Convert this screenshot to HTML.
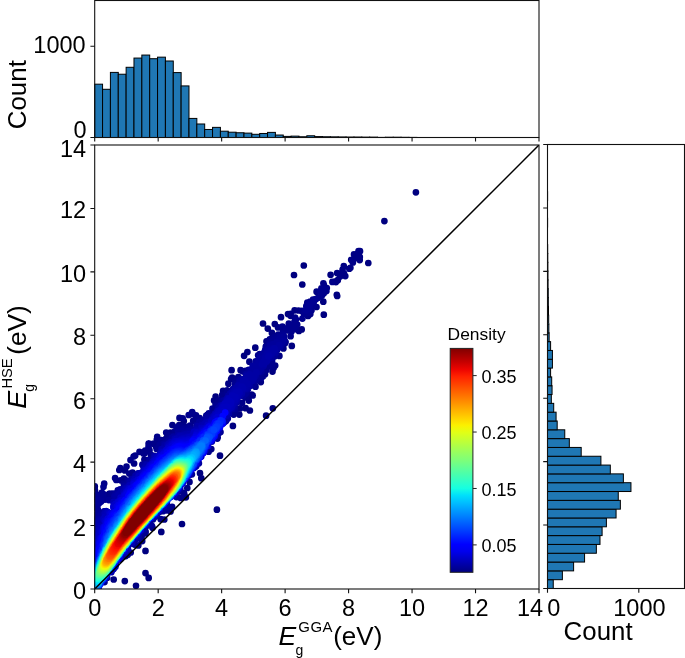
<!DOCTYPE html>
<html><head><meta charset="utf-8"><title>Band gap density plot</title>
<style>
html,body{margin:0;padding:0;background:#fff;}
body{width:685px;height:658px;overflow:hidden;}
svg{display:block;will-change:transform;font-family:"Liberation Sans",Arial,sans-serif;fill:#000;}
</style></head><body>
<svg width="685" height="658" viewBox="0 0 685 658">
<defs>
<clipPath id="cm"><rect x="94.7" y="145.0" width="444.3" height="444.0"/></clipPath>
<linearGradient id="jet" x1="0" y1="0" x2="0" y2="1"><stop offset="0.0000" stop-color="#800000"/><stop offset="0.0312" stop-color="#a40000"/><stop offset="0.0625" stop-color="#c80000"/><stop offset="0.0938" stop-color="#ed0400"/><stop offset="0.1250" stop-color="#ff2200"/><stop offset="0.1562" stop-color="#ff3f00"/><stop offset="0.1875" stop-color="#ff5d00"/><stop offset="0.2188" stop-color="#ff7a00"/><stop offset="0.2500" stop-color="#ff9800"/><stop offset="0.2812" stop-color="#ffb600"/><stop offset="0.3125" stop-color="#ffd300"/><stop offset="0.3438" stop-color="#fbf100"/><stop offset="0.3750" stop-color="#e1ff16"/><stop offset="0.4062" stop-color="#c7ff30"/><stop offset="0.4375" stop-color="#adff49"/><stop offset="0.4688" stop-color="#94ff63"/><stop offset="0.5000" stop-color="#7dff7a"/><stop offset="0.5312" stop-color="#63ff94"/><stop offset="0.5625" stop-color="#49ffad"/><stop offset="0.5938" stop-color="#30ffc7"/><stop offset="0.6250" stop-color="#16ffe1"/><stop offset="0.6562" stop-color="#00e0fb"/><stop offset="0.6875" stop-color="#00c0ff"/><stop offset="0.7188" stop-color="#00a0ff"/><stop offset="0.7500" stop-color="#0080ff"/><stop offset="0.7812" stop-color="#0060ff"/><stop offset="0.8125" stop-color="#0040ff"/><stop offset="0.8438" stop-color="#0020ff"/><stop offset="0.8750" stop-color="#0000ff"/><stop offset="0.9062" stop-color="#0000ed"/><stop offset="0.9375" stop-color="#0000c8"/><stop offset="0.9688" stop-color="#0000a4"/><stop offset="1.0000" stop-color="#000080"/></linearGradient>
</defs>
<rect width="685" height="658" fill="#fff"/>
<!-- top histogram -->
<g fill="#1f77b4" stroke="#000" stroke-width="1">
<rect x="94.70" y="84.18" width="7.86" height="53.32"/>
<rect x="102.56" y="89.29" width="7.86" height="48.21"/>
<rect x="110.41" y="72.40" width="7.86" height="65.10"/>
<rect x="118.27" y="74.23" width="7.86" height="63.27"/>
<rect x="126.13" y="67.29" width="7.86" height="70.21"/>
<rect x="133.98" y="58.07" width="7.86" height="79.43"/>
<rect x="141.84" y="55.06" width="7.86" height="82.44"/>
<rect x="149.70" y="58.71" width="7.86" height="78.79"/>
<rect x="157.55" y="57.16" width="7.86" height="80.34"/>
<rect x="165.41" y="60.99" width="7.86" height="76.51"/>
<rect x="173.27" y="72.59" width="7.86" height="64.91"/>
<rect x="181.12" y="85.92" width="7.86" height="51.58"/>
<rect x="188.98" y="118.42" width="7.86" height="19.08"/>
<rect x="196.83" y="123.99" width="7.86" height="13.51"/>
<rect x="204.69" y="129.47" width="7.86" height="8.03"/>
<rect x="212.55" y="127.37" width="7.86" height="10.13"/>
<rect x="220.40" y="131.20" width="7.86" height="6.30"/>
<rect x="228.26" y="132.20" width="7.86" height="5.30"/>
<rect x="236.12" y="132.75" width="7.86" height="4.75"/>
<rect x="243.97" y="133.12" width="7.86" height="4.38"/>
<rect x="251.83" y="134.30" width="7.86" height="3.20"/>
<rect x="259.69" y="133.48" width="7.86" height="4.02"/>
<rect x="267.54" y="132.39" width="7.86" height="5.11"/>
<rect x="275.40" y="135.03" width="7.86" height="2.47"/>
<rect x="283.26" y="136.40" width="7.86" height="1.10"/>
<rect x="291.11" y="136.13" width="7.86" height="1.37"/>
<rect x="298.97" y="136.77" width="7.86" height="0.73"/>
<rect x="306.83" y="135.77" width="7.86" height="1.73"/>
<rect x="314.68" y="136.59" width="7.86" height="0.91"/>
<rect x="322.54" y="136.77" width="7.86" height="0.73"/>
<rect x="330.40" y="136.86" width="7.86" height="0.64"/>
<rect x="338.25" y="136.95" width="7.86" height="0.55"/>
<rect x="346.11" y="137.04" width="7.86" height="0.46"/>
<rect x="353.97" y="137.04" width="7.86" height="0.46"/>
<rect x="361.82" y="137.13" width="7.86" height="0.37"/>
<rect x="369.68" y="137.13" width="7.86" height="0.37"/>
<rect x="377.53" y="137.41" width="7.86" height="0.09"/>
<rect x="385.39" y="137.23" width="7.86" height="0.27"/>
<rect x="393.25" y="137.23" width="7.86" height="0.27"/>
<rect x="401.10" y="137.32" width="7.86" height="0.18"/>
<rect x="408.96" y="137.41" width="7.86" height="0.09"/>
</g>
<!-- right histogram -->
<g fill="#1f77b4" stroke="#000" stroke-width="1">
<rect x="547.50" y="579.68" width="5.75" height="8.82"/>
<rect x="547.50" y="570.87" width="14.88" height="8.82"/>
<rect x="547.50" y="562.05" width="26.11" height="8.82"/>
<rect x="547.50" y="553.23" width="37.07" height="8.82"/>
<rect x="547.50" y="544.42" width="48.85" height="8.82"/>
<rect x="547.50" y="535.60" width="52.50" height="8.82"/>
<rect x="547.50" y="526.78" width="54.60" height="8.82"/>
<rect x="547.50" y="517.97" width="58.89" height="8.82"/>
<rect x="547.50" y="509.15" width="68.57" height="8.82"/>
<rect x="547.50" y="500.33" width="72.86" height="8.82"/>
<rect x="547.50" y="491.52" width="70.76" height="8.82"/>
<rect x="547.50" y="482.70" width="83.45" height="8.82"/>
<rect x="547.50" y="473.88" width="75.87" height="8.82"/>
<rect x="547.50" y="465.07" width="62.81" height="8.82"/>
<rect x="547.50" y="456.25" width="53.41" height="8.82"/>
<rect x="547.50" y="447.43" width="33.69" height="8.82"/>
<rect x="547.50" y="438.62" width="21.82" height="8.82"/>
<rect x="547.50" y="429.80" width="17.26" height="8.82"/>
<rect x="547.50" y="420.99" width="9.68" height="8.82"/>
<rect x="547.50" y="412.17" width="8.58" height="8.82"/>
<rect x="547.50" y="403.35" width="6.21" height="8.82"/>
<rect x="547.50" y="394.54" width="3.83" height="8.82"/>
<rect x="547.50" y="385.72" width="4.56" height="8.82"/>
<rect x="547.50" y="376.90" width="4.20" height="8.82"/>
<rect x="547.50" y="368.09" width="3.10" height="8.82"/>
<rect x="547.50" y="359.27" width="4.93" height="8.82"/>
<rect x="547.50" y="350.45" width="4.93" height="8.82"/>
<rect x="547.50" y="341.64" width="3.10" height="8.82"/>
<rect x="547.50" y="332.82" width="1.64" height="8.82"/>
<rect x="547.50" y="324.00" width="1.37" height="8.82"/>
<rect x="547.50" y="315.19" width="1.19" height="8.82"/>
<rect x="547.50" y="306.37" width="1.00" height="8.82"/>
<rect x="547.50" y="297.55" width="0.82" height="8.82"/>
<rect x="547.50" y="288.74" width="0.73" height="8.82"/>
<rect x="547.50" y="279.92" width="0.55" height="8.82"/>
<rect x="547.50" y="271.10" width="0.46" height="8.82"/>
<rect x="547.50" y="262.29" width="0.37" height="8.82"/>
<rect x="547.50" y="253.47" width="0.27" height="8.82"/>
<rect x="547.50" y="244.65" width="0.18" height="8.82"/>
<rect x="547.50" y="218.20" width="0.09" height="8.82"/>
<rect x="547.50" y="191.75" width="0.09" height="8.82"/>
</g>
<!-- scatter -->
<g clip-path="url(#cm)" fill="none" stroke-width="6.7" stroke-linecap="round">
<path stroke="#000080" d="M216.9 509.7h0M182.0 524.0h0M415.9 192.3h0M368.3 263.0h0M263.0 323.5h0M124.8 581.1h0M384.4 221.1h0M148.7 577.9h0M113.7 579.5h0M220.0 455.7h0M249.9 410.5h0M145.5 550.9h0M161.3 531.9h0M323.8 314.7h0M303.8 265.5h0M294.0 275.0h0M145.5 573.1h0M136.0 585.8h0M231.6 370.2h0M302.3 284.5h0M267.8 328.6h0M255.3 347.7h0M291.8 345.9h0M232.9 425.9h0M336.8 294.8h0M337.2 296.0h0M247.4 352.0h0M281.0 317.2h0M244.1 355.8h0M183.8 421.1h0M201.3 478.2h0M323.3 301.7h0M274.8 324.0h0M214.1 400.4h0M301.7 329.4h0M272.8 408.3h0M266.1 415.7h0M94.8 486.4h0M245.6 408.2h0M185.9 497.3h0M239.3 414.6h0M98.0 589.0h0M272.5 371.6h0M288.0 314.0h0M200.0 473.2h0M94.7 487.5h0M215.6 396.6h0M298.9 330.9h0M330.6 274.8h0M155.9 446.3h0M94.9 507.3h0M359.7 260.1h0M101.7 497.8h0M294.6 310.3h0M232.1 377.5h0"/>
<path stroke="#000084" d="M345.3 276.1h0M252.7 395.4h0M248.8 400.6h0M231.1 379.1h0M354.0 254.4h0M290.7 313.8h0M271.9 332.9h0M240.6 370.2h0M164.3 519.5h0M249.4 361.7h0M95.0 490.6h0M94.9 490.7h0M359.5 258.9h0M358.5 251.2h0M123.9 478.5h0M298.5 310.5h0M290.6 315.8h0M273.7 367.8h0M179.5 417.9h0M275.2 365.6h0M228.4 383.7h0M179.2 425.2h0M251.6 394.7h0M343.8 266.1h0M120.3 468.2h0M316.5 307.0h0M125.9 552.0h0M360.0 251.2h0M278.0 327.4h0M240.0 408.4h0M359.8 256.9h0M323.4 283.3h0M94.8 492.6h0M337.1 273.1h0M223.1 390.9h0M119.3 470.0h0M96.7 508.3h0M170.5 511.5h0M170.5 432.5h0M310.3 314.0h0M172.4 425.0h0M266.5 341.3h0M211.3 449.1h0M351.2 259.8h0M260.8 382.1h0M358.3 257.1h0M130.7 552.5h0M342.6 269.5h0M142.2 541.1h0M337.8 280.2h0M189.5 481.9h0M350.4 267.8h0M335.9 282.1h0M308.0 316.0h0M349.3 268.7h0M355.1 258.1h0M134.1 463.5h0M138.3 545.4h0M187.3 488.0h0M338.9 273.9h0M124.9 470.4h0M184.2 493.9h0M344.0 273.5h0M133.6 456.5h0M335.7 281.4h0M279.4 355.9h0M167.5 436.0h0M139.5 451.8h0M316.6 291.7h0M94.8 494.9h0M340.0 276.5h0M283.4 348.5h0"/>
<path stroke="#000089" d="M135.2 455.5h0M352.7 261.7h0M180.7 497.9h0M130.5 460.1h0M352.9 262.4h0M160.7 519.2h0M183.8 492.9h0M157.2 436.8h0M307.3 302.5h0M120.7 480.3h0M126.5 466.5h0M149.5 524.0h0M255.5 386.7h0M282.4 326.7h0M166.2 432.5h0M242.1 402.8h0M129.3 473.6h0M242.8 371.3h0M152.5 527.8h0M172.1 506.8h0M296.1 329.2h0M222.1 395.0h0M120.2 559.1h0M219.2 400.5h0M115.1 478.0h0M116.3 480.0h0M156.8 439.7h0M332.4 281.9h0M233.7 414.6h0M182.7 418.3h0M295.1 317.5h0M288.8 323.5h0M104.2 483.5h0M94.9 495.8h0M326.4 291.1h0M196.0 415.3h0M127.7 554.7h0M268.4 340.8h0M108.3 494.5h0M193.2 420.9h0M182.2 426.1h0M149.5 450.2h0M148.6 443.6h0M245.7 397.4h0M141.6 537.1h0M148.6 443.7h0M324.1 285.7h0M311.5 310.3h0M148.9 443.6h0M269.8 339.4h0M153.6 443.7h0M144.4 459.5h0M208.6 451.7h0M227.2 390.3h0M182.7 426.2h0M109.7 493.5h0M272.1 366.0h0M104.5 582.1h0M215.6 404.5h0M290.6 336.2h0M321.4 288.3h0M282.6 328.6h0M237.6 378.1h0M238.4 377.2h0M218.1 400.7h0M192.2 412.0h0M217.3 438.6h0M167.0 510.2h0M94.7 497.0h0M270.4 339.2h0M144.8 453.0h0M145.6 531.7h0M143.5 453.6h0M326.8 288.1h0M235.5 410.9h0M323.8 293.2h0M324.5 286.8h0M195.9 420.2h0M166.1 438.7h0M301.9 310.9h0M181.0 427.3h0M247.6 394.0h0M107.2 577.8h0M132.5 472.6h0M166.4 510.3h0M265.0 374.3h0M145.2 450.5h0M183.8 426.4h0M263.3 376.1h0M322.0 295.2h0M217.7 437.6h0"/>
<path stroke="#00008d" d="M148.5 447.0h0M97.1 494.9h0M308.6 312.2h0M235.4 381.6h0M134.6 544.6h0M323.5 288.8h0M258.1 355.3h0M261.2 377.9h0M321.1 296.0h0M295.9 319.5h0M188.7 415.0h0M96.2 515.9h0M125.7 556.1h0M96.9 514.4h0M308.1 312.6h0M272.0 364.4h0M308.0 303.8h0M176.5 497.1h0M181.0 427.8h0M302.4 318.6h0M297.2 324.5h0M152.0 526.0h0M108.6 498.2h0M286.5 328.4h0M161.3 440.2h0M178.9 491.6h0M294.5 321.6h0M306.3 306.2h0M271.3 365.1h0M322.0 290.2h0M169.9 435.7h0M150.9 454.8h0M198.1 419.6h0M174.9 431.3h0M180.8 427.9h0M321.9 294.0h0M291.5 324.9h0M181.9 427.6h0M244.6 371.6h0M320.2 291.5h0M126.4 555.0h0M270.6 365.7h0M310.2 301.6h0M313.6 305.3h0M285.0 343.3h0M156.7 448.9h0M96.0 497.0h0M196.8 420.9h0M192.7 414.1h0M245.5 370.8h0M294.9 326.3h0M269.7 366.5h0M145.3 533.5h0M295.6 322.5h0M260.6 377.4h0M212.5 408.7h0M293.7 327.9h0M126.6 554.4h0M294.5 325.0h0M103.5 486.8h0M227.6 392.3h0M274.2 337.3h0M285.6 342.0h0M94.7 499.2h0M157.6 448.3h0M270.6 364.0h0M306.4 312.9h0M266.4 370.1h0M259.7 354.1h0M278.2 334.6h0M310.9 301.5h0M237.4 380.4h0M164.9 441.0h0M269.2 365.7h0M98.4 513.4h0M226.6 393.8h0M291.5 331.5h0M290.4 328.2h0M164.8 507.5h0M272.1 361.1h0M318.1 297.8h0M307.0 306.7h0M199.7 418.1h0M101.9 492.5h0M271.7 340.0h0M265.8 346.6h0M269.1 365.4h0M190.0 425.7h0M160.7 445.3h0M282.7 332.9h0M187.9 426.7h0M313.0 299.7h0M185.8 427.5h0M304.0 313.8h0M287.7 330.5h0M105.0 499.6h0M111.9 494.0h0M216.5 405.9h0"/>
<path stroke="#000092" d="M309.5 308.5h0M94.8 499.9h0M305.7 310.3h0M269.9 342.4h0M308.6 309.0h0M103.3 494.1h0M315.7 299.2h0M310.4 303.6h0M308.4 306.4h0M153.1 519.2h0M308.4 308.6h0M177.4 430.6h0M158.5 448.0h0M313.8 301.7h0M217.4 405.6h0M313.5 301.7h0M142.4 464.7h0M221.6 400.8h0M99.6 495.5h0M220.5 432.1h0M112.7 499.8h0M282.9 334.4h0M234.8 408.9h0M208.8 413.4h0M94.7 501.0h0M113.0 493.6h0M176.8 427.3h0M103.2 497.2h0M266.4 346.9h0M256.3 380.6h0M274.4 356.4h0M94.7 501.3h0M94.8 501.2h0M183.8 428.9h0M96.3 521.0h0M123.8 483.9h0M235.1 384.4h0M183.2 429.0h0M166.3 508.1h0M216.1 436.5h0M132.5 541.9h0M185.6 428.7h0M95.8 500.0h0M183.7 429.0h0M94.8 501.7h0M252.6 385.2h0M94.8 501.7h0M94.8 501.8h0M272.0 341.4h0M97.8 518.3h0M279.8 336.9h0M206.3 415.5h0M274.6 339.6h0M159.8 444.5h0M99.0 497.6h0M245.7 393.6h0M207.5 414.7h0M274.4 340.0h0M277.8 338.2h0M183.4 429.6h0M191.9 474.3h0M101.1 501.6h0M254.6 382.2h0M94.8 503.3h0M246.5 392.4h0"/>
<path stroke="#000096" d="M94.9 503.5h0M95.0 509.5h0M100.7 500.5h0M189.0 428.1h0M96.2 501.7h0M97.9 499.8h0M94.7 507.3h0M94.9 512.5h0M239.9 379.4h0M95.2 508.4h0M94.8 512.9h0M94.8 513.1h0M208.7 414.8h0M284.1 336.5h0M95.0 506.3h0M95.2 505.0h0M94.7 513.9h0M94.8 513.6h0M182.8 430.1h0M281.3 337.7h0M96.6 507.8h0M97.3 507.7h0M94.9 513.8h0M95.1 513.5h0M96.5 507.2h0M99.2 503.0h0M270.3 344.0h0M94.9 514.2h0M95.7 505.7h0M95.8 504.9h0M97.8 509.4h0M245.2 393.7h0M94.7 515.1h0M255.6 380.2h0M98.4 504.1h0M243.2 396.1h0M96.5 504.1h0M94.8 515.4h0M97.0 503.2h0M117.8 490.4h0M96.3 523.6h0M95.7 513.7h0M261.5 371.4h0M166.9 504.4h0M163.6 443.8h0M274.5 355.1h0M95.8 514.1h0M127.7 480.7h0M256.9 378.0h0M279.2 339.3h0M162.9 511.2h0M94.7 518.5h0M95.1 518.0h0M97.7 513.8h0M284.3 339.5h0M95.0 518.5h0M265.1 350.2h0M95.0 518.5h0M120.6 556.7h0M95.2 518.3h0M97.9 514.3h0M159.6 511.8h0M255.8 361.3h0M144.8 527.2h0M179.7 431.5h0M98.8 518.6h0M96.7 516.2h0M108.9 500.1h0M248.7 369.8h0M282.7 342.9h0M280.5 346.4h0M239.1 381.0h0M274.3 354.7h0M234.8 406.8h0M180.2 488.5h0M94.8 520.1h0M283.2 341.0h0M143.4 465.3h0"/>
<path stroke="#00009b" d="M178.2 432.2h0M275.9 352.7h0M182.2 431.4h0M283.1 341.2h0M180.9 431.6h0M280.0 347.0h0M270.3 345.7h0M216.4 435.7h0M101.2 513.9h0M139.4 533.1h0M100.7 515.1h0M252.7 365.5h0M99.6 517.9h0M199.3 421.8h0M276.5 342.3h0M227.8 418.5h0M197.0 425.0h0M273.6 344.0h0M196.4 425.4h0M120.2 489.4h0M94.8 521.1h0M104.4 574.0h0M138.7 537.1h0M112.7 562.1h0M133.5 538.0h0M118.4 554.2h0M135.9 538.9h0M108.5 569.2h0M138.6 533.9h0M133.0 539.1h0M141.2 530.0h0M106.7 575.4h0M155.5 516.6h0M143.6 530.0h0M136.5 539.0h0M146.2 526.3h0M150.6 524.3h0M119.7 553.0h0M181.8 431.9h0M119.3 490.3h0M260.1 357.0h0M275.9 352.2h0M115.7 493.7h0M281.1 344.3h0M248.0 388.9h0M204.0 419.9h0M223.6 400.7h0M252.9 365.7h0M96.4 519.2h0M262.7 354.4h0M149.5 459.6h0M263.8 353.2h0M253.7 380.7h0M279.9 345.8h0M268.9 348.3h0M104.0 511.4h0M198.9 463.3h0M271.2 357.7h0M264.6 352.4h0M164.2 444.4h0M224.5 401.9h0M94.9 521.8h0M218.4 433.4h0M256.0 362.4h0M226.8 419.6h0M168.5 440.5h0M226.1 420.8h0M232.8 389.7h0M249.9 385.8h0M246.1 374.1h0M197.1 425.9h0M94.8 522.4h0M261.8 356.0h0M184.3 432.1h0M165.5 443.4h0M277.3 349.5h0M257.0 361.6h0M279.9 343.3h0M252.6 366.7h0M253.0 366.3h0"/>
<path stroke="#00009f" d="M233.5 388.9h0M275.2 352.4h0M145.1 464.4h0M218.0 408.7h0M207.7 417.6h0M188.2 431.0h0M259.4 359.0h0M143.7 465.8h0M267.8 350.3h0M198.1 462.6h0M249.8 385.5h0M171.9 437.8h0M266.7 351.6h0M241.2 380.1h0M239.8 381.7h0M279.2 345.2h0M95.3 531.6h0M124.7 485.9h0M258.8 372.0h0M96.2 589.0h0M269.4 349.7h0M246.8 389.2h0M263.5 365.9h0M253.7 366.1h0M192.5 429.5h0M249.8 385.3h0M114.4 496.3h0M195.3 466.7h0M268.4 350.8h0M249.7 385.2h0M101.4 516.4h0M228.4 395.6h0M256.3 366.1h0M266.7 352.7h0M230.0 393.7h0M260.9 368.7h0M258.6 362.2h0M265.0 354.6h0M267.1 352.5h0M173.6 436.7h0M227.1 418.1h0M105.7 578.1h0M253.6 367.1h0M255.4 366.2h0M234.0 406.4h0M130.0 543.8h0M272.7 348.2h0M276.4 349.6h0M187.4 432.1h0M184.1 432.9h0M255.3 376.3h0M253.2 379.6h0M253.1 368.1h0M250.8 370.2h0M225.1 421.6h0M242.3 379.4h0M251.9 374.4h0M183.8 433.0h0M262.2 366.7h0M264.1 357.0h0M255.9 375.0h0M154.3 516.6h0M261.9 366.9h0M266.5 361.8h0M266.9 353.7h0M252.3 370.4h0M263.8 357.8h0M276.8 348.2h0M241.7 380.3h0M275.6 350.4h0M236.7 402.2h0M257.6 369.7h0M232.1 409.0h0M261.4 362.8h0M186.7 432.6h0M98.1 519.1h0"/>
<path stroke="#0000a4" d="M256.4 372.3h0M248.6 385.9h0M253.6 378.0h0M250.1 376.1h0M267.4 353.9h0M264.1 364.0h0M95.9 522.5h0M267.3 360.5h0M251.4 376.5h0M94.9 524.3h0M254.4 375.0h0M251.6 381.0h0M249.7 374.3h0M157.3 513.4h0M264.4 363.4h0M269.5 352.1h0M274.5 348.3h0M189.1 475.3h0M271.0 350.8h0M265.1 357.7h0M198.7 426.3h0M154.1 455.9h0M165.0 445.0h0M219.1 407.4h0M248.7 377.6h0M261.9 364.3h0M207.9 419.7h0M270.8 351.2h0M246.4 376.0h0M247.0 375.5h0M262.6 362.8h0M273.7 349.2h0M246.4 388.4h0M251.8 379.8h0M268.4 353.8h0M202.5 423.1h0M115.4 566.8h0M245.8 376.8h0M274.9 349.5h0M251.9 379.1h0M131.7 479.2h0M233.6 390.1h0M237.9 385.3h0M263.2 362.0h0M99.3 523.2h0M263.5 361.4h0M248.1 378.7h0M249.6 379.1h0M95.2 524.6h0M272.6 350.2h0M248.2 385.5h0M96.8 521.9h0M206.4 421.1h0M264.7 362.3h0M193.4 430.5h0M264.3 362.6h0M231.7 392.6h0M94.8 525.4h0M228.9 413.6h0M220.6 405.7h0M94.9 525.3h0M145.4 525.7h0M243.9 379.0h0M250.3 379.6h0M104.9 514.0h0M243.4 379.6h0M121.8 490.5h0M250.2 381.5h0M245.8 377.6h0M129.6 481.8h0M123.8 488.4h0M103.3 515.1h0M94.9 525.5h0M273.2 351.6h0M118.0 494.4h0M135.4 537.0h0M272.7 351.0h0M273.1 351.1h0M94.8 526.0h0M271.6 354.2h0M272.0 351.5h0M236.0 387.8h0M249.1 380.7h0M272.3 353.0h0M188.9 433.0h0M245.7 378.6h0M271.2 352.6h0M266.9 357.5h0M245.6 379.4h0M178.0 435.4h0M116.5 496.2h0M218.7 431.4h0M241.5 394.3h0"/>
<path stroke="#0000a8" d="M94.8 526.7h0M185.6 434.2h0M186.4 434.0h0M94.7 531.4h0M94.7 531.8h0M94.7 527.1h0M245.1 380.2h0M135.5 475.7h0M268.4 356.5h0M269.2 356.0h0M269.0 355.7h0M94.7 532.3h0M94.7 530.6h0M94.8 527.0h0M246.0 382.0h0M195.9 429.2h0M105.2 511.3h0M94.9 532.2h0M247.7 383.9h0M94.8 532.6h0M94.7 530.0h0M94.9 530.3h0M117.6 560.0h0M161.4 449.2h0M94.9 530.4h0M185.1 434.4h0M94.8 527.7h0M94.8 529.5h0M187.8 433.8h0M94.8 528.1h0M242.9 381.6h0M138.0 473.3h0M146.7 464.5h0M95.0 529.5h0M221.6 407.5h0M120.5 559.1h0M184.5 434.6h0M164.2 506.1h0M105.0 511.9h0M245.1 388.3h0M227.5 398.0h0M236.3 401.2h0M120.3 492.9h0M245.3 387.8h0M242.0 392.9h0M130.9 480.9h0M98.1 521.7h0M95.4 527.2h0M111.3 572.2h0M236.9 387.7h0M223.4 423.1h0M211.9 441.6h0M118.8 494.5h0M239.1 385.5h0M137.1 537.2h0M95.3 532.5h0M95.6 527.9h0M95.6 527.4h0M197.9 426.1h0M105.3 518.1h0M232.2 407.3h0M242.8 383.7h0M100.3 519.4h0M243.0 383.8h0M196.3 466.1h0M193.0 431.8h0M104.8 518.5h0M226.7 399.2h0M233.0 392.1h0M193.1 431.7h0M113.5 569.0h0M104.1 518.4h0M242.2 384.4h0M239.9 395.5h0M241.3 393.2h0M236.9 399.9h0M182.4 435.2h0M234.7 390.6h0M243.6 386.0h0M124.5 553.1h0M240.3 385.6h0M201.8 425.2h0M97.3 528.6h0M98.0 523.2h0"/>
<path stroke="#0000ad" d="M189.5 434.1h0M98.1 523.9h0M202.4 425.1h0M243.1 388.2h0M241.8 386.7h0M179.8 435.9h0M222.7 407.2h0M98.1 525.5h0M101.0 520.7h0M104.6 513.7h0M162.7 448.8h0M124.7 488.9h0M101.4 521.7h0M234.4 391.3h0M174.0 495.2h0M242.4 387.6h0M185.1 435.6h0M98.8 524.7h0M196.8 429.6h0M100.4 524.1h0M237.5 398.3h0M183.8 435.6h0M174.6 438.5h0M234.4 403.1h0M168.7 443.5h0M106.2 511.1h0M95.0 534.9h0M167.5 444.6h0M241.8 388.6h0M205.8 423.3h0M188.3 435.0h0M218.8 411.4h0M146.5 465.6h0M101.0 522.7h0M241.0 389.4h0M98.7 528.7h0M96.4 532.7h0M127.4 548.9h0M94.7 536.1h0M236.2 399.6h0M215.0 413.8h0M240.1 392.6h0M201.3 426.4h0M232.2 406.0h0M94.9 535.8h0M147.2 465.1h0M206.8 422.0h0M94.9 536.0h0M94.8 536.2h0M94.8 536.3h0M94.7 536.3h0M226.4 415.8h0M113.5 568.6h0M238.1 390.2h0M124.0 490.5h0M138.5 474.2h0"/>
<path stroke="#0000b2" d="M231.5 407.0h0M170.7 442.2h0M217.3 411.3h0M214.1 416.2h0M205.4 423.3h0M239.4 392.7h0M196.3 430.7h0M238.5 394.8h0M141.1 530.1h0M238.8 391.6h0M132.1 542.7h0M154.7 457.6h0M105.1 514.1h0M143.7 469.1h0M226.2 415.8h0M232.2 394.8h0M144.8 468.0h0M113.4 502.2h0M237.4 392.0h0M94.7 537.2h0M185.4 436.8h0M236.2 392.3h0M229.0 398.1h0M238.2 392.7h0M126.8 487.6h0M222.4 405.5h0M238.0 394.3h0M97.2 532.5h0M122.2 553.2h0M95.0 536.6h0M212.6 417.9h0M193.5 432.9h0M232.6 404.5h0M181.5 436.7h0M228.4 398.9h0M94.8 537.2h0M213.2 416.4h0M208.1 446.4h0M179.2 437.0h0M235.0 400.3h0M215.3 414.0h0M236.9 396.4h0M231.8 405.8h0M237.3 393.7h0M229.0 398.5h0M235.1 394.0h0M236.4 396.6h0M222.8 405.2h0M193.2 433.4h0M99.6 528.7h0M99.2 529.8h0M235.9 394.2h0M98.4 532.5h0M216.4 412.9h0M98.1 533.5h0M204.3 425.0h0M230.2 408.2h0M181.7 437.1h0M140.2 473.2h0M126.3 488.6h0M94.7 538.8h0M226.5 414.7h0M127.9 547.9h0M94.8 541.6h0M94.7 543.4h0M178.7 437.5h0M94.7 539.3h0M94.8 538.8h0M94.7 539.3h0M94.7 540.0h0M94.9 538.7h0"/>
<path stroke="#0000b6" d="M94.7 539.6h0M94.9 542.2h0M94.8 543.0h0M94.9 542.6h0M232.9 395.8h0M103.3 519.0h0M235.5 397.2h0M94.9 541.3h0M219.8 427.2h0M155.9 457.0h0M95.3 537.5h0M134.7 479.1h0M94.9 540.4h0M98.8 530.8h0M94.9 540.0h0M225.1 403.0h0M171.7 442.1h0M226.6 401.5h0M94.9 543.8h0M188.0 436.5h0M229.3 398.8h0M226.6 401.4h0M201.1 427.9h0M95.1 542.5h0M228.9 399.2h0M220.0 426.7h0M169.2 444.4h0M95.2 540.5h0M213.9 436.9h0M96.1 540.0h0M156.3 456.8h0M126.1 489.2h0M234.3 396.8h0M197.4 462.8h0M95.9 536.4h0M100.8 526.3h0M94.8 544.8h0M234.0 397.2h0M234.1 397.5h0M161.5 451.6h0M185.6 437.6h0M167.9 445.8h0M133.6 480.7h0M123.7 492.2h0M126.9 488.4h0M230.0 407.6h0M95.5 542.8h0M176.1 492.4h0M176.3 438.9h0M230.4 398.7h0M193.7 468.1h0M95.6 542.2h0M95.8 540.7h0M220.6 425.1h0M95.1 544.9h0M129.5 485.4h0M124.8 491.1h0M111.8 570.6h0M94.8 546.7h0M95.5 544.0h0M230.1 406.8h0M208.6 422.4h0M175.2 439.8h0M184.2 438.2h0M116.0 564.5h0M94.8 547.0h0M230.9 404.8h0M231.8 400.6h0M214.3 417.6h0M231.3 400.1h0M94.8 547.4h0M106.8 513.0h0M229.0 408.6h0M209.4 421.6h0"/>
<path stroke="#0000bb" d="M224.9 404.2h0M224.6 404.5h0M94.8 547.7h0M94.7 548.4h0M185.6 438.1h0M214.7 417.3h0M94.8 548.6h0M229.7 400.9h0M231.0 402.1h0M230.8 403.7h0M94.8 548.6h0M220.2 409.5h0M227.0 412.3h0M95.1 546.6h0M214.1 435.9h0M96.8 539.5h0M104.8 517.1h0M227.6 402.3h0M202.0 428.1h0M222.4 407.1h0M219.3 410.6h0M104.1 519.0h0M99.6 531.4h0M188.2 437.3h0M94.9 550.1h0M138.6 476.0h0M182.2 438.5h0M230.1 403.7h0M95.1 549.0h0M97.4 535.9h0M226.6 403.4h0M100.9 529.7h0M229.1 403.2h0M193.9 467.6h0M182.2 438.6h0M182.0 438.6h0M189.0 437.1h0M98.7 534.3h0M99.0 533.5h0M228.0 403.4h0M192.5 435.4h0M227.6 410.3h0M94.8 551.6h0M215.5 433.4h0M126.5 489.7h0M107.9 512.0h0M185.3 438.6h0M182.7 483.3h0M94.7 552.1h0M216.1 414.8h0M214.5 416.6h0M125.1 551.1h0M228.6 406.2h0M152.6 461.7h0M226.2 404.7h0M215.4 433.3h0M159.7 454.3h0M94.8 552.3h0M225.6 405.4h0M227.8 406.0h0M211.8 419.8h0M178.1 489.5h0M226.1 405.6h0M149.7 464.8h0"/>
<path stroke="#0000bf" d="M183.9 439.0h0M188.8 437.5h0M100.3 530.6h0M192.7 435.6h0M227.0 406.8h0M139.0 476.1h0M223.6 407.4h0M96.9 543.1h0M101.2 528.0h0M218.1 412.9h0M94.8 547.7h0M215.6 415.7h0M226.4 407.2h0M216.5 414.8h0M95.9 549.1h0M226.7 408.7h0M216.6 414.8h0M221.8 409.5h0M160.0 454.3h0M94.7 553.4h0M98.8 535.0h0M96.6 545.5h0M96.2 548.3h0M202.9 428.5h0M99.7 536.0h0M225.9 412.2h0M94.9 553.1h0M145.2 469.8h0M171.7 443.6h0M134.1 481.6h0M169.4 445.6h0M225.2 409.2h0M95.0 552.8h0M104.7 578.4h0M194.6 435.0h0M212.9 436.9h0M174.7 441.3h0M197.3 433.2h0M220.4 411.7h0M194.1 431.9h0M96.9 546.3h0M203.7 428.1h0M201.3 456.6h0M225.2 412.5h0M98.0 538.2h0M95.3 552.6h0M223.4 411.0h0"/>
<path stroke="#0000c4" d="M223.5 411.0h0M158.3 456.4h0M223.6 416.2h0M211.2 421.3h0M138.1 532.8h0M143.2 472.3h0M145.2 470.2h0M96.5 549.2h0M156.9 457.9h0M183.3 439.9h0M222.3 412.0h0M213.2 419.4h0M179.9 486.9h0M207.6 425.0h0M221.3 412.3h0M157.9 511.6h0M94.8 554.4h0M217.6 415.0h0M181.8 440.0h0M197.8 433.3h0M128.8 488.0h0M114.0 505.1h0M186.1 478.2h0M120.6 497.7h0M159.2 455.6h0M99.7 533.6h0M133.8 482.3h0M97.8 544.8h0M94.7 554.9h0M100.2 538.2h0M104.6 530.0h0M180.7 440.2h0M142.4 473.4h0M223.6 415.1h0M154.4 460.7h0M176.1 491.7h0M211.8 421.2h0M220.2 414.1h0M215.3 417.8h0M205.2 450.6h0M168.6 447.0h0M175.7 441.3h0M203.4 429.0h0M137.9 533.0h0M99.0 541.7h0M218.2 426.2h0M222.0 418.5h0M197.5 431.8h0M94.8 555.2h0M95.3 548.7h0M98.6 537.6h0M202.0 430.2h0M163.0 452.2h0M223.0 414.9h0M180.9 440.5h0M222.8 414.9h0"/>
<path stroke="#0000c8" d="M154.7 460.7h0M115.6 503.9h0M221.9 414.7h0M113.4 506.5h0M140.6 529.9h0M149.6 466.1h0M182.4 440.5h0M220.5 415.3h0M195.7 435.5h0M94.9 555.6h0M171.5 444.7h0M216.6 428.8h0M182.7 440.5h0M104.8 520.9h0M155.7 459.8h0M174.1 442.7h0M188.5 439.4h0M221.1 419.3h0M168.4 447.5h0M221.8 417.5h0M99.0 544.4h0M100.0 540.8h0M217.3 427.3h0M217.7 417.4h0M126.2 491.9h0M177.0 441.2h0M109.4 571.0h0M94.8 556.5h0M212.8 421.3h0M219.2 423.3h0M216.1 418.7h0M184.1 440.6h0M217.7 417.7h0M215.8 429.9h0M119.3 558.5h0M184.0 440.7h0M99.4 544.1h0M188.4 439.7h0M212.9 435.4h0M183.4 440.7h0M95.4 554.7h0M94.7 557.1h0M95.0 556.2h0M94.8 556.7h0M220.8 416.8h0M144.6 471.7h0M154.8 514.6h0M220.9 418.4h0M213.6 421.2h0M219.9 421.1h0M95.7 548.9h0M190.5 439.0h0M118.1 501.7h0M109.4 513.0h0M127.9 490.1h0M135.5 481.3h0M97.1 544.1h0M94.7 557.6h0M124.4 494.4h0"/>
<path stroke="#0000cd" d="M216.8 427.4h0M189.9 472.8h0M126.8 491.5h0M94.8 557.3h0M194.3 437.1h0M95.2 551.3h0M210.8 424.0h0M151.2 464.9h0M202.8 430.4h0M152.2 463.9h0M95.0 557.1h0M216.2 418.3h0M206.1 428.0h0M188.2 440.2h0M173.6 443.7h0M102.7 537.0h0M148.4 467.9h0M186.8 440.7h0M219.7 418.7h0M218.9 418.7h0M159.3 509.9h0M94.8 558.4h0M219.1 418.7h0M119.3 558.4h0M97.8 542.1h0M197.3 433.1h0M94.7 558.6h0M165.9 450.4h0M129.6 488.3h0M184.6 441.2h0M124.3 495.0h0M106.8 574.7h0M180.6 441.6h0M178.2 441.6h0M133.2 484.1h0M133.6 483.8h0M159.8 509.4h0M203.7 450.8h0M117.8 502.5h0M113.5 507.7h0M94.9 558.6h0M94.8 559.1h0M133.7 483.7h0M186.1 441.2h0M209.1 426.1h0M96.7 546.6h0M95.9 555.0h0M97.5 550.8h0M129.8 488.3h0M215.9 427.9h0M124.3 549.6h0M212.9 423.6h0M196.4 433.7h0M183.4 441.5h0"/>
<path stroke="#0000d1" d="M211.1 425.0h0M200.0 457.1h0M146.3 470.6h0M185.7 441.6h0M183.6 441.6h0M124.0 549.9h0M217.6 421.4h0M167.5 449.4h0M215.9 422.0h0M210.8 425.6h0M195.7 437.0h0M98.3 541.7h0M94.8 559.9h0M145.5 524.2h0M169.4 447.9h0M95.9 556.0h0M113.1 567.2h0M98.0 542.8h0M118.4 502.6h0M213.2 432.7h0M94.8 560.2h0M217.3 422.6h0M126.2 493.1h0M210.4 426.2h0M123.6 496.5h0M103.6 526.8h0M186.9 441.6h0M185.0 441.9h0M95.7 551.8h0M186.4 441.8h0M182.4 441.9h0M94.7 560.6h0M216.6 424.5h0M150.1 466.8h0M215.6 423.0h0M209.1 427.5h0M217.6 417.1h0M137.9 479.8h0M208.9 427.7h0M215.3 427.6h0M155.6 461.2h0M196.1 437.1h0M97.4 552.1h0M213.0 425.0h0M101.7 531.9h0M202.1 432.3h0M207.9 428.7h0"/>
<path stroke="#0000d6" d="M202.9 431.7h0M95.0 560.1h0M128.6 490.4h0M171.9 446.2h0M188.9 441.4h0M174.3 444.3h0M213.0 432.2h0M120.4 500.7h0M192.1 439.9h0M96.2 550.7h0M215.3 426.5h0M203.5 431.7h0M214.4 424.7h0M135.1 535.9h0M105.9 522.1h0M189.9 441.2h0M153.7 463.4h0M134.1 484.2h0M96.3 556.4h0M163.8 453.4h0M177.1 443.2h0M180.3 442.7h0M103.2 528.6h0M161.0 456.0h0M107.6 518.9h0M214.0 425.8h0M105.9 522.2h0M201.3 433.3h0M134.5 483.9h0M213.5 426.2h0M188.6 441.9h0M211.7 427.3h0M182.6 442.6h0M212.0 427.2h0M206.3 445.0h0M119.8 501.9h0M210.2 428.4h0M204.5 431.8h0M155.5 461.8h0M104.2 579.2h0M144.7 473.2h0M128.5 491.1h0M182.5 442.6h0M196.3 435.1h0M110.4 514.2h0M181.2 442.7h0M129.9 489.3h0M211.9 427.6h0M165.8 451.9h0M212.9 427.2h0M147.4 470.3h0"/>
<path stroke="#0000da" d="M203.6 431.5h0M178.5 443.2h0M160.5 456.7h0M161.9 455.5h0M213.0 427.7h0M185.8 442.9h0M97.9 552.4h0M190.1 441.5h0M104.0 540.5h0M108.2 518.4h0M197.3 437.1h0M185.7 443.0h0M125.1 495.7h0M210.3 429.0h0M119.7 557.2h0M140.9 529.1h0M160.4 456.9h0M162.8 454.8h0M199.2 435.8h0M188.1 442.6h0M121.7 500.2h0M111.5 513.2h0M174.7 445.1h0M126.5 494.2h0M124.8 496.3h0M95.1 557.0h0M203.3 453.0h0M201.2 434.3h0M187.6 442.9h0M98.9 586.8h0M214.9 435.9h0M143.2 475.1h0M102.1 532.7h0M95.8 554.6h0M158.3 459.3h0M152.9 465.0h0M130.7 488.9h0M177.9 443.8h0M142.9 475.5h0M211.1 433.0h0M106.0 576.6h0M110.0 529.9h0M139.4 530.7h0M201.1 454.0h0M188.2 442.9h0M206.6 428.8h0M210.6 433.8h0M149.1 469.0h0M127.8 492.7h0"/>
<path stroke="#0000df" d="M181.4 484.1h0M123.0 550.9h0M151.8 466.2h0M136.3 534.2h0M196.3 438.4h0M181.5 443.3h0M121.8 500.5h0M100.4 538.2h0M126.2 494.9h0M127.9 492.7h0M96.0 559.4h0M98.8 543.5h0M103.8 528.7h0M107.1 521.5h0M103.8 541.8h0M204.3 434.1h0M116.8 506.7h0M107.4 521.0h0M118.1 505.2h0M181.2 484.3h0M183.4 443.6h0M208.6 438.5h0M190.7 442.1h0M194.0 440.3h0M209.6 435.3h0M193.6 440.6h0M97.7 554.8h0M118.6 504.8h0M103.4 529.9h0M131.2 488.9h0M180.0 443.8h0M104.7 526.6h0M200.9 435.6h0M163.9 454.6h0M208.4 427.3h0M118.7 504.8h0M185.7 444.1h0M178.1 444.2h0M187.1 443.9h0M99.2 543.0h0M159.7 458.4h0M169.4 449.9h0M169.8 449.6h0"/>
<path stroke="#0000e3" d="M166.7 452.3h0M176.3 445.1h0M199.2 436.6h0M104.7 527.0h0M202.2 433.5h0M181.0 443.9h0M185.6 444.3h0M151.2 517.7h0M144.9 474.1h0M95.5 557.9h0M127.5 493.8h0M206.2 434.6h0M143.2 476.0h0M186.3 444.3h0M135.9 534.6h0M101.4 546.9h0M201.2 436.2h0M161.4 457.1h0M195.7 436.9h0M95.2 562.2h0M202.1 436.2h0M140.2 479.2h0M155.0 463.7h0M204.0 435.8h0M187.2 444.2h0M127.7 493.8h0M183.6 444.3h0M189.7 443.3h0M207.8 435.1h0M196.1 463.4h0M192.9 468.0h0M133.3 486.9h0M142.6 476.8h0M184.3 444.6h0M113.6 565.5h0M94.8 563.3h0M147.3 471.9h0M120.0 554.7h0M209.9 426.1h0M186.2 444.7h0M207.2 435.5h0M198.7 437.2h0"/>
<path stroke="#0000e8" d="M171.0 449.2h0M204.3 431.6h0M99.8 583.7h0M191.6 442.7h0M174.7 446.5h0M206.9 435.9h0M188.1 444.2h0M161.7 457.2h0M119.2 505.2h0M208.7 427.3h0M168.5 451.5h0M191.5 442.9h0M95.2 560.4h0M121.4 502.7h0M104.9 527.4h0M185.5 445.1h0M98.7 587.0h0M203.5 448.1h0M191.4 443.1h0M162.3 457.0h0M99.7 543.4h0M183.2 445.0h0M196.9 460.7h0M142.6 477.5h0M191.6 443.2h0M108.5 520.8h0M211.7 440.1h0M100.9 549.2h0"/>
<path stroke="#0000ed" d="M192.7 442.7h0M102.8 545.4h0M193.8 442.1h0M167.3 452.9h0M108.2 521.4h0M197.6 438.3h0M106.9 523.8h0M95.2 561.5h0M187.2 475.9h0M113.3 513.5h0M181.4 444.9h0M200.9 438.7h0M143.4 476.7h0M114.0 512.6h0M110.6 517.7h0M130.2 491.5h0M188.6 444.7h0M96.0 589.0h0M166.9 453.4h0M150.4 469.3h0M170.5 497.1h0M101.1 539.3h0M130.2 491.7h0M170.9 496.7h0M144.3 475.8h0M152.1 467.7h0M205.8 438.4h0M185.5 445.7h0M115.0 563.2h0M98.6 555.2h0M94.8 564.1h0M112.3 515.2h0M136.7 533.4h0M98.7 548.2h0M107.5 522.9h0M101.6 581.4h0M188.5 444.9h0M135.6 485.3h0M152.9 466.9h0M96.2 557.8h0M95.4 562.8h0M122.4 502.3h0M107.1 523.7h0M166.6 453.9h0M146.0 474.2h0M138.4 482.3h0M174.6 447.3h0M120.6 504.5h0M98.2 550.0h0M94.8 564.2h0M190.3 444.4h0M134.8 486.4h0M180.0 445.4h0M204.2 438.7h0M118.4 507.4h0"/>
<path stroke="#0000f1" d="M184.2 445.9h0M95.0 564.0h0M95.3 587.5h0M198.5 439.8h0M206.2 430.3h0M159.0 460.8h0M105.0 528.5h0M181.5 445.6h0M102.0 537.4h0M202.9 439.5h0M101.7 548.6h0M203.0 452.9h0M112.6 515.4h0M187.6 445.8h0M204.5 439.8h0M196.2 439.6h0M193.1 443.2h0M94.9 564.4h0M193.9 439.3h0M143.3 477.6h0M142.3 478.6h0M97.7 553.2h0M146.2 474.6h0M96.2 586.6h0M172.2 449.6h0M94.8 564.6h0M136.8 484.7h0M98.0 585.0h0M100.6 542.6h0M185.2 446.5h0"/>
<path stroke="#0000f6" d="M162.7 457.9h0M213.1 437.8h0M136.0 485.7h0M163.0 457.6h0M114.4 513.3h0M152.5 468.1h0M162.4 458.2h0M136.9 484.8h0M187.1 446.3h0M203.8 451.6h0M177.5 446.3h0M157.1 463.4h0M104.8 530.0h0M129.9 493.2h0M149.0 471.9h0M188.7 446.0h0M203.0 440.7h0M97.4 559.3h0M104.5 531.0h0M100.5 543.5h0M95.0 565.6h0M160.2 460.4h0M148.8 472.2h0M95.6 563.2h0M157.7 463.0h0M201.5 435.4h0M139.8 481.9h0M117.3 559.5h0M173.0 449.3h0M199.9 441.5h0M181.6 446.4h0M121.5 504.8h0M167.3 500.4h0M180.8 446.4h0M200.9 441.4h0M108.6 571.9h0"/>
<path stroke="#0000fa" d="M95.9 562.3h0M183.0 446.8h0M154.5 513.8h0M155.0 513.3h0M103.2 579.0h0M179.1 446.3h0M162.2 458.9h0M187.9 474.5h0M125.3 499.8h0M188.6 446.4h0M180.7 446.5h0M102.1 538.6h0M124.1 501.6h0M184.9 447.2h0M200.3 436.8h0M144.0 477.7h0M154.2 466.9h0M191.5 445.1h0M116.4 511.4h0M179.5 446.6h0M186.1 447.3h0M128.7 495.4h0M137.0 485.4h0M202.9 446.2h0M178.5 446.6h0M105.9 575.5h0M97.0 558.1h0M207.4 446.0h0M142.2 479.8h0M119.2 508.0h0M186.1 447.4h0M144.8 477.0h0M146.4 475.4h0M163.0 458.5h0M184.1 447.4h0M222.6 423.8h0M190.1 446.2h0M108.3 523.7h0M188.8 446.8h0M113.3 515.7h0M184.3 447.5h0M108.0 572.7h0"/>
<path stroke="#0000ff" d="M99.3 549.5h0M163.6 458.1h0M187.3 475.3h0M215.0 422.4h0M96.2 562.0h0M192.7 441.0h0M94.8 565.5h0M202.3 442.6h0M100.7 581.7h0M203.6 433.7h0M157.4 464.0h0M124.1 502.1h0M98.2 553.9h0M164.0 457.9h0M136.8 486.1h0M138.5 531.0h0M109.8 569.2h0M97.7 556.1h0M199.8 457.5h0M185.3 447.9h0M188.5 447.3h0M146.0 476.2h0M181.4 447.4h0M184.6 447.9h0M125.3 500.7h0M178.8 447.1h0M194.9 442.6h0M159.4 462.3h0M180.0 447.2h0M128.2 496.8h0M181.6 447.4h0M203.8 433.6h0M139.1 483.7h0M103.3 536.5h0M175.5 448.4h0M186.4 448.1h0"/>
<path stroke="#0000ff" d="M98.4 553.8h0M190.9 445.9h0M103.2 579.4h0M133.3 490.5h0M195.4 443.4h0M145.0 477.5h0M155.3 466.6h0M114.2 515.2h0M99.9 548.3h0M167.3 455.3h0M151.0 471.2h0M174.4 449.2h0M138.2 484.9h0M130.5 493.9h0M95.2 566.8h0M188.1 447.9h0M178.7 487.1h0M169.7 453.2h0M174.0 492.8h0M147.2 475.3h0M210.7 440.7h0M188.4 447.8h0M212.4 438.2h0M198.2 444.0h0M96.1 589.0h0M152.7 469.6h0M104.0 577.6h0M195.1 462.1h0M219.9 427.2h0M166.8 456.0h0"/>
<path stroke="#0000ff" d="M181.2 448.0h0M133.0 491.2h0M200.9 444.0h0M188.4 448.0h0M173.6 450.1h0M104.2 534.6h0M177.7 447.8h0M103.6 536.5h0M110.5 521.1h0M184.6 448.6h0M94.8 566.4h0M102.5 540.0h0M184.6 479.0h0M97.4 559.4h0M180.8 448.0h0M181.4 448.2h0M159.1 463.2h0M178.3 447.8h0M213.6 436.3h0M167.6 455.4h0M170.6 452.7h0M217.2 420.8h0M184.2 448.7h0M167.8 455.3h0M191.8 445.5h0M160.8 461.7h0M130.6 494.4h0M196.8 441.0h0M110.8 520.9h0M98.1 556.7h0M167.3 455.8h0M140.8 482.8h0M105.4 531.5h0M107.3 527.3h0M182.7 448.6h0M165.9 501.6h0M180.9 448.4h0M156.2 466.4h0M133.2 491.4h0M176.1 448.8h0M202.8 452.6h0M130.2 495.1h0M159.7 462.9h0M97.4 560.2h0M103.6 537.2h0M150.9 472.1h0"/>
<path stroke="#0000ff" d="M124.5 502.7h0M120.7 507.6h0M119.3 509.3h0M146.7 521.7h0M214.7 434.5h0M100.3 583.7h0M100.6 547.6h0M138.6 485.3h0M94.9 566.5h0M186.6 449.3h0M146.6 476.7h0M184.4 449.2h0M217.0 431.0h0M177.2 448.5h0M143.1 480.6h0M199.4 438.8h0M171.3 452.5h0M199.9 445.0h0M214.8 423.6h0M163.7 503.9h0M99.4 552.3h0M196.4 441.7h0M185.5 449.4h0M182.0 448.8h0M99.0 553.7h0M225.2 412.6h0M124.2 503.3h0M166.0 457.2h0M160.7 462.1h0M95.6 566.5h0M97.1 561.8h0M157.3 465.6h0M150.4 517.8h0M173.2 451.0h0M120.2 508.6h0M139.9 484.2h0M184.5 478.9h0M123.9 503.7h0M94.9 568.4h0M142.2 481.7h0M124.1 548.5h0M191.0 469.8h0"/>
<path stroke="#0000ff" d="M182.4 449.1h0M96.1 564.1h0M183.0 481.1h0M104.6 534.9h0M105.6 532.0h0M186.7 449.6h0M127.9 498.5h0M185.3 449.8h0M100.3 555.5h0M162.4 460.8h0M145.0 478.9h0M101.7 552.6h0M179.6 448.9h0M188.2 448.8h0M135.9 488.9h0M154.6 468.8h0M107.4 572.7h0M118.3 511.3h0M172.9 451.6h0M196.2 442.1h0M144.1 480.0h0M184.2 449.9h0M199.5 457.4h0M161.6 461.6h0M139.2 485.4h0M201.8 436.7h0M120.4 508.9h0M95.5 567.4h0M179.7 449.2h0"/>
<path stroke="#0004ff" d="M139.3 485.3h0M147.1 476.9h0M193.5 444.7h0M115.2 515.7h0M173.5 451.3h0M96.5 589.0h0M137.3 532.1h0M143.7 524.9h0M184.5 450.1h0M97.6 561.1h0M192.6 445.4h0M187.0 449.7h0M94.8 567.5h0M110.7 522.6h0M187.1 449.7h0M177.3 449.3h0M97.1 588.7h0M98.0 559.9h0M97.7 587.8h0M124.3 504.0h0M101.1 547.6h0M169.5 454.8h0M211.5 427.5h0M222.7 416.0h0M155.3 468.3h0M218.2 420.8h0M145.0 479.4h0M184.7 450.5h0M171.8 452.9h0M183.1 450.1h0M172.7 452.2h0M187.9 449.2h0M106.1 532.0h0M96.6 564.5h0M96.0 566.4h0"/>
<path stroke="#0008ff" d="M122.4 506.7h0M137.8 487.3h0M192.2 445.9h0M187.8 449.3h0M180.8 449.9h0M170.7 496.3h0M212.1 437.5h0M209.7 441.2h0M180.9 449.9h0M199.5 450.1h0M180.9 449.9h0M188.2 473.6h0M123.7 549.0h0M152.3 471.7h0M101.4 547.3h0M177.9 449.6h0M141.7 483.2h0M142.4 482.4h0M101.6 546.7h0M199.6 457.0h0M144.7 479.9h0M100.3 583.6h0M155.9 468.0h0M180.3 450.1h0M116.3 515.0h0M194.4 462.1h0M211.0 428.3h0M185.7 477.0h0M148.9 475.5h0M191.9 468.2h0M160.2 463.7h0M220.1 425.6h0M206.5 432.7h0M182.7 450.5h0M104.6 537.3h0"/>
<path stroke="#000cff" d="M194.8 444.0h0M94.9 567.9h0M149.7 474.7h0M207.1 432.2h0M204.2 449.5h0M172.6 452.8h0M106.2 532.6h0M202.0 437.1h0M123.9 505.1h0M181.6 482.7h0M94.9 567.9h0M194.9 443.9h0M188.5 449.0h0M141.3 483.9h0M169.8 497.1h0M159.3 464.7h0M102.8 543.4h0M104.4 538.2h0M115.8 516.0h0M181.4 450.4h0M140.9 484.3h0M181.3 450.4h0M125.0 503.8h0M108.1 528.8h0M113.3 519.8h0M156.3 467.9h0M182.3 450.7h0M173.6 452.2h0M125.0 547.2h0M156.4 467.8h0M189.8 448.2h0M173.3 452.5h0M124.4 504.8h0M109.2 526.7h0M187.7 449.7h0M182.3 450.8h0M100.7 582.9h0M184.3 451.4h0M115.3 517.1h0M110.5 524.5h0"/>
<path stroke="#0010ff" d="M117.1 514.6h0M104.2 576.3h0M184.2 451.5h0M96.1 589.0h0M156.5 467.9h0M113.4 520.0h0M126.3 502.3h0M179.4 450.6h0M94.7 568.9h0M110.9 524.0h0M112.6 521.2h0M144.7 480.5h0M96.0 566.8h0M149.2 475.7h0M94.7 569.0h0M123.2 506.7h0M119.2 554.9h0M123.7 506.0h0M130.7 496.5h0M206.6 433.2h0M181.7 451.0h0M159.2 465.2h0M155.8 468.8h0M162.0 462.6h0M127.2 501.2h0M168.7 456.6h0M129.5 498.1h0M164.6 460.2h0M169.9 455.6h0M99.1 585.3h0M97.3 563.7h0M104.3 576.0h0M94.8 569.1h0"/>
<path stroke="#0014ff" d="M183.8 451.8h0M183.4 451.7h0M174.6 452.0h0M203.2 436.5h0M194.9 444.4h0M156.9 467.7h0M185.4 451.5h0M102.2 578.5h0M117.1 558.1h0M94.9 568.9h0M213.7 434.3h0M100.7 552.2h0M113.6 520.3h0M197.3 442.3h0M112.0 565.4h0M108.9 528.4h0M94.9 568.9h0M159.1 465.5h0M149.1 476.2h0M179.1 451.0h0M162.4 462.4h0M139.5 486.6h0M148.6 476.7h0M186.6 450.8h0M200.0 439.8h0M186.9 450.6h0M176.4 451.4h0M188.0 449.9h0M197.9 452.3h0M119.0 555.2h0M213.0 435.3h0M183.8 452.1h0M176.3 451.5h0M146.6 478.9h0M130.1 540.5h0M165.2 460.0h0M114.8 561.4h0M124.4 505.5h0M204.5 435.5h0M132.1 495.1h0M193.5 465.7h0M176.0 451.6h0M172.4 453.9h0M183.3 452.1h0"/>
<path stroke="#0018ff" d="M216.2 424.1h0M179.7 451.4h0M102.8 545.0h0M211.7 437.1h0M94.7 569.7h0M166.2 459.3h0M94.8 569.5h0M219.7 425.1h0M222.5 421.0h0M94.7 569.7h0M143.1 482.8h0M205.6 446.5h0M95.5 567.7h0M113.1 521.5h0M182.8 452.1h0M199.5 456.5h0M104.3 540.6h0M130.5 497.4h0M127.6 501.2h0M194.1 464.6h0M131.0 539.4h0M95.8 589.0h0M211.8 436.8h0M158.4 466.6h0M131.0 496.8h0M100.4 554.5h0M180.8 451.7h0M184.6 452.2h0M194.5 445.1h0M132.8 494.5h0M135.0 492.0h0M187.2 450.7h0M94.7 570.1h0M131.4 538.8h0M170.3 455.9h0M161.6 463.6h0M95.4 568.2h0M102.8 579.3h0M168.5 457.6h0"/>
<path stroke="#001cff" d="M144.2 481.9h0M181.9 452.1h0M94.7 570.3h0M199.4 456.5h0M202.1 452.1h0M101.7 581.0h0M143.5 524.8h0M179.1 451.7h0M126.6 503.0h0M103.1 577.1h0M96.4 566.4h0M99.7 584.1h0M122.6 508.6h0M150.2 475.5h0M95.6 567.8h0M214.1 433.2h0M173.2 453.9h0M137.0 489.9h0M174.0 453.3h0M174.3 453.1h0M94.7 570.4h0M168.7 457.6h0M95.3 583.9h0M103.5 543.9h0M157.1 468.2h0M168.5 457.8h0M170.8 455.8h0M179.4 451.9h0M176.1 452.3h0M178.5 486.7h0M106.1 536.2h0M178.0 487.4h0M148.4 477.5h0M166.4 459.6h0M182.6 452.7h0M196.5 449.9h0M181.0 452.2h0M110.3 527.1h0M164.6 502.5h0M146.8 479.3h0M163.2 462.4h0M110.9 526.1h0"/>
<path stroke="#0020ff" d="M175.7 452.6h0M148.4 519.4h0M217.5 423.3h0M187.3 450.9h0M128.3 500.9h0M98.4 561.7h0M116.8 517.1h0M163.5 462.3h0M200.7 439.8h0M103.3 578.5h0M189.3 471.4h0M188.1 450.3h0M155.5 470.1h0M147.4 478.8h0M114.3 520.6h0M94.8 570.5h0M177.4 452.2h0M155.6 470.0h0M143.8 482.7h0M180.4 452.3h0M192.7 447.0h0M185.3 477.1h0M123.3 508.0h0M173.4 454.1h0M96.5 583.1h0M212.0 429.0h0M161.7 464.0h0M163.2 462.6h0M166.6 459.7h0M102.0 549.7h0M153.4 472.5h0M116.2 559.0h0M125.4 505.2h0M99.0 585.1h0M94.9 570.6h0M183.3 453.1h0M170.5 456.5h0M128.3 501.1h0M150.9 475.1h0M99.0 560.1h0M156.5 469.3h0M131.9 538.2h0M173.1 454.5h0M210.3 430.8h0M173.4 454.3h0M169.4 457.4h0M109.8 528.6h0M147.4 479.0h0"/>
<path stroke="#0024ff" d="M220.6 420.3h0M117.7 516.2h0M199.3 441.4h0M216.3 429.4h0M171.7 494.7h0M131.7 496.8h0M169.5 497.2h0M185.0 452.4h0M176.4 452.8h0M115.4 519.6h0M165.8 460.6h0M114.5 520.8h0M154.8 471.2h0M154.6 512.9h0M180.4 452.7h0M112.8 523.7h0M117.4 516.7h0M172.9 454.8h0M180.6 452.8h0M134.6 493.3h0M139.4 487.9h0M187.4 474.0h0M136.8 532.2h0M94.7 571.6h0M203.8 437.2h0M104.3 542.5h0M113.4 522.7h0M173.4 454.5h0M162.2 463.8h0M116.0 518.9h0M113.2 523.1h0M159.5 507.8h0M215.3 426.0h0M115.5 519.6h0M214.6 431.6h0M169.4 457.8h0M105.8 538.2h0M94.7 572.0h0"/>
<path stroke="#0028ff" d="M120.5 512.8h0M182.6 453.5h0M128.3 501.6h0M135.4 492.6h0M168.4 498.3h0M164.9 461.7h0M202.5 450.7h0M130.2 499.0h0M111.0 527.1h0M168.2 458.9h0M172.3 455.5h0M167.9 459.2h0M217.1 427.7h0M100.1 557.8h0M204.7 447.0h0M167.0 459.9h0M187.6 451.1h0M188.5 450.5h0M201.5 452.2h0M138.8 488.9h0M101.0 554.9h0M167.6 459.5h0M203.2 449.3h0M126.9 503.7h0M140.5 487.0h0M175.1 453.9h0M180.7 453.2h0M166.5 460.4h0M94.7 572.3h0M129.9 540.6h0M131.9 497.0h0M164.6 502.3h0M144.9 482.3h0M210.5 431.1h0M168.4 458.9h0M181.0 483.2h0M94.7 572.6h0M182.0 453.7h0"/>
<path stroke="#002cff" d="M153.4 473.2h0M171.2 456.7h0M129.0 501.0h0M190.4 449.4h0M219.9 423.3h0M103.6 545.7h0M163.2 463.4h0M164.9 462.0h0M111.9 526.1h0M187.1 451.7h0M146.9 480.2h0M180.8 453.6h0M150.6 476.3h0M142.0 485.6h0M95.8 569.0h0M94.7 572.9h0M96.6 566.8h0M203.5 448.6h0M196.0 452.3h0M147.1 520.6h0M176.8 453.5h0M101.9 552.2h0M152.0 474.8h0M199.2 455.7h0M99.8 559.0h0M150.8 476.1h0M96.3 567.5h0M103.7 545.9h0M161.7 465.0h0M123.0 509.8h0M175.5 454.1h0M153.4 473.4h0M118.9 515.7h0M165.9 461.4h0M193.0 451.8h0M200.1 441.4h0M195.8 452.2h0M191.5 467.8h0M128.6 501.9h0M208.9 439.8h0M167.5 460.1h0M177.7 453.4h0M109.1 531.9h0M178.7 453.3h0M106.3 538.1h0"/>
<path stroke="#0030ff" d="M111.4 527.4h0M181.2 453.9h0M180.0 453.7h0M207.5 434.4h0M178.5 453.3h0M178.9 453.4h0M188.1 472.9h0M155.7 471.1h0M198.6 456.7h0M191.1 449.1h0M119.4 515.2h0M97.4 564.9h0M142.8 485.0h0M128.2 502.6h0M144.9 523.0h0M157.5 469.3h0M207.8 441.4h0M191.9 448.6h0M122.4 511.1h0M115.3 521.3h0M166.8 499.9h0M94.7 573.7h0M131.6 498.0h0M178.2 453.5h0M218.4 423.6h0M210.7 431.4h0M111.9 526.9h0M157.9 468.9h0M165.3 462.2h0M116.8 519.1h0M95.3 582.6h0M133.3 496.0h0M142.8 485.1h0M118.5 516.7h0M204.8 446.2h0M176.6 454.0h0M123.8 509.1h0M95.8 569.2h0M144.5 483.3h0M113.0 525.1h0M150.0 477.3h0M196.3 460.2h0M107.9 534.9h0M124.8 507.7h0M114.9 560.2h0M114.6 522.6h0"/>
<path stroke="#0034ff" d="M195.4 455.4h0M153.6 473.6h0M199.0 455.7h0M211.1 431.3h0M184.6 453.3h0M181.2 454.4h0M141.1 487.1h0M125.0 507.6h0M169.7 458.8h0M205.7 444.5h0M120.1 514.7h0M182.3 454.4h0M193.9 463.9h0M212.8 429.7h0M181.8 454.6h0M158.6 468.5h0M138.8 489.8h0M176.9 454.2h0M102.8 579.0h0M152.4 475.0h0M110.6 566.2h0M114.1 523.8h0M116.8 519.7h0M155.9 471.4h0M184.0 478.6h0M196.9 458.9h0M197.0 444.8h0M134.7 494.7h0M160.6 466.6h0M102.5 551.5h0M141.4 487.0h0M98.2 563.8h0M133.2 496.5h0M167.2 499.4h0M169.1 497.4h0M100.9 556.7h0M193.1 448.1h0M163.8 463.9h0"/>
<path stroke="#0038ff" d="M164.1 463.7h0M111.5 565.7h0M204.0 447.0h0M192.1 448.8h0M212.1 434.1h0M162.7 504.2h0M105.7 574.6h0M101.5 555.0h0M217.1 426.4h0M97.2 565.9h0M169.8 459.0h0M102.2 553.0h0M178.3 454.1h0M95.0 571.6h0M157.0 470.4h0M213.4 429.3h0M162.6 465.0h0M173.8 456.0h0M153.1 474.5h0M117.5 519.1h0M129.4 501.6h0M170.8 495.5h0M136.8 492.4h0M140.4 488.3h0M174.0 456.0h0M174.1 455.9h0M146.4 521.3h0M133.1 496.8h0M106.7 538.6h0M122.5 511.8h0M145.9 482.3h0M215.4 428.7h0M180.7 454.9h0M100.1 583.0h0M170.9 458.4h0"/>
<path stroke="#003cff" d="M138.8 490.3h0M201.3 451.5h0M113.5 525.5h0M157.1 470.6h0M211.9 431.0h0M166.1 462.3h0M94.9 574.7h0M171.8 457.7h0M208.0 434.8h0M140.9 488.0h0M100.2 578.8h0M196.5 445.7h0M177.9 454.4h0M94.8 575.2h0M168.0 460.8h0M194.8 447.1h0M194.2 447.6h0M96.8 567.1h0M178.7 454.5h0M124.3 509.5h0M211.4 434.8h0M104.8 544.5h0M215.9 427.7h0M96.3 568.5h0M175.4 455.5h0M192.1 449.2h0M215.9 427.4h0M136.4 493.2h0M150.8 477.3h0M98.3 585.7h0M147.6 480.8h0M162.8 465.3h0M125.6 507.6h0M145.6 483.0h0M116.9 520.5h0M103.1 578.4h0M167.7 461.3h0M112.7 527.2h0"/>
<path stroke="#0040ff" d="M189.4 451.1h0M124.6 509.3h0M145.3 483.4h0M137.6 492.0h0M95.2 589.0h0M126.1 507.0h0M112.3 528.0h0M165.2 463.4h0M163.2 465.1h0M124.8 509.0h0M130.0 501.4h0M171.5 458.3h0M201.2 451.2h0M183.9 454.2h0M123.9 510.5h0M176.4 455.2h0M171.4 458.4h0M152.6 475.6h0M128.3 503.9h0M132.1 498.6h0M166.8 462.3h0M154.7 512.4h0M115.9 522.4h0M115.6 522.8h0M124.5 509.7h0M104.1 547.4h0M96.2 588.7h0M141.0 488.3h0M125.6 545.7h0M192.2 465.9h0M170.8 459.0h0M174.3 456.5h0M110.8 531.1h0M106.9 570.9h0M198.5 444.4h0"/>
<path stroke="#0044ff" d="M178.8 455.1h0M167.9 461.5h0M135.9 494.2h0M190.9 450.4h0M123.5 511.4h0M111.0 530.7h0M134.3 496.2h0M185.0 476.9h0M94.7 581.1h0M200.7 451.8h0M94.7 581.1h0M198.5 444.5h0M94.7 581.0h0M94.7 581.0h0M170.2 459.7h0M213.9 429.9h0M209.7 436.8h0M186.0 453.4h0M94.7 581.0h0M94.7 581.0h0M94.7 581.0h0M183.3 454.5h0M96.8 580.9h0M94.8 581.0h0M136.9 493.3h0M131.1 500.4h0M128.0 504.7h0M96.2 569.1h0M188.1 472.2h0M180.7 455.7h0M169.5 460.3h0M108.2 536.5h0M94.8 580.9h0M205.0 444.3h0M126.5 507.0h0M163.2 465.6h0M167.8 461.8h0M186.0 475.4h0M188.2 472.1h0M121.4 514.7h0M154.7 473.9h0M95.6 570.7h0M151.5 477.2h0M94.8 580.9h0M184.0 454.3h0M94.9 580.8h0M94.8 580.7h0M175.6 456.1h0M140.5 489.3h0M110.4 532.2h0"/>
<path stroke="#0048ff" d="M121.9 514.1h0M172.0 458.5h0M145.5 483.8h0M94.9 580.8h0M123.7 511.4h0M117.1 521.3h0M161.6 505.2h0M205.9 442.7h0M167.3 462.4h0M94.9 580.7h0M94.9 576.7h0M101.7 555.6h0M189.4 470.1h0M100.0 559.8h0M95.8 570.4h0M171.5 459.0h0M107.4 538.8h0M102.4 579.3h0M107.4 538.9h0M96.9 568.8h0M178.6 455.6h0M196.4 458.6h0M184.0 454.5h0M95.4 574.7h0M170.5 459.9h0M97.1 580.4h0M188.7 452.1h0M187.6 473.0h0M137.4 493.0h0M109.8 568.1h0M203.0 447.5h0M106.9 572.5h0M115.1 524.6h0M97.0 568.7h0M118.6 519.3h0M96.6 570.2h0M95.1 580.5h0M142.4 487.4h0M171.2 459.4h0M124.8 510.2h0M112.4 529.0h0M193.8 456.6h0"/>
<path stroke="#004cff" d="M112.0 529.9h0M107.8 538.2h0M132.4 499.1h0M175.5 456.5h0M203.6 446.3h0M133.3 498.1h0M126.6 507.5h0M203.4 440.4h0M208.0 439.1h0M94.7 578.7h0M94.7 579.2h0M131.7 500.1h0M95.2 580.4h0M94.7 578.9h0M134.9 534.1h0M137.0 493.7h0M126.4 507.7h0M95.2 580.4h0M201.5 449.8h0M159.0 469.9h0M209.3 436.9h0M193.7 456.6h0M191.2 466.9h0M95.2 580.3h0M95.0 589.0h0M94.9 577.9h0M152.1 477.1h0M197.7 445.9h0M108.9 536.0h0M105.9 543.1h0M175.4 456.7h0M174.5 457.2h0M160.9 468.1h0M173.2 492.6h0M106.5 541.7h0M96.3 569.3h0M156.8 472.3h0M118.5 519.8h0M179.5 456.3h0M207.6 436.5h0M199.8 452.7h0M180.5 456.2h0M136.4 494.6h0M105.0 575.3h0M139.7 490.7h0M108.9 536.3h0M156.9 510.0h0M186.3 474.7h0M95.3 580.2h0M189.1 470.4h0"/>
<path stroke="#0050ff" d="M186.6 474.3h0M164.3 465.4h0M176.6 456.3h0M94.9 577.9h0M190.9 451.1h0M195.8 459.3h0M179.1 456.3h0M188.0 472.2h0M203.5 440.6h0M157.8 471.3h0M164.8 465.1h0M129.5 503.5h0M183.3 455.0h0M152.5 514.6h0M196.4 458.2h0M118.8 519.6h0M182.2 480.8h0M194.4 448.8h0M95.3 576.4h0M148.2 481.5h0M193.2 463.5h0M125.0 510.5h0M198.3 445.6h0M119.5 518.6h0M147.9 481.9h0M151.2 478.3h0M165.0 465.0h0M137.7 493.3h0M95.0 578.5h0M146.9 483.0h0M195.2 448.3h0M123.3 513.0h0M156.9 472.4h0M141.4 489.1h0M96.2 569.8h0M123.5 512.8h0M151.6 478.0h0M139.4 491.4h0M202.9 447.0h0M157.9 471.4h0M195.4 448.2h0M186.7 453.7h0M99.7 560.8h0M183.2 479.3h0M95.5 579.9h0"/>
<path stroke="#0054ff" d="M95.4 579.7h0M180.1 456.6h0M151.0 478.7h0M181.3 482.1h0M97.5 586.5h0M168.9 462.0h0M137.2 494.0h0M130.7 502.1h0M131.2 501.4h0M115.0 560.3h0M133.0 499.1h0M149.5 480.4h0M177.4 456.5h0M176.6 456.7h0M128.2 505.7h0M125.8 509.4h0M193.6 449.6h0M191.5 451.0h0M97.7 567.8h0M182.8 455.4h0M179.0 456.6h0M197.9 446.2h0M128.0 506.1h0M144.0 486.4h0M170.8 460.5h0M178.3 486.3h0M109.8 535.0h0M187.1 473.3h0M113.3 528.6h0M189.1 470.1h0M182.0 455.7h0M134.4 497.7h0M206.5 438.1h0M195.7 459.0h0M169.6 461.6h0M168.4 462.6h0M175.9 457.1h0M133.0 499.3h0M207.0 437.6h0M161.2 468.6h0M112.8 529.7h0M195.0 448.7h0M140.0 491.0h0M103.2 552.8h0M175.9 457.2h0"/>
<path stroke="#0058ff" d="M107.8 539.7h0M98.9 584.3h0M135.4 496.5h0M128.2 506.1h0M107.6 569.2h0M96.8 571.2h0M134.0 498.2h0M143.7 487.0h0M123.0 514.1h0M199.2 445.3h0M141.1 489.9h0M163.1 467.2h0M103.2 552.8h0M139.6 491.7h0M123.5 513.4h0M191.6 451.2h0M141.5 489.6h0M156.7 473.2h0M166.3 464.6h0M137.6 494.1h0M107.8 540.0h0M188.7 470.6h0M134.8 497.4h0M112.4 562.5h0M106.0 544.7h0M165.0 465.7h0M145.0 485.8h0M120.0 518.7h0M173.1 459.1h0M161.0 469.0h0M125.9 509.8h0M137.7 494.0h0M181.7 456.0h0M129.5 504.4h0"/>
<path stroke="#005cff" d="M176.3 457.4h0M120.1 552.9h0M181.4 456.2h0M134.9 497.5h0M200.9 449.7h0M198.8 453.5h0M169.4 462.1h0M176.3 488.7h0M103.7 577.1h0M122.8 514.8h0M179.2 457.2h0M188.7 470.5h0M124.9 511.6h0M122.5 515.3h0M184.7 455.1h0M151.6 515.4h0M189.8 452.6h0M152.2 478.2h0M108.8 538.1h0M148.4 482.3h0M170.7 461.2h0M98.3 564.8h0M142.0 489.3h0M168.8 462.8h0M183.7 455.4h0M122.6 515.1h0M178.6 457.3h0M188.7 470.4h0M174.0 458.7h0M144.3 486.8h0M197.8 454.9h0M110.0 535.7h0M181.1 456.4h0M175.8 457.8h0M174.8 458.3h0M96.2 578.9h0"/>
<path stroke="#0060ff" d="M188.2 453.6h0M160.5 469.9h0M190.1 452.6h0M202.4 446.9h0M133.8 499.1h0M166.7 464.7h0M176.7 457.6h0M107.0 542.7h0M167.1 464.4h0M185.7 475.2h0M112.2 531.6h0M136.3 496.1h0M107.1 569.5h0M170.9 461.2h0M113.1 530.1h0M102.6 554.6h0M142.8 524.9h0M96.8 572.6h0M158.7 471.7h0M195.3 449.2h0M185.7 475.2h0M117.4 523.3h0M100.7 559.1h0M170.8 461.4h0M142.3 489.3h0M109.2 566.7h0M133.7 499.4h0M164.2 466.9h0M124.3 512.9h0M109.4 537.5h0M143.9 487.5h0M107.1 542.7h0M163.0 467.9h0M163.2 467.8h0M185.7 475.1h0M202.4 442.9h0M142.5 525.3h0M160.4 470.3h0M182.2 456.2h0"/>
<path stroke="#0064ff" d="M123.7 514.0h0M94.8 588.5h0M195.0 459.3h0M174.8 458.7h0M157.0 473.6h0M186.0 454.9h0M201.3 444.0h0M188.4 470.6h0M107.1 543.0h0M178.2 457.7h0M169.4 496.5h0M117.8 522.9h0M172.1 460.5h0M195.4 449.3h0M112.7 531.2h0M108.0 540.8h0M188.3 453.9h0M180.7 456.8h0M105.9 573.7h0M116.2 525.5h0M151.2 479.9h0M122.8 549.2h0M124.2 513.4h0M116.1 525.7h0M113.4 530.2h0M165.4 466.2h0M205.5 440.6h0M133.1 500.5h0M107.3 542.7h0M128.4 507.1h0M127.9 542.6h0M191.2 465.7h0M100.9 558.7h0M154.6 476.3h0M165.0 466.6h0"/>
<path stroke="#0068ff" d="M126.2 510.5h0M138.9 493.6h0M142.6 489.3h0M127.8 508.1h0M176.8 458.2h0M107.6 542.4h0M148.8 482.7h0M119.4 553.7h0M149.6 481.8h0M125.0 512.4h0M159.7 471.4h0M201.6 447.5h0M105.9 570.7h0M110.0 537.0h0M125.5 511.7h0M173.3 460.0h0M189.7 453.4h0M195.5 449.5h0M96.8 578.0h0M153.4 477.9h0M144.3 487.6h0M144.1 487.8h0M200.9 444.8h0M158.7 472.4h0M164.2 467.5h0M201.8 444.0h0M155.0 476.3h0M196.2 449.1h0M183.3 478.7h0M121.5 517.9h0M163.0 503.4h0M112.5 563.7h0"/>
<path stroke="#006cff" d="M170.5 462.3h0M137.6 495.5h0M144.2 487.9h0M113.8 530.1h0M190.5 466.5h0M176.3 458.7h0M148.4 483.4h0M199.5 446.3h0M108.0 541.8h0M202.0 443.9h0M196.9 455.5h0M120.9 519.0h0M165.0 466.9h0M188.6 454.2h0M196.8 455.6h0M149.5 482.2h0M102.5 574.4h0M97.0 577.7h0M135.1 498.6h0M190.3 466.8h0M198.3 447.5h0M166.4 465.8h0M161.1 470.4h0M185.4 455.7h0M107.8 542.4h0M106.6 545.4h0M132.7 501.6h0M187.8 454.7h0M102.6 555.0h0M169.2 463.6h0M126.9 543.7h0M192.1 452.3h0M127.1 509.7h0M185.1 455.8h0M162.8 469.0h0"/>
<path stroke="#0070ff" d="M106.8 545.1h0M95.1 587.6h0M173.1 460.6h0M189.9 467.4h0M137.8 530.5h0M105.2 549.1h0M98.2 565.8h0M165.1 467.1h0M141.2 526.5h0M188.6 469.6h0M185.4 455.7h0M106.5 572.7h0M169.6 496.2h0M199.7 450.3h0M196.4 449.3h0M105.0 549.7h0M124.1 514.5h0M196.6 455.6h0M177.1 458.8h0M130.9 504.3h0M186.0 474.2h0M136.7 497.0h0M200.8 448.2h0M131.8 503.2h0M167.2 465.5h0M112.2 533.6h0M116.8 525.8h0M144.0 488.6h0M97.7 567.2h0M187.2 455.2h0M111.5 565.1h0M111.3 535.3h0M105.5 548.5h0M199.8 446.4h0M135.2 498.8h0M153.7 478.1h0M171.7 461.8h0M169.2 463.9h0M168.6 464.3h0M95.0 587.5h0M117.5 524.8h0M136.8 497.0h0M152.0 480.0h0M194.6 450.9h0"/>
<path stroke="#0074ff" d="M130.8 538.8h0M128.7 507.6h0M107.6 571.0h0M149.8 482.4h0M165.5 467.0h0M159.7 472.1h0M201.9 446.2h0M97.4 577.1h0M182.8 479.4h0M127.1 543.4h0M172.7 461.2h0M116.0 527.2h0M138.5 495.1h0M172.8 461.1h0M100.5 575.8h0M132.6 502.3h0M177.9 458.7h0M107.3 568.4h0M199.2 450.9h0M147.5 485.0h0M97.7 577.1h0M114.6 560.5h0M152.2 479.9h0M105.2 574.6h0M148.3 484.2h0M136.0 498.2h0M112.3 533.8h0M164.4 468.0h0M97.2 568.8h0M116.0 527.4h0M161.6 470.5h0M140.2 493.2h0M166.4 466.5h0M178.8 485.1h0M132.1 503.0h0M100.0 561.6h0M121.4 519.2h0M130.4 505.5h0M123.8 515.4h0M171.6 462.2h0M100.1 576.0h0M148.8 483.7h0M188.8 454.6h0M164.3 468.3h0"/>
<path stroke="#0078ff" d="M117.8 524.6h0M167.1 466.0h0M111.4 535.7h0M114.5 530.1h0M168.3 464.9h0M202.0 445.5h0M192.5 452.6h0M144.0 523.4h0M181.8 457.1h0M150.2 482.2h0M132.4 502.8h0M156.4 475.7h0M170.1 463.5h0M201.3 445.5h0M152.2 480.1h0M154.0 478.3h0M142.1 491.2h0M167.8 465.4h0M175.7 459.9h0M188.4 455.0h0M121.2 519.6h0M185.4 456.2h0M114.8 529.8h0M103.2 577.6h0M159.3 472.8h0M191.4 453.4h0M179.6 458.0h0M173.6 461.0h0M192.1 453.0h0M108.2 542.9h0M112.6 533.6h0M199.3 447.5h0M95.4 586.8h0M140.9 492.7h0M178.9 485.0h0M122.0 518.6h0"/>
<path stroke="#007cff" d="M189.8 454.4h0M95.3 575.0h0M188.9 454.8h0M168.5 465.0h0M160.0 472.3h0M100.5 575.5h0M186.2 456.1h0M201.3 446.2h0M159.5 472.8h0M111.2 536.5h0M155.7 476.7h0M112.5 534.1h0M123.9 515.7h0M120.8 520.5h0M152.1 480.5h0M185.9 456.3h0M146.8 486.3h0M177.0 459.5h0M138.1 496.1h0M103.2 554.2h0M117.4 525.9h0M98.2 584.3h0M177.9 486.3h0M157.2 475.2h0M140.9 492.9h0M188.4 469.3h0M153.9 512.7h0M200.9 446.7h0M131.1 505.0h0M103.9 576.4h0M197.8 449.0h0M121.5 519.6h0M173.5 461.3h0M174.7 460.7h0M161.1 471.4h0M160.7 471.8h0M96.7 570.7h0M200.3 448.1h0M99.8 573.6h0M100.0 575.2h0M107.4 562.7h0M98.0 572.5h0M107.0 563.2h0M99.3 574.4h0M100.4 574.3h0M107.0 568.4h0M99.2 568.0h0M98.1 576.1h0M99.0 574.8h0M102.2 570.2h0M106.3 561.1h0M103.7 572.2h0M119.5 545.1h0M105.5 565.4h0M108.7 558.9h0M98.5 571.4h0M100.6 573.9h0M100.4 564.0h0M104.5 570.2h0M98.1 575.0h0M104.1 571.9h0M98.5 575.6h0M193.4 452.4h0M120.2 552.5h0M182.5 479.7h0M196.7 449.9h0M192.3 453.1h0M158.5 474.0h0M174.3 460.9h0M194.2 458.9h0M107.9 544.0h0M96.5 571.4h0M124.1 515.5h0M161.7 470.9h0"/>
<path stroke="#0080ff" d="M167.5 466.1h0M112.2 534.9h0M158.1 474.4h0M105.9 548.2h0M168.3 497.5h0M164.7 468.4h0M96.0 586.1h0M169.9 495.8h0M138.5 529.5h0M196.0 455.7h0M96.9 570.3h0M126.9 511.3h0M164.1 468.9h0M156.7 475.9h0M95.1 576.0h0M143.8 489.9h0M157.9 474.7h0M96.7 571.1h0M148.6 484.6h0M167.2 466.5h0M194.3 458.5h0M103.0 554.7h0M132.9 502.8h0M164.8 468.4h0M160.0 472.6h0M139.3 495.1h0M148.5 484.7h0M129.2 508.0h0M197.8 452.3h0M126.0 512.7h0M154.8 478.0h0M183.2 478.6h0M172.9 462.0h0M134.9 500.3h0M115.8 529.0h0M157.6 475.1h0M115.6 558.9h0M99.1 564.3h0M182.8 479.2h0M171.2 463.3h0M114.2 531.8h0M170.1 495.5h0"/>
<path stroke="#0084ff" d="M161.7 471.1h0M195.3 451.3h0M166.8 467.0h0M186.1 473.1h0M109.3 541.3h0M181.0 457.8h0M173.9 491.2h0M172.7 462.3h0M156.2 476.6h0M173.0 462.2h0M113.3 562.2h0M114.0 532.1h0M184.9 456.9h0M95.0 586.5h0M159.3 473.5h0M196.0 455.3h0M109.4 541.2h0M174.5 490.4h0M177.3 459.7h0M112.5 535.0h0M189.9 454.9h0M140.9 493.4h0M95.1 576.2h0M141.7 492.6h0M112.0 536.1h0M114.1 532.2h0M196.3 450.8h0M161.5 471.6h0M185.3 474.5h0M152.2 481.1h0M168.4 465.8h0M185.1 475.0h0M169.9 464.7h0M187.3 470.8h0M151.0 482.3h0M156.2 476.8h0M139.5 528.3h0"/>
<path stroke="#0088ff" d="M163.7 469.7h0M126.5 512.4h0M168.7 465.7h0M104.7 575.2h0M117.7 526.3h0M190.1 465.7h0M128.2 509.9h0M101.1 559.4h0M172.8 462.6h0M161.0 472.1h0M124.8 515.2h0M127.1 511.6h0M187.5 456.3h0M166.5 499.3h0M163.2 470.3h0M110.5 566.4h0M154.1 479.1h0M101.9 557.6h0M98.5 583.5h0M188.0 469.5h0M159.8 473.3h0M165.3 468.6h0M160.4 472.8h0M95.8 574.3h0M196.6 453.8h0M176.9 460.1h0M164.7 469.1h0M170.8 464.1h0M121.2 521.1h0M134.6 533.9h0M111.0 538.5h0M160.4 472.8h0M128.4 509.7h0M157.0 476.2h0"/>
<path stroke="#008cff" d="M147.3 486.6h0M142.4 492.1h0M116.9 528.1h0M189.2 455.7h0M98.6 566.1h0M102.0 557.5h0M136.3 499.2h0M113.8 533.3h0M142.0 492.6h0M129.4 508.4h0M161.0 472.4h0M162.9 470.7h0M126.1 513.4h0M112.6 535.6h0M115.9 529.8h0M133.0 503.4h0M96.4 572.5h0M119.6 523.8h0M157.8 475.6h0M195.8 451.6h0M122.1 519.9h0M103.9 553.2h0M117.0 528.0h0M125.9 544.7h0M166.5 467.9h0M105.0 574.6h0M170.6 464.6h0M118.6 525.5h0M96.1 585.2h0M187.0 471.0h0M183.9 457.5h0M153.0 480.7h0M148.5 485.6h0M186.6 457.0h0"/>
<path stroke="#0090ff" d="M187.0 471.0h0M111.4 538.1h0M124.0 516.9h0M117.0 528.2h0M110.3 540.2h0M195.5 452.0h0M135.2 500.8h0M161.7 471.9h0M186.7 471.5h0M185.0 474.8h0M96.1 573.5h0M133.9 502.4h0M147.0 487.3h0M113.2 534.8h0M196.6 453.4h0M170.2 465.1h0M154.0 479.7h0M170.7 464.7h0M155.9 477.7h0M142.4 492.4h0M161.7 472.0h0M143.0 491.8h0M180.3 458.5h0M146.0 488.4h0M138.8 496.6h0M171.9 463.9h0M171.7 464.0h0M173.6 462.7h0M123.8 517.5h0M139.6 495.7h0M165.4 469.1h0M102.8 555.8h0M184.9 457.6h0M123.2 518.6h0M143.4 491.4h0M188.2 456.5h0M169.9 465.5h0M163.1 470.9h0M186.9 457.1h0M136.0 500.1h0M136.9 498.9h0M182.7 478.9h0M117.7 527.4h0"/>
<path stroke="#0094ff" d="M122.4 519.8h0M115.1 531.8h0M124.8 516.1h0M191.0 463.3h0M154.6 511.8h0M167.9 467.2h0M96.0 574.2h0M136.1 499.9h0M138.8 496.7h0M122.8 519.3h0M146.5 520.4h0M194.4 453.0h0M196.2 451.8h0M97.2 584.2h0M153.2 480.8h0M114.0 533.7h0M150.7 515.9h0M167.9 497.7h0M102.7 556.1h0M126.9 512.7h0M140.5 494.9h0M192.6 454.4h0M98.3 567.4h0M195.0 452.7h0M148.6 485.8h0M187.3 470.2h0M158.2 475.7h0M102.1 557.6h0M185.2 474.1h0M133.3 535.4h0M181.0 481.6h0M156.2 477.7h0M171.1 464.7h0M167.1 468.0h0M173.0 492.0h0M189.4 466.1h0M174.0 462.6h0M118.1 527.0h0M195.5 452.5h0M180.4 458.6h0M128.8 510.0h0"/>
<path stroke="#0098ff" d="M127.6 511.9h0M109.2 568.1h0M191.1 463.0h0M120.5 551.8h0M188.7 467.5h0M186.7 457.5h0M158.0 508.3h0M168.7 466.8h0M98.0 583.3h0M97.2 584.0h0M134.5 502.2h0M151.0 483.4h0M155.7 478.4h0M188.1 456.9h0M138.2 497.7h0M172.4 464.0h0M173.5 463.1h0M108.7 543.8h0M195.8 454.2h0M127.6 512.0h0M191.1 455.4h0M178.9 459.3h0M179.8 458.9h0M190.5 464.1h0M170.3 495.0h0M97.0 571.4h0M129.2 509.4h0M181.9 458.2h0M137.0 499.2h0M135.1 501.6h0M107.6 546.0h0M145.0 490.0h0M94.9 578.2h0M129.7 508.7h0M121.1 522.6h0M196.1 452.4h0M166.0 469.1h0M169.4 466.4h0M97.2 583.9h0M129.2 509.6h0M129.4 509.3h0M161.9 504.1h0M188.3 468.0h0M185.9 472.5h0M151.4 483.1h0M109.2 542.9h0M149.4 485.2h0"/>
<path stroke="#009cff" d="M170.5 465.6h0M181.7 480.5h0M177.1 460.4h0M168.4 467.3h0M152.0 482.5h0M147.9 486.9h0M196.0 452.6h0M182.2 458.3h0M184.7 458.0h0M144.6 522.4h0M95.2 577.3h0M114.0 534.4h0M162.3 472.2h0M118.8 554.2h0M158.5 475.7h0M194.5 456.3h0M191.3 462.3h0M122.1 521.1h0M179.8 459.1h0M162.5 472.0h0M170.2 465.9h0M106.1 548.9h0M126.7 513.7h0M156.9 477.4h0M188.7 456.9h0M160.9 473.4h0M126.0 544.5h0M95.7 575.6h0M175.5 461.6h0M180.0 483.0h0M181.0 458.7h0M165.8 469.5h0M110.0 541.5h0M178.7 484.9h0M95.3 584.7h0M97.2 571.1h0M149.8 485.0h0M167.4 468.3h0M178.9 459.4h0M125.3 516.1h0M125.3 516.0h0M159.6 506.5h0M106.1 549.0h0"/>
<path stroke="#00a0ff" d="M102.1 557.8h0M139.1 528.6h0M109.8 542.0h0M163.9 471.1h0M120.9 523.4h0M129.5 509.6h0M194.0 454.1h0M168.0 468.0h0M174.8 462.3h0M162.7 472.2h0M96.1 574.5h0M121.1 523.2h0M143.6 492.0h0M103.9 553.6h0M178.1 459.9h0M171.8 464.9h0M118.9 526.8h0M193.5 454.5h0M164.1 471.0h0M194.9 455.2h0M95.0 584.5h0M189.7 456.7h0M187.8 457.5h0M107.5 546.4h0M149.9 485.1h0M137.0 499.8h0M152.8 482.1h0M97.2 583.5h0M134.3 503.1h0M136.1 500.9h0M195.1 453.7h0M99.0 582.0h0M149.7 485.3h0M145.7 489.8h0M194.7 455.4h0M187.3 469.4h0M141.8 494.2h0M167.3 468.7h0M185.2 458.3h0"/>
<path stroke="#00a4ff" d="M184.8 458.4h0M95.7 584.2h0M186.2 471.5h0M186.7 458.1h0M164.9 470.5h0M161.4 473.4h0M193.2 458.1h0M169.2 467.2h0M194.5 454.1h0M95.2 577.6h0M113.1 536.3h0M125.9 515.4h0M114.9 533.5h0M97.2 583.4h0M186.9 458.1h0M101.0 560.8h0M122.9 520.4h0M98.5 582.3h0M116.7 530.6h0M187.2 469.5h0M144.5 491.2h0M96.8 583.6h0M157.3 477.5h0M175.5 461.9h0M105.5 550.3h0M143.1 524.0h0M185.6 458.4h0M99.0 581.9h0M152.0 483.1h0M139.3 497.2h0M180.4 459.2h0M109.5 542.8h0M165.2 470.5h0M134.4 503.2h0M169.5 467.1h0M184.8 474.1h0M194.4 454.4h0M124.6 517.9h0"/>
<path stroke="#00a8ff" d="M150.9 484.3h0M189.9 464.2h0M98.4 568.1h0M160.2 474.8h0M100.9 561.1h0M184.3 475.3h0M163.5 472.0h0M105.5 550.5h0M189.0 466.0h0M138.2 498.8h0M153.0 482.1h0M163.3 472.2h0M112.7 537.2h0M182.8 458.7h0M123.6 519.6h0M136.6 500.7h0M173.8 463.4h0M167.4 468.9h0M160.1 474.9h0M151.3 484.0h0M184.6 474.5h0M149.8 485.7h0M163.9 471.7h0M97.7 570.3h0M141.2 526.1h0M192.2 459.7h0M181.8 458.9h0M122.6 521.4h0M117.0 530.3h0M149.2 486.4h0M172.9 464.3h0M170.3 466.6h0M172.8 464.4h0M188.6 466.4h0"/>
<path stroke="#00acff" d="M168.1 468.5h0M148.5 487.2h0M180.9 481.4h0M105.6 550.3h0M186.5 470.5h0M163.5 472.2h0M123.2 520.6h0M112.7 537.4h0M189.5 457.4h0M187.3 468.9h0M128.2 541.6h0M138.8 498.3h0M180.6 459.3h0M193.1 457.8h0M145.5 490.6h0M152.3 483.1h0M166.6 469.8h0M134.0 504.2h0M188.5 466.7h0M130.2 509.3h0M182.4 458.9h0M188.0 467.7h0M157.7 477.6h0M159.5 475.7h0M151.8 483.7h0M167.1 498.4h0M163.6 472.2h0M151.3 484.3h0M170.8 466.3h0M155.9 479.5h0M186.1 471.2h0M95.1 578.7h0M130.0 509.7h0M120.4 525.3h0M129.5 510.5h0M149.7 486.0h0M99.9 580.8h0M95.7 576.8h0M193.5 455.4h0M118.5 554.5h0M119.0 527.5h0M96.0 583.4h0"/>
<path stroke="#00b0ff" d="M96.7 583.1h0M112.2 563.5h0M138.3 499.1h0M151.6 484.1h0M167.9 468.9h0M135.0 503.1h0M187.5 468.5h0M129.9 510.0h0M151.4 484.3h0M187.6 458.4h0M158.2 477.2h0M133.9 504.6h0M119.7 526.5h0M162.2 473.5h0M187.6 468.3h0M170.6 466.6h0M187.7 468.0h0M146.3 490.0h0M181.1 459.3h0M96.1 583.2h0M137.3 500.3h0M135.9 502.0h0M151.7 484.1h0M186.4 458.9h0M192.6 458.4h0M143.6 493.0h0M182.6 478.4h0M134.4 504.0h0M96.6 583.0h0M173.5 463.9h0M169.9 467.3h0M120.8 551.2h0M179.8 482.9h0M192.9 457.6h0M102.7 557.1h0M188.0 467.2h0M160.3 475.3h0M188.2 458.3h0M121.2 524.4h0"/>
<path stroke="#00b4ff" d="M158.9 476.7h0M99.9 564.2h0M97.8 582.3h0M117.7 529.7h0M156.7 478.9h0M143.9 492.7h0M122.2 549.3h0M168.2 468.9h0M153.9 512.3h0M152.2 483.7h0M184.0 475.3h0M149.1 487.0h0M131.2 537.8h0M122.2 522.8h0M134.8 503.6h0M135.9 502.2h0M112.0 538.9h0M138.7 498.8h0M99.2 566.3h0M126.7 515.4h0M136.3 501.8h0M185.4 472.4h0M96.1 583.0h0M135.5 502.8h0M106.6 571.8h0M139.2 498.3h0M136.2 502.0h0M137.5 530.2h0M127.0 543.0h0M112.9 537.4h0M187.9 458.6h0M129.1 511.7h0M127.6 514.1h0M126.3 516.2h0M111.6 539.6h0M123.8 520.3h0M96.4 574.9h0M159.9 475.9h0M98.8 581.4h0M161.0 504.9h0M96.1 582.9h0M184.8 473.5h0M176.7 461.4h0M155.6 480.3h0M187.3 458.9h0M96.4 582.8h0M124.2 519.7h0"/>
<path stroke="#00b8ff" d="M101.0 579.3h0M170.9 494.1h0M127.9 541.8h0M187.7 467.5h0M167.1 470.1h0M134.0 504.9h0M185.3 459.4h0M158.2 477.7h0M125.2 518.2h0M95.6 582.9h0M186.8 469.2h0M182.6 478.1h0M114.7 534.6h0M130.4 509.9h0M134.0 505.0h0M101.9 559.3h0M113.3 536.9h0M186.4 459.3h0M117.1 556.3h0M188.1 466.6h0M96.6 574.2h0M97.8 582.0h0M104.0 554.2h0M133.6 505.5h0M131.7 508.0h0M104.0 554.3h0M163.5 502.1h0M161.8 474.4h0M165.6 471.4h0M165.2 500.4h0M100.6 562.6h0M181.0 481.0h0M171.3 466.2h0M99.4 580.7h0M166.7 470.6h0M151.1 485.2h0M175.7 488.4h0M155.4 480.7h0M155.0 481.2h0M95.5 582.8h0M169.4 468.0h0M164.9 472.0h0"/>
<path stroke="#00bcff" d="M188.0 466.7h0M168.7 468.8h0M118.8 553.8h0M167.0 470.4h0M186.4 459.5h0M148.8 487.8h0M162.3 474.1h0M136.6 531.2h0M163.5 473.2h0M159.3 476.8h0M106.2 549.5h0M142.8 494.5h0M165.2 471.9h0M150.7 515.6h0M100.7 562.4h0M150.2 486.4h0M187.8 459.0h0M145.1 492.0h0M163.6 473.2h0M152.3 484.1h0M101.2 579.0h0M154.1 482.2h0M167.0 470.4h0M97.7 571.2h0M178.6 460.5h0M116.7 531.7h0M111.0 540.9h0M184.0 459.7h0M143.4 494.0h0M156.0 480.3h0M99.9 580.2h0M179.5 483.2h0M115.9 532.8h0M153.7 482.7h0M178.3 460.6h0M177.0 461.4h0M103.8 575.7h0M143.2 494.2h0M96.1 576.3h0"/>
<path stroke="#00c0ff" d="M98.8 581.0h0M190.5 458.0h0M94.9 582.5h0M175.0 462.9h0M169.2 468.4h0M95.9 576.9h0M187.5 467.6h0M95.8 582.4h0M158.1 478.3h0M168.6 469.0h0M163.5 473.5h0M124.3 520.2h0M153.1 483.5h0M188.9 464.6h0M135.8 503.2h0M180.2 482.1h0M189.9 458.3h0M101.0 579.0h0M145.3 492.0h0M148.7 488.2h0M144.0 522.8h0M192.0 458.0h0M131.1 509.4h0M183.9 475.0h0M191.8 457.6h0M125.9 517.7h0M147.1 490.0h0M178.9 460.5h0M157.2 508.7h0M100.8 579.3h0M136.8 502.0h0M188.5 465.4h0M176.0 462.2h0M112.9 537.8h0M138.0 500.6h0M179.5 483.1h0M135.6 503.5h0M122.3 523.4h0M136.0 503.0h0M153.7 483.0h0"/>
<path stroke="#00c4ff" d="M167.5 497.7h0M142.0 525.0h0M101.0 562.0h0M166.8 470.8h0M185.7 470.9h0M98.4 569.3h0M162.0 474.9h0M140.8 497.3h0M98.4 569.5h0M111.9 539.6h0M175.3 462.8h0M112.6 538.5h0M131.4 509.2h0M157.7 479.0h0M165.7 471.9h0M95.4 579.1h0M188.6 464.8h0M180.9 460.1h0M137.9 529.6h0M101.1 561.7h0M169.8 467.9h0M162.7 474.5h0M138.2 500.5h0M142.4 495.6h0M99.2 580.4h0M131.7 508.9h0M121.2 525.1h0M169.2 468.6h0M155.4 481.4h0M95.0 580.5h0M164.7 472.9h0M152.6 484.4h0"/>
<path stroke="#00c8ff" d="M126.0 544.2h0M151.6 485.5h0M149.1 517.2h0M94.9 581.6h0M114.2 535.8h0M117.5 530.7h0M184.7 473.0h0M154.5 482.4h0M183.6 460.1h0M177.2 461.5h0M117.5 555.6h0M141.4 496.9h0M121.8 524.3h0M131.5 509.3h0M158.4 507.4h0M172.5 492.1h0M164.3 473.2h0M180.9 460.2h0M157.9 479.0h0M150.2 487.0h0M130.7 510.4h0M182.9 460.1h0M132.5 507.9h0M189.6 462.7h0M191.0 459.7h0M98.7 568.6h0M105.4 551.6h0M139.0 499.8h0M95.4 579.2h0M154.1 482.9h0M103.6 575.8h0M101.7 578.1h0M180.4 481.7h0M151.0 486.2h0M179.5 460.6h0M138.2 500.8h0M110.6 541.9h0M188.8 464.3h0M131.0 510.1h0M183.7 475.2h0"/>
<path stroke="#00ccff" d="M161.6 475.7h0M111.3 540.7h0M186.1 469.7h0M101.0 578.7h0M188.4 465.0h0M190.0 458.9h0M133.6 506.7h0M187.7 466.3h0M150.8 515.4h0M95.3 579.9h0M132.5 508.1h0M134.7 505.3h0M161.0 476.2h0M188.3 465.2h0M174.1 463.9h0M176.5 462.1h0M183.9 474.5h0M171.6 466.4h0M181.7 479.2h0M139.2 528.1h0M146.3 491.5h0M129.8 512.1h0M149.4 488.1h0M111.4 540.6h0M179.1 460.8h0M152.9 513.2h0M183.4 460.3h0M166.4 471.5h0M114.0 536.5h0M150.2 487.4h0M133.0 507.7h0M189.6 462.4h0M99.1 580.2h0M118.0 530.2h0M147.9 489.9h0M189.4 462.8h0M96.1 581.4h0M124.4 520.6h0M150.1 487.6h0M170.6 467.4h0M100.0 579.5h0M96.8 574.8h0"/>
<path stroke="#00d0ff" d="M136.1 503.6h0M189.1 459.5h0M148.2 489.6h0M175.2 463.1h0M157.5 479.8h0M136.6 531.1h0M130.8 510.8h0M95.7 581.4h0M183.0 476.4h0M135.7 504.3h0M156.4 480.9h0M156.5 480.9h0M183.9 460.5h0M103.1 557.1h0M188.1 465.4h0M185.4 471.1h0M188.6 464.3h0M154.6 482.9h0M186.2 460.6h0M167.4 470.7h0M168.3 496.7h0M127.7 515.6h0M184.3 473.4h0M187.6 460.2h0M96.8 575.0h0M188.3 464.7h0M145.9 492.3h0M129.2 513.3h0M106.5 549.5h0M187.2 460.4h0M186.7 460.5h0M176.9 462.0h0M124.3 520.8h0M129.2 513.4h0M153.0 484.7h0M143.8 494.7h0"/>
<path stroke="#00d4ff" d="M160.4 477.1h0M132.7 535.6h0M187.2 467.0h0M145.6 492.7h0M96.3 576.8h0M99.6 566.5h0M190.1 461.0h0M137.0 502.8h0M190.4 460.1h0M177.1 486.3h0M149.8 488.1h0M147.6 490.5h0M148.2 489.9h0M152.5 485.2h0M141.2 497.9h0M133.3 507.6h0M132.4 508.9h0M101.2 578.2h0M161.2 476.5h0M117.1 531.8h0M102.8 576.6h0M130.9 511.0h0M165.9 472.2h0M173.4 464.8h0M189.7 459.6h0M184.7 460.8h0M145.8 492.6h0M113.4 537.5h0M161.7 476.2h0M134.7 505.9h0M132.3 509.1h0M130.0 512.5h0M112.0 539.8h0M157.5 508.2h0M184.0 473.9h0M189.7 459.7h0M138.2 501.5h0M97.6 580.6h0M95.7 579.1h0M153.4 484.4h0M121.3 525.4h0"/>
<path stroke="#00d8ff" d="M103.7 556.0h0M154.3 483.5h0M139.4 500.1h0M168.2 470.0h0M132.5 509.0h0M139.1 500.5h0M144.5 494.3h0M102.8 558.0h0M147.3 491.1h0M189.0 460.0h0M112.4 562.9h0M148.8 489.5h0M100.6 563.9h0M185.6 461.0h0M169.4 468.8h0M136.7 503.6h0M181.6 460.7h0M159.8 478.0h0M136.6 503.7h0M161.3 476.7h0M190.1 460.2h0M152.9 485.1h0M175.0 489.0h0M95.7 580.7h0M154.3 483.6h0M101.2 578.0h0M155.8 482.2h0M96.6 580.7h0M179.9 461.0h0M186.5 468.1h0M139.5 500.2h0M145.7 493.0h0M150.9 487.3h0M127.5 516.3h0M142.7 496.4h0M186.6 467.8h0"/>
<path stroke="#00dcfe" d="M119.5 528.2h0M132.1 509.7h0M164.8 473.4h0M98.6 579.9h0M185.2 470.9h0M98.3 580.1h0M145.2 521.3h0M154.7 483.4h0M189.7 460.2h0M118.2 554.4h0M143.5 495.7h0M182.4 460.9h0M148.8 517.4h0M187.8 460.7h0M100.4 578.6h0M175.5 463.3h0M135.2 505.8h0M139.2 500.7h0M152.0 486.3h0M188.1 464.5h0M188.9 462.9h0M101.2 562.5h0M189.6 460.4h0M96.9 575.2h0M188.0 464.6h0M136.2 504.5h0M97.6 573.0h0"/>
<path stroke="#00e0fb" d="M180.4 461.1h0M100.0 565.8h0M95.8 579.3h0M188.5 463.6h0M100.0 565.8h0M155.7 482.5h0M147.6 491.2h0M163.1 475.1h0M117.2 555.8h0M182.9 461.1h0M103.8 555.9h0M145.6 493.5h0M187.9 460.9h0M165.4 472.9h0M110.7 542.3h0M97.1 580.2h0M139.0 501.2h0M103.7 556.3h0M154.5 483.9h0M186.7 461.3h0M136.8 504.0h0M181.2 479.5h0M184.9 471.3h0M151.7 514.3h0M178.0 461.8h0M142.5 497.2h0M120.9 526.4h0M155.6 510.2h0M98.3 571.1h0"/>
<path stroke="#00e4f8" d="M136.3 504.6h0M110.2 565.9h0M186.3 468.0h0M173.9 490.2h0M116.8 556.3h0M139.6 500.7h0M125.3 519.8h0M182.1 461.2h0M145.0 494.3h0M164.3 474.1h0M176.7 462.6h0M96.0 579.0h0M133.5 508.3h0M162.9 475.5h0M178.4 484.4h0M134.6 506.9h0M186.3 467.9h0M137.7 503.1h0M125.8 519.2h0M186.8 466.7h0M125.3 544.7h0M149.8 489.2h0M100.7 564.1h0M136.9 504.0h0M103.6 556.4h0M163.7 501.6h0M126.4 518.3h0M130.7 512.2h0M121.6 525.4h0M98.4 579.5h0M188.4 461.1h0M159.2 479.2h0M182.8 461.4h0M110.8 565.1h0"/>
<path stroke="#02e8f4" d="M117.5 531.6h0M138.5 528.7h0M141.4 498.7h0M158.7 479.7h0M168.2 470.2h0M185.0 461.7h0M177.3 462.3h0M188.4 463.3h0M182.6 476.5h0M96.7 579.8h0M135.1 506.5h0M170.2 494.4h0M187.9 464.2h0M99.2 578.9h0M151.6 487.4h0M136.0 505.3h0M147.4 492.0h0M149.6 489.5h0M102.3 560.1h0M188.1 463.8h0M152.7 486.2h0M185.4 461.9h0M187.9 464.2h0M140.6 499.7h0M98.2 579.3h0M187.1 461.7h0M154.8 511.0h0"/>
<path stroke="#06ecf1" d="M185.4 469.5h0M183.2 475.0h0M108.3 546.8h0M172.2 466.4h0M134.6 507.2h0M143.6 496.4h0M186.4 461.9h0M97.9 572.8h0M103.9 555.9h0M103.3 575.4h0M174.6 489.3h0M102.9 558.5h0M133.5 508.7h0M136.4 504.9h0M183.1 461.6h0M188.5 462.4h0M156.5 482.2h0M167.0 471.6h0M162.6 476.0h0M99.3 578.7h0M133.1 509.1h0M150.6 488.7h0M122.4 548.5h0M98.2 571.9h0M145.1 494.8h0M188.4 462.7h0M149.8 489.5h0M112.2 562.9h0M102.6 559.3h0M135.8 505.7h0M188.4 461.6h0M155.6 483.3h0M143.1 497.0h0M99.6 567.8h0M186.8 461.9h0M188.0 463.7h0M160.7 504.7h0M96.8 576.5h0"/>
<path stroke="#09f0ee" d="M117.8 531.2h0M185.9 468.2h0M156.7 508.9h0M183.6 473.9h0M151.5 487.8h0M156.4 509.2h0M115.7 534.5h0M180.8 480.0h0M180.7 461.6h0M140.0 500.8h0M182.0 477.4h0M180.1 481.3h0M97.0 576.0h0M149.1 490.4h0M149.9 489.5h0M149.7 489.8h0M135.4 506.3h0M188.4 462.2h0M188.3 462.8h0M177.7 485.2h0M98.8 570.2h0M188.1 461.8h0M149.2 490.3h0M187.1 465.3h0M186.8 466.0h0M185.9 468.1h0M184.4 471.8h0M135.0 532.7h0M144.1 496.1h0M188.3 462.6h0M145.0 495.0h0M187.3 462.0h0M106.1 551.2h0M129.0 514.9h0M187.4 464.6h0"/>
<path stroke="#0cf4eb" d="M155.1 510.5h0M102.7 559.3h0M188.2 462.1h0M160.1 478.7h0M122.4 548.4h0M136.1 505.6h0M96.4 578.3h0M188.0 462.0h0M188.2 462.6h0M126.0 519.2h0M184.0 462.1h0M132.6 510.0h0M140.3 526.5h0M167.9 470.8h0M151.0 488.5h0M144.9 495.3h0M148.5 491.3h0M120.2 551.4h0M166.6 472.1h0M187.4 462.1h0M101.6 562.2h0M97.7 573.9h0M187.2 464.9h0M130.6 512.7h0M185.8 462.4h0M142.8 497.8h0M178.0 462.3h0M177.9 484.9h0M100.3 566.2h0M124.6 545.6h0"/>
<path stroke="#0ff8e7" d="M185.5 462.5h0M129.1 514.9h0M187.9 462.5h0M144.4 495.9h0M144.8 495.5h0M98.9 578.4h0M181.7 477.9h0M116.0 534.2h0M145.0 495.3h0M186.4 466.6h0M134.3 508.0h0M134.8 507.4h0M187.8 463.4h0M129.5 514.3h0M123.6 522.9h0M108.5 568.3h0M158.3 480.7h0M140.5 500.5h0M181.0 462.0h0M183.0 474.8h0M160.3 478.6h0M150.2 515.7h0M180.2 462.1h0M171.5 467.4h0M171.8 492.5h0M105.2 553.3h0M129.9 538.8h0M181.4 478.3h0M187.6 463.6h0"/>
<path stroke="#13fce4" d="M186.6 466.0h0M175.8 463.8h0M141.9 499.0h0M97.3 578.6h0M120.0 528.3h0M113.7 560.6h0M160.8 478.2h0M151.8 487.9h0M153.6 512.0h0M176.4 463.4h0M97.6 574.4h0M168.5 496.2h0M163.6 475.3h0M141.3 525.4h0M100.7 577.2h0M101.8 576.3h0M187.3 464.2h0M135.1 507.1h0M179.4 462.2h0M158.1 481.1h0M123.0 523.8h0M97.9 573.7h0M144.2 496.4h0M181.8 462.2h0M139.5 501.8h0M103.0 558.9h0M186.6 462.8h0"/>
<path stroke="#16ffe1" d="M114.4 536.8h0M183.9 472.4h0M100.4 566.2h0M161.8 503.4h0M143.7 497.0h0M186.5 462.9h0M100.3 577.4h0M162.1 503.1h0M149.0 517.0h0M165.1 473.8h0M99.1 577.9h0M138.8 502.8h0M142.8 498.1h0M97.1 576.5h0M178.8 462.4h0M170.9 468.2h0M99.9 567.8h0M146.8 493.6h0M163.6 475.4h0M180.8 479.3h0M103.3 574.8h0"/>
<path stroke="#19ffde" d="M187.2 463.3h0M97.9 573.8h0M124.2 522.2h0M106.6 550.6h0M121.3 549.8h0M102.3 575.7h0M175.9 487.4h0M102.2 575.8h0M97.3 575.9h0M147.5 492.9h0M173.8 490.0h0M142.2 524.3h0M101.3 576.4h0M173.4 466.0h0M144.0 496.8h0M178.8 462.6h0M102.2 561.2h0M112.2 540.6h0M145.0 521.2h0M116.2 534.1h0M171.1 468.1h0M138.4 503.4h0M97.8 577.9h0M181.9 462.6h0"/>
<path stroke="#1cffdb" d="M185.1 468.9h0M150.9 489.2h0M177.0 485.9h0M186.8 463.4h0M185.1 463.2h0M186.5 465.4h0M131.5 512.0h0M185.2 463.3h0M157.4 508.0h0M150.2 490.0h0M179.4 462.6h0M183.9 472.0h0M99.7 568.7h0M180.9 479.0h0M102.3 575.6h0M162.3 476.9h0M168.8 470.4h0M173.7 490.1h0M146.3 494.4h0M186.4 465.6h0M102.7 575.2h0M98.5 572.3h0M125.1 521.0h0M183.0 462.9h0M116.4 556.6h0M97.2 577.0h0M184.4 463.3h0M176.5 463.8h0"/>
<path stroke="#1fffd7" d="M183.8 463.1h0M148.7 491.7h0M98.1 577.7h0M127.8 517.1h0M122.1 548.7h0M176.0 464.1h0M138.2 503.7h0M113.2 539.0h0M101.6 576.0h0M158.5 480.9h0M118.8 553.2h0M116.0 557.1h0M186.7 464.3h0M182.1 476.2h0M173.1 466.5h0M97.7 575.1h0M110.0 544.4h0M113.7 538.3h0M150.2 490.0h0M178.0 463.0h0M97.3 577.2h0M158.8 480.6h0M156.4 509.0h0M102.9 574.8h0M123.4 523.5h0M101.5 563.6h0M115.7 535.1h0M111.4 563.8h0M184.9 468.9h0M116.8 556.0h0M100.1 567.8h0"/>
<path stroke="#23ffd4" d="M149.2 491.3h0M186.5 464.6h0M184.8 463.6h0M144.1 497.1h0M184.0 471.4h0M163.1 476.1h0M170.1 469.3h0M133.7 534.1h0M180.6 462.9h0M113.9 538.0h0M183.0 463.2h0M118.0 531.7h0M129.8 514.5h0M111.5 542.0h0M101.3 576.1h0M176.8 463.7h0M164.7 474.6h0M100.7 576.5h0M132.1 511.4h0M111.1 542.7h0M161.1 478.3h0M154.3 485.6h0M153.1 486.9h0M177.0 463.6h0M179.3 462.9h0M181.6 463.0h0M106.2 551.7h0M184.1 463.5h0M131.7 536.4h0M98.0 577.3h0M180.1 463.0h0M146.8 494.0h0M173.6 466.1h0M125.7 544.0h0M109.4 545.7h0"/>
<path stroke="#26ffd1" d="M129.3 539.3h0M99.7 576.8h0M142.6 498.8h0M128.7 516.1h0M120.5 528.0h0M105.0 554.5h0M102.8 574.8h0M161.7 503.4h0M142.0 524.5h0M133.7 509.4h0M186.3 464.7h0M184.2 463.7h0M182.4 463.2h0M170.9 493.2h0M117.3 532.8h0M160.7 504.4h0M180.4 463.1h0M137.1 530.0h0M110.8 564.6h0M185.0 463.9h0M185.7 464.1h0"/>
<path stroke="#29ffce" d="M149.0 491.6h0M152.0 513.6h0M127.5 517.8h0M112.2 540.9h0M97.7 575.8h0M97.7 575.9h0M100.2 567.6h0M152.3 488.0h0M127.7 517.5h0M98.1 577.0h0M162.7 502.3h0M171.8 467.9h0M161.0 478.5h0M119.0 530.2h0M100.5 566.9h0M155.1 484.9h0M152.2 488.1h0M147.9 492.9h0M185.8 466.1h0M144.3 497.0h0M97.6 576.2h0M170.9 468.7h0M186.1 465.0h0M153.7 486.5h0M181.7 463.3h0M180.7 478.9h0M167.5 472.1h0M111.9 562.9h0M110.0 544.7h0M107.8 548.8h0M136.7 530.4h0M138.2 504.0h0M127.0 542.2h0M174.2 489.3h0M181.4 477.3h0"/>
<path stroke="#2cffca" d="M124.4 545.5h0M178.7 463.2h0M100.7 566.3h0M176.5 464.2h0M125.6 544.0h0M162.8 476.7h0M173.1 466.7h0M133.2 510.2h0M107.3 549.8h0M97.7 576.0h0M108.9 567.3h0M101.6 563.6h0M133.7 509.5h0M98.4 576.7h0M123.9 523.1h0M111.6 563.3h0M146.7 494.4h0M180.4 479.4h0M161.7 477.9h0M180.1 479.9h0M182.8 473.8h0M184.7 464.2h0M135.4 507.5h0M159.7 480.0h0M100.6 566.8h0M180.2 463.4h0"/>
<path stroke="#30ffc7" d="M108.3 568.0h0M185.6 466.3h0M139.9 502.2h0M142.0 499.8h0M185.7 464.8h0M148.6 492.3h0M180.6 478.8h0M185.5 466.5h0M114.2 537.9h0M120.0 529.0h0M136.7 506.0h0M184.7 468.7h0M103.3 574.0h0M99.3 570.8h0M97.9 575.6h0M146.1 495.1h0M162.7 476.9h0M181.3 477.2h0M168.5 471.3h0M100.8 566.3h0M126.5 542.8h0M112.9 561.4h0M101.9 563.2h0M100.8 575.7h0M159.9 479.7h0M102.9 574.2h0"/>
<path stroke="#33ffc4" d="M110.9 543.3h0M126.4 519.6h0M103.5 558.7h0M100.0 568.7h0M99.7 576.1h0M158.5 481.3h0M113.2 560.9h0M180.4 463.6h0M126.7 519.2h0M148.8 516.9h0M144.0 497.6h0M182.5 474.4h0M183.2 464.1h0M102.8 560.7h0M180.6 478.6h0M117.5 532.8h0M106.2 570.9h0M104.3 573.0h0M127.9 517.6h0M153.3 487.1h0M172.9 467.2h0M172.6 467.5h0M104.9 555.4h0M115.3 536.2h0M136.1 506.8h0M106.3 552.2h0"/>
<path stroke="#36ffc1" d="M180.0 463.7h0M145.7 520.3h0M140.3 526.3h0M149.0 491.9h0M110.8 543.7h0M113.8 538.6h0M99.6 570.2h0M108.9 547.1h0M134.7 508.5h0M104.9 555.5h0M105.7 553.4h0M115.5 557.6h0M183.8 464.4h0M137.1 505.7h0M102.1 562.8h0M183.0 472.9h0M183.4 464.3h0M108.5 567.7h0M107.0 550.8h0M159.6 480.3h0M104.5 556.5h0M141.7 524.6h0M178.8 482.3h0M147.7 493.5h0M166.3 498.1h0M114.8 558.6h0M170.7 493.2h0"/>
<path stroke="#39ffbe" d="M180.4 479.0h0M105.8 553.4h0M99.1 571.8h0M171.0 492.9h0M104.5 572.6h0M185.3 465.4h0M144.2 497.4h0M111.9 562.7h0M103.5 573.5h0M159.9 480.0h0M182.5 464.3h0M183.6 464.6h0M177.8 464.0h0M98.3 575.4h0M181.4 476.7h0M156.5 483.7h0M159.7 480.2h0M118.2 532.0h0"/>
<path stroke="#3cffba" d="M118.0 532.3h0M115.4 536.3h0M105.1 572.0h0M183.7 464.7h0M123.3 524.4h0M129.3 515.7h0M149.9 491.1h0M180.7 464.1h0M172.8 467.5h0M106.0 570.9h0M184.6 465.0h0M122.8 525.1h0M103.9 558.4h0M120.9 528.0h0M106.2 552.7h0M153.5 487.1h0M114.3 538.1h0M170.2 469.9h0M99.4 571.3h0"/>
<path stroke="#40ffb7" d="M167.1 472.9h0M166.3 473.8h0M182.2 474.5h0M156.6 483.6h0M143.5 498.4h0M105.8 553.5h0M179.6 480.3h0M112.7 561.5h0M171.2 492.5h0M172.7 490.8h0M178.0 464.2h0M104.2 572.7h0M103.5 559.3h0M122.0 526.3h0M179.4 464.1h0M165.2 499.3h0M181.7 475.7h0M162.4 502.3h0M102.7 573.8h0M137.3 529.6h0M102.6 562.0h0M121.7 526.9h0M105.7 571.1h0M122.4 547.9h0M125.3 521.5h0M183.8 470.1h0"/>
<path stroke="#43ffb4" d="M163.9 476.1h0M170.9 469.4h0M139.8 526.6h0M184.3 468.4h0M102.9 573.6h0M100.4 568.4h0M130.1 514.8h0M173.1 467.5h0M184.8 467.0h0M180.5 478.2h0M111.8 542.4h0M103.5 559.4h0M117.0 534.0h0M149.5 491.7h0M183.3 471.3h0M182.1 464.6h0M172.3 468.2h0M144.6 497.2h0M122.3 526.1h0M183.8 469.7h0M109.2 566.4h0M183.4 470.8h0M172.7 467.9h0"/>
<path stroke="#46ffb1" d="M184.5 467.9h0M116.5 534.8h0M175.0 487.9h0M113.5 539.5h0M137.1 506.0h0M170.1 470.3h0M109.6 546.3h0M167.0 497.2h0M110.5 544.7h0M160.7 479.5h0M180.3 478.5h0M102.1 563.6h0M117.2 554.9h0M108.9 547.5h0M172.9 467.8h0M99.8 574.8h0M129.0 516.4h0M165.2 475.0h0M179.0 464.4h0M184.7 466.6h0M163.8 476.3h0M175.2 465.9h0M100.4 574.6h0M114.1 559.4h0M99.5 574.8h0M180.1 479.0h0"/>
<path stroke="#49ffad" d="M100.7 574.5h0M102.8 561.6h0M161.0 479.2h0M99.8 574.8h0M101.5 574.3h0M180.3 478.4h0M99.5 574.8h0M181.7 464.8h0M168.6 471.8h0M184.4 467.9h0M171.9 468.7h0M115.2 536.9h0M184.0 469.0h0M115.9 535.8h0M177.7 483.8h0M126.4 520.1h0M179.7 464.6h0M173.5 467.3h0M181.9 464.9h0M184.6 466.0h0M109.0 547.6h0M114.8 537.7h0M166.1 498.1h0M101.2 566.2h0M184.1 465.6h0M173.3 490.0h0M111.1 563.7h0M180.2 464.7h0M100.5 568.6h0M114.8 558.3h0M109.9 565.3h0M116.7 534.7h0M180.9 477.0h0M177.7 464.7h0M183.7 469.8h0M184.5 465.9h0M133.0 511.1h0M108.4 548.7h0M103.7 559.4h0M178.0 464.6h0M99.2 572.6h0"/>
<path stroke="#4dffaa" d="M100.7 574.4h0M123.4 524.6h0M180.9 464.8h0M156.1 484.5h0M99.7 574.6h0M184.1 468.4h0M102.5 573.5h0M98.9 574.2h0M170.4 470.2h0M115.0 537.3h0M104.8 571.7h0M101.2 574.1h0M117.2 533.9h0M183.8 465.6h0M101.0 567.0h0M166.1 474.3h0M160.3 480.1h0M157.5 483.0h0M183.5 470.2h0M182.5 473.0h0M100.7 574.2h0M100.4 574.3h0M156.1 508.9h0M182.2 473.7h0M183.6 465.6h0"/>
<path stroke="#50ffa7" d="M116.3 535.4h0M177.3 465.0h0M103.5 559.9h0M100.6 574.2h0M149.0 516.5h0M106.2 553.3h0M162.0 502.7h0M153.0 488.0h0M130.0 515.2h0M159.5 480.9h0M115.8 556.8h0M144.5 497.6h0M139.6 503.2h0M157.1 483.5h0M150.3 491.0h0M103.8 572.4h0M104.1 558.4h0M99.4 574.3h0M116.0 535.9h0M100.1 574.2h0M183.0 471.3h0M109.3 566.0h0"/>
<path stroke="#53ffa4" d="M125.4 521.8h0M120.6 529.0h0M135.5 531.5h0M112.6 561.3h0M171.9 469.0h0M105.1 571.3h0M173.5 467.6h0M119.0 531.4h0M135.0 508.7h0M118.8 531.7h0M165.0 499.3h0M147.3 494.5h0M110.9 544.4h0M110.3 545.3h0M172.0 491.3h0M107.3 568.7h0M138.5 504.6h0M143.6 522.3h0M146.4 495.5h0M163.2 477.3h0M100.7 568.4h0M106.7 552.5h0M99.2 573.8h0M183.9 466.1h0M146.0 519.6h0M176.6 485.2h0M104.2 558.5h0"/>
<path stroke="#56ffa0" d="M176.3 485.6h0M184.3 466.8h0M180.8 476.9h0M109.0 566.4h0M118.2 532.6h0M116.6 535.0h0M156.8 484.0h0M151.0 490.4h0M129.9 515.5h0M181.5 465.4h0M183.3 470.1h0M135.0 508.9h0M108.0 549.8h0M118.5 532.2h0M117.2 554.8h0M136.9 529.8h0M181.3 465.4h0M103.0 572.8h0M138.4 504.8h0M170.9 470.1h0M184.1 466.6h0M133.1 511.3h0M184.2 467.1h0M106.2 553.6h0M167.7 496.3h0"/>
<path stroke="#5aff9d" d="M181.4 475.3h0M178.2 482.4h0M171.5 469.5h0M136.8 506.7h0M154.8 486.2h0M126.7 520.1h0M178.6 465.1h0M99.7 573.7h0M154.7 486.4h0M124.7 523.0h0M114.4 538.6h0M182.4 472.6h0M102.3 573.1h0M177.5 483.6h0M180.3 465.4h0M179.7 465.3h0M178.2 482.4h0M103.2 561.2h0M124.4 523.4h0M155.0 510.0h0M182.9 466.0h0M108.5 567.0h0M111.1 563.4h0M124.2 523.8h0M115.9 556.5h0M174.3 467.2h0M124.5 523.3h0M164.1 476.5h0M176.1 485.9h0M101.6 573.3h0M148.4 493.4h0M106.5 569.4h0"/>
<path stroke="#5dff9a" d="M180.9 476.3h0M112.5 541.8h0M170.1 470.9h0M176.3 466.0h0M99.5 573.3h0M181.3 475.4h0M105.0 556.4h0M101.3 566.7h0M122.9 546.9h0M150.0 515.3h0M109.3 547.6h0M177.7 465.4h0M183.9 466.8h0M162.3 502.1h0M138.5 504.7h0M104.2 558.8h0M182.2 473.0h0M124.3 545.1h0M117.2 554.7h0M179.6 465.4h0M176.9 484.4h0M101.7 573.1h0M171.0 470.1h0M146.9 495.1h0M180.1 465.5h0M179.2 480.2h0M183.8 468.1h0M147.4 518.0h0M115.0 557.8h0M112.6 541.8h0"/>
<path stroke="#60ff97" d="M158.0 482.9h0M125.2 522.3h0M143.5 522.3h0M126.5 520.5h0M138.0 505.4h0M156.2 484.9h0M99.9 573.4h0M178.3 481.9h0M119.1 531.6h0M140.6 502.3h0M149.1 492.7h0M176.4 466.0h0M147.7 517.7h0M109.6 565.3h0M101.9 572.9h0M139.5 503.7h0M181.9 473.4h0M107.1 568.6h0M166.1 497.9h0M107.0 552.2h0M128.3 518.0h0M138.0 505.4h0M157.1 507.7h0M160.1 480.7h0M107.3 551.7h0"/>
<path stroke="#63ff94" d="M179.7 465.6h0M174.5 467.3h0M143.1 499.6h0M139.1 504.2h0M129.8 515.9h0M170.5 470.7h0M167.3 473.7h0M127.7 518.9h0M136.1 530.6h0M182.0 466.1h0M99.8 572.7h0M138.5 504.9h0M103.1 572.1h0M122.7 526.2h0M182.7 466.4h0M173.1 489.7h0M183.6 466.9h0M110.0 564.6h0M128.5 517.7h0M135.9 508.1h0M106.4 569.3h0"/>
<path stroke="#66ff90" d="M112.5 542.1h0M165.0 499.1h0M183.6 468.4h0M178.0 482.4h0M183.2 466.7h0M178.4 481.7h0M150.2 491.6h0M172.6 490.3h0M164.9 499.2h0M183.1 469.9h0M154.9 486.4h0M131.1 536.6h0M157.1 484.0h0M110.0 546.5h0M111.4 544.0h0M178.7 465.6h0M144.4 498.2h0M175.6 466.7h0M157.6 507.1h0M170.3 493.0h0M170.1 471.2h0M126.6 542.2h0M119.7 530.8h0M100.3 570.6h0M119.7 530.9h0M167.6 473.5h0M125.1 522.7h0M101.1 568.0h0M101.2 567.7h0M183.6 467.5h0M99.9 572.4h0M158.7 482.3h0M138.7 527.6h0"/>
<path stroke="#6aff8d" d="M179.8 465.9h0M131.0 536.7h0M123.9 545.6h0M137.0 506.8h0M178.5 481.2h0M106.3 569.3h0M182.7 470.8h0M100.4 570.1h0M183.3 467.0h0M116.6 535.7h0M180.9 475.7h0M100.4 570.4h0M172.1 469.5h0M170.4 492.8h0M151.4 490.4h0M182.2 472.0h0M182.5 466.6h0M182.4 466.6h0M100.0 572.0h0M181.8 473.3h0M176.2 485.2h0M160.3 480.7h0M178.2 465.8h0M103.1 562.3h0M114.7 538.6h0M173.3 489.3h0M151.9 513.1h0M139.4 526.8h0"/>
<path stroke="#6dff8a" d="M177.2 466.1h0M179.7 478.4h0M133.3 511.4h0M177.9 482.3h0M115.8 536.9h0M140.1 503.2h0M125.5 522.2h0M163.4 477.6h0M176.6 466.4h0M129.1 517.1h0M181.3 474.5h0M110.1 564.4h0M137.2 529.2h0M181.4 466.4h0M101.9 572.3h0M176.2 466.6h0M181.3 466.4h0M126.0 542.8h0M133.8 510.8h0M143.2 499.7h0M103.6 571.5h0M104.8 557.8h0M164.8 476.4h0M116.8 555.1h0M138.3 505.4h0M173.9 488.4h0M101.5 567.0h0M126.2 521.3h0M128.9 517.4h0M118.6 532.7h0"/>
<path stroke="#70ff87" d="M174.2 488.1h0M145.3 497.3h0M180.8 475.6h0M116.5 555.4h0M107.4 567.7h0M167.6 473.8h0M178.8 480.3h0M124.3 524.2h0M133.5 511.3h0M173.6 488.9h0M151.3 490.6h0M145.4 520.1h0M151.9 489.9h0M164.7 476.6h0M175.7 485.9h0M182.7 470.5h0M172.8 489.8h0M122.0 527.5h0M117.4 554.1h0M183.3 468.5h0M173.6 468.5h0M175.8 467.0h0M178.8 480.3h0M101.2 572.2h0M104.1 559.7h0"/>
<path stroke="#73ff83" d="M171.9 469.9h0M156.2 508.5h0M175.9 467.0h0M112.5 560.9h0M176.2 466.8h0M182.9 467.3h0M100.3 571.9h0M178.9 480.1h0M134.8 509.7h0M159.4 481.8h0M123.3 525.8h0M104.2 570.8h0M174.8 487.1h0M126.3 542.4h0M182.2 471.5h0M180.5 476.2h0M118.0 533.7h0M110.7 545.7h0M181.1 466.7h0M159.5 481.7h0M154.3 487.3h0"/>
<path stroke="#77ff80" d="M179.8 477.9h0M172.5 490.1h0M102.6 571.6h0M126.2 521.5h0M105.3 556.7h0M182.4 467.1h0M128.7 517.8h0M104.7 558.3h0M174.6 487.4h0M143.2 499.8h0M100.4 571.5h0M165.8 497.9h0M129.7 516.5h0M164.3 477.0h0M176.3 484.7h0M172.9 469.2h0M103.1 562.7h0M175.9 485.4h0M166.9 474.6h0M102.5 571.6h0M125.3 543.6h0M148.8 493.5h0M119.6 551.0h0M105.1 557.4h0M134.2 510.5h0M100.6 570.4h0M170.8 492.1h0M176.3 466.9h0M148.1 494.3h0M113.2 541.5h0M174.4 468.1h0M172.7 489.9h0M116.1 536.7h0M153.9 487.9h0M100.7 571.9h0M104.9 557.8h0M162.5 478.8h0"/>
<path stroke="#7aff7d" d="M176.2 467.0h0M178.4 466.3h0M101.3 568.0h0M110.9 545.6h0M116.0 536.9h0M181.1 466.9h0M106.2 554.7h0M109.6 548.0h0M160.6 480.7h0M174.6 487.3h0M101.6 571.7h0M101.9 566.4h0M181.2 474.0h0M103.0 563.2h0M165.3 498.5h0M110.0 547.2h0M114.5 539.4h0M137.2 507.0h0M150.8 491.3h0M137.4 506.6h0M171.5 491.3h0M176.3 484.6h0M144.7 498.2h0M120.1 530.7h0M115.7 537.5h0M165.6 498.2h0M173.6 488.6h0M161.8 479.5h0M180.0 477.1h0"/>
<path stroke="#7dff7a" d="M144.0 499.0h0M183.0 468.2h0M131.8 513.7h0M175.6 485.7h0M107.3 567.5h0M131.8 513.7h0M119.7 531.3h0M102.8 563.9h0M180.4 466.9h0M132.7 512.6h0M179.4 478.6h0M142.4 500.9h0M112.4 543.1h0M175.7 467.5h0M160.3 481.1h0M139.7 526.3h0M178.9 466.6h0M142.1 501.3h0M135.4 509.2h0M111.2 545.1h0M138.5 527.6h0M154.5 487.4h0M117.4 534.9h0"/>
<path stroke="#80ff77" d="M131.4 514.3h0M106.0 555.5h0M179.9 477.1h0M175.7 485.4h0M172.5 469.8h0M178.5 480.5h0M120.5 530.2h0M181.8 467.4h0M112.8 542.3h0M172.1 470.1h0M170.4 471.6h0M180.3 476.2h0M171.5 491.2h0M109.6 548.1h0M181.3 467.3h0M151.6 513.2h0M139.8 526.1h0M106.1 568.8h0M112.8 542.5h0M135.9 530.6h0M160.6 480.9h0M178.1 481.2h0M167.6 495.8h0M169.6 472.4h0M182.6 467.9h0M127.0 520.5h0M107.6 552.1h0M103.4 570.7h0M116.4 536.6h0M159.7 481.8h0M163.2 478.4h0"/>
<path stroke="#83ff73" d="M133.6 533.3h0M129.3 517.2h0M165.0 498.7h0M180.3 476.0h0M100.8 570.6h0M181.4 473.2h0M157.3 484.5h0M114.1 540.4h0M182.7 468.3h0M175.4 467.9h0M110.4 563.4h0M165.7 476.1h0M182.7 468.2h0M129.9 516.5h0M159.9 481.7h0M125.2 523.3h0M104.1 570.2h0M181.0 467.4h0M180.0 467.2h0M110.2 563.6h0M140.9 502.8h0M121.5 528.8h0M170.9 471.3h0M182.4 470.1h0M178.6 479.9h0M179.4 478.0h0M108.3 550.9h0M102.9 564.0h0"/>
<path stroke="#87ff70" d="M110.6 546.5h0M146.9 518.2h0M181.4 473.0h0M144.8 498.4h0M170.1 472.1h0M179.6 467.2h0M175.4 468.0h0M114.0 540.7h0M104.7 558.9h0M128.0 519.2h0M151.8 490.6h0M153.5 488.6h0M103.1 563.5h0M172.0 490.3h0M103.0 570.6h0M137.7 506.5h0M106.1 568.5h0M109.7 548.3h0"/>
<path stroke="#8aff6d" d="M147.9 517.1h0M101.0 570.3h0M143.4 500.0h0M182.1 470.6h0M111.1 545.6h0M143.6 499.8h0M128.6 518.4h0M124.9 523.8h0M154.8 509.8h0M126.6 541.8h0M133.9 511.3h0M115.8 555.9h0M104.1 560.7h0M126.2 521.9h0M153.9 488.3h0M169.8 472.5h0M137.9 506.4h0M109.9 547.9h0M168.9 494.0h0M136.4 529.9h0M169.1 493.8h0M105.7 556.5h0M174.7 468.5h0M153.1 489.2h0M181.6 472.0h0M161.9 479.8h0M161.0 503.1h0"/>
<path stroke="#8dff6a" d="M124.3 524.7h0M103.1 570.4h0M168.1 494.9h0M108.9 549.9h0M132.2 534.9h0M178.0 481.0h0M164.6 477.4h0M177.9 467.2h0M129.1 517.7h0M147.8 517.2h0M143.9 499.5h0M120.1 550.0h0M165.7 497.8h0M141.7 502.1h0M170.8 471.7h0M137.7 506.7h0M166.5 496.8h0"/>
<path stroke="#90ff66" d="M121.0 548.8h0M164.1 477.9h0M173.0 469.9h0M128.5 518.7h0M158.1 483.8h0M170.2 472.3h0M147.0 518.1h0M180.4 475.0h0M143.4 522.0h0M140.7 525.0h0M136.4 529.8h0M175.3 468.3h0M133.0 512.5h0M175.7 484.9h0M108.4 551.1h0M131.2 515.0h0M151.3 491.3h0M173.2 469.9h0"/>
<path stroke="#94ff63" d="M172.4 470.5h0M175.9 484.6h0M181.0 468.0h0M135.9 509.0h0M118.6 533.6h0M102.6 570.2h0M162.2 501.7h0M166.1 476.1h0M111.7 544.9h0M174.0 469.3h0M122.7 546.5h0M152.6 489.9h0M164.6 499.0h0M153.5 488.9h0M181.5 471.8h0M101.5 569.0h0M142.5 501.3h0M103.3 563.4h0M173.1 470.0h0M143.2 500.4h0M157.0 507.3h0M120.3 549.6h0"/>
<path stroke="#97ff60" d="M177.4 467.6h0M106.5 555.0h0M169.1 473.5h0M134.2 511.2h0M103.7 569.7h0M102.2 570.2h0M162.3 501.5h0M176.5 468.0h0M177.6 481.5h0M108.0 565.9h0M147.9 517.0h0M148.2 494.8h0M162.0 480.0h0M150.8 492.0h0M117.4 553.5h0M157.1 485.0h0M181.3 472.4h0M107.5 553.1h0M180.6 468.1h0M139.5 504.8h0M135.2 510.0h0M129.1 518.0h0M178.5 467.6h0M120.1 549.8h0M102.8 569.9h0M148.9 494.1h0M178.3 479.9h0M154.9 487.5h0M178.9 467.7h0"/>
<path stroke="#9aff5d" d="M149.3 493.7h0M140.9 503.2h0M180.4 468.1h0M166.4 476.0h0M178.7 467.7h0M180.5 474.2h0M132.4 513.5h0M103.7 569.5h0M176.1 483.9h0M180.9 468.3h0M107.0 566.9h0M112.6 559.8h0M168.3 494.5h0M164.1 499.4h0M118.7 551.7h0M176.9 468.0h0M105.5 557.6h0M181.7 468.7h0M110.9 546.6h0M104.5 560.1h0M121.8 529.0h0M114.6 540.2h0M158.4 483.7h0M136.8 508.0h0M179.1 467.8h0M173.7 487.5h0M122.8 546.3h0M170.6 472.3h0M170.9 472.0h0"/>
<path stroke="#9dff5a" d="M107.5 553.3h0M175.1 485.4h0M146.3 497.1h0M101.6 569.4h0M165.2 477.2h0M163.0 500.6h0M165.5 477.0h0M130.7 536.5h0M175.5 468.7h0M142.8 501.1h0M141.1 524.4h0M141.4 502.7h0M179.5 468.1h0M149.5 515.2h0M136.7 508.3h0M156.3 507.9h0M104.6 569.0h0M167.5 475.2h0M104.5 569.0h0M104.6 568.9h0M121.1 548.3h0"/>
<path stroke="#a0ff56" d="M177.3 468.0h0M179.6 468.2h0M119.8 532.1h0M178.8 478.5h0M121.6 529.4h0M178.1 480.1h0M124.1 525.6h0M129.5 517.7h0M144.7 499.0h0M176.6 468.3h0M112.7 559.5h0M104.7 568.8h0M126.0 542.2h0M176.3 483.5h0M158.0 506.2h0M115.3 539.2h0M166.7 476.0h0M167.1 495.7h0M104.8 559.6h0M103.4 563.6h0M115.9 538.3h0M167.4 495.4h0M109.7 549.0h0M140.6 524.9h0M123.8 526.1h0"/>
<path stroke="#a4ff53" d="M120.6 531.0h0M168.0 474.8h0M148.4 494.9h0M125.7 542.6h0M121.6 547.7h0M153.5 510.9h0M124.6 524.9h0M153.8 488.9h0M175.7 468.8h0M179.1 477.7h0M126.9 521.5h0M175.8 468.7h0M127.1 521.2h0M149.8 493.3h0M181.8 470.0h0M172.3 489.2h0M173.3 487.9h0M117.0 553.8h0M166.2 476.5h0M165.2 498.0h0M138.1 527.7h0M125.7 523.3h0M169.6 492.7h0M120.5 531.2h0M131.1 536.0h0M180.5 468.6h0M162.4 501.3h0M101.9 569.3h0M149.8 514.8h0M178.6 478.9h0M179.2 477.3h0M120.0 531.9h0"/>
<path stroke="#a7ff50" d="M112.9 543.3h0M153.5 489.3h0M147.2 496.2h0M148.7 494.6h0M133.9 532.5h0M102.7 569.3h0M115.5 539.1h0M157.4 485.1h0M142.3 501.9h0M170.4 472.9h0M168.2 474.8h0M110.3 562.6h0M160.3 482.1h0M161.8 480.6h0M149.0 515.7h0M178.8 478.4h0M173.8 470.1h0M174.7 469.5h0M105.9 567.8h0M146.7 518.1h0M156.0 508.2h0M179.9 468.6h0M156.8 485.7h0M110.5 562.3h0M130.4 516.5h0M122.4 528.4h0M113.2 543.0h0M160.8 481.6h0M180.8 468.9h0M128.1 519.9h0"/>
<path stroke="#aaff4d" d="M145.4 498.4h0M105.3 558.5h0M175.5 484.4h0M121.3 547.8h0M127.8 520.2h0M140.6 524.8h0M168.8 474.4h0M108.8 564.3h0M146.8 496.8h0M161.0 481.4h0M125.1 543.2h0M141.0 503.5h0M181.3 469.3h0M178.9 468.4h0M103.0 565.2h0M117.9 535.4h0M119.1 533.5h0M172.1 471.6h0M180.3 468.9h0M112.7 559.3h0M104.1 568.6h0M117.4 536.2h0M166.6 476.3h0M170.2 491.7h0M116.6 537.5h0M120.3 549.2h0M176.5 468.8h0M115.0 540.0h0M118.8 551.1h0M178.3 479.3h0"/>
<path stroke="#adff49" d="M128.5 539.0h0M111.2 561.2h0M140.0 504.6h0M170.5 472.9h0M110.9 547.2h0M177.5 468.5h0M144.6 499.4h0M114.3 557.2h0M103.9 568.6h0M103.1 565.1h0M177.8 468.4h0M166.8 495.9h0M117.7 535.8h0M161.4 502.3h0M104.8 560.3h0M104.1 568.5h0M120.9 530.8h0M181.1 471.6h0M138.2 527.5h0M179.7 468.8h0M174.1 470.1h0M122.5 528.4h0M110.3 548.2h0"/>
<path stroke="#b1ff46" d="M114.3 541.3h0M144.5 499.5h0M108.9 551.1h0M106.4 556.1h0M154.2 510.0h0M168.5 474.8h0M166.4 496.3h0M119.2 533.6h0M113.5 558.1h0M115.6 539.1h0M134.7 511.1h0M158.6 484.0h0M103.4 568.7h0M145.8 519.1h0M174.0 470.3h0M170.0 473.5h0M135.5 530.6h0M173.7 470.5h0M129.4 518.1h0M128.3 519.7h0M120.5 531.5h0M103.6 568.5h0M165.9 477.1h0M128.0 520.1h0M173.2 487.6h0M169.6 492.4h0M118.2 551.8h0M166.9 476.3h0M169.8 492.1h0M169.0 493.1h0M130.3 516.9h0M105.2 559.2h0M131.4 515.4h0M172.7 471.3h0"/>
<path stroke="#b4ff43" d="M132.2 514.4h0M180.8 469.3h0M102.8 566.0h0M165.5 477.5h0M135.7 530.4h0M179.2 476.6h0M177.3 481.1h0M108.9 551.2h0M120.0 549.4h0M148.5 495.1h0M116.4 554.1h0M104.0 562.5h0M123.1 545.4h0M166.3 496.4h0M164.6 478.3h0M103.7 568.4h0M173.3 470.9h0M148.5 516.0h0M144.6 520.3h0M154.3 509.9h0M153.1 490.0h0M163.3 479.5h0M179.1 468.8h0M173.0 487.8h0M177.7 468.7h0M156.5 507.5h0M155.4 487.6h0M112.7 559.0h0M142.3 522.8h0M169.4 474.2h0M113.3 558.2h0M180.5 473.0h0"/>
<path stroke="#b7ff40" d="M174.0 470.4h0M149.6 493.9h0M181.0 469.6h0M157.8 506.1h0M171.2 472.6h0M120.6 531.6h0M111.1 561.1h0M125.6 542.4h0M112.0 559.9h0M135.5 510.2h0M161.9 480.9h0M179.4 469.0h0M172.4 488.6h0M123.4 545.0h0M174.8 470.0h0M176.5 469.2h0M104.9 567.9h0M140.2 504.6h0M179.0 476.9h0M176.7 482.0h0M172.4 471.7h0M178.4 468.8h0M109.8 549.5h0M113.0 558.6h0M179.9 469.3h0M105.2 559.5h0M180.2 473.7h0M109.8 562.7h0M129.7 537.4h0M166.0 496.7h0"/>
<path stroke="#baff3c" d="M108.5 564.3h0M179.9 474.4h0M150.5 493.0h0M170.2 473.6h0M140.5 504.3h0M110.3 562.1h0M144.3 500.0h0M104.9 560.4h0M181.1 470.4h0M135.5 510.3h0M120.0 549.2h0M173.4 487.2h0M179.7 474.9h0M113.9 542.2h0M178.2 478.9h0M102.5 567.9h0M124.4 525.8h0M173.1 487.6h0M105.7 567.2h0M107.7 553.8h0M117.5 536.5h0M168.5 475.1h0M138.7 506.5h0M104.8 567.7h0M114.5 556.4h0M105.6 567.3h0"/>
<path stroke="#beff39" d="M173.4 487.0h0M157.4 485.6h0M140.2 504.7h0M117.9 535.8h0M175.2 484.3h0M150.0 514.4h0M154.2 489.1h0M149.1 494.6h0M131.3 515.8h0M171.2 490.0h0M169.4 492.3h0M169.7 491.9h0M172.8 487.8h0M181.0 471.0h0M107.0 555.4h0M160.5 482.4h0M103.1 565.6h0M178.3 478.6h0M108.6 552.1h0M165.5 497.2h0M169.6 474.2h0M111.9 545.9h0M146.6 497.5h0M165.3 478.0h0M118.4 551.1h0M121.6 530.2h0M102.7 567.4h0M144.2 500.2h0M171.1 473.0h0M165.1 497.6h0M175.5 483.9h0M172.2 472.1h0M133.1 513.5h0M105.2 559.7h0M112.3 545.2h0M161.7 481.3h0"/>
<path stroke="#c1ff36" d="M142.2 502.5h0M179.6 475.0h0M168.8 475.0h0M113.5 557.7h0M125.2 542.7h0M114.4 556.5h0M124.3 526.1h0M161.4 481.6h0M164.6 478.7h0M179.9 474.0h0M117.8 536.2h0M103.1 568.0h0M149.7 494.1h0M119.4 549.8h0M171.8 489.2h0M141.3 523.8h0M180.5 472.3h0M173.1 487.3h0M171.3 472.9h0M104.1 567.7h0M178.7 477.3h0M162.0 481.1h0M135.2 530.7h0M166.1 477.4h0M133.9 532.3h0M145.1 519.6h0M124.7 525.5h0M149.1 515.2h0"/>
<path stroke="#c4ff33" d="M106.5 566.2h0M159.6 504.0h0M174.6 470.5h0M131.7 534.9h0M162.9 480.3h0M145.1 499.3h0M174.2 470.7h0M120.6 548.2h0M147.4 496.7h0M178.6 477.7h0M136.4 509.4h0M170.7 473.5h0M160.6 502.8h0M163.8 479.5h0M167.8 494.2h0M171.3 473.0h0M105.0 567.3h0M180.8 470.3h0M140.6 524.6h0M145.3 519.4h0M173.8 486.2h0M159.2 504.3h0M103.5 567.7h0M159.1 504.5h0M178.8 477.0h0M126.6 522.8h0M177.2 469.4h0M119.0 550.3h0"/>
<path stroke="#c7ff30" d="M104.8 560.9h0M142.5 522.4h0M115.0 540.8h0M174.4 485.3h0M175.3 483.8h0M153.0 511.0h0M143.0 521.9h0M111.1 547.6h0M144.0 500.5h0M147.6 516.8h0M106.1 566.4h0M123.4 527.7h0M109.7 550.2h0M112.3 559.1h0M148.4 495.6h0M172.7 472.0h0M177.2 469.6h0M121.9 530.0h0M122.0 546.4h0M180.6 470.5h0M133.6 513.0h0"/>
<path stroke="#caff2c" d="M135.2 530.6h0M140.8 504.3h0M111.6 560.0h0M147.0 497.2h0M146.1 498.2h0M117.4 537.0h0M134.9 511.4h0M133.8 532.2h0M178.7 477.0h0M152.9 511.1h0M136.4 509.5h0M130.7 535.9h0M155.9 487.5h0M131.1 516.4h0M178.1 478.5h0M113.7 557.2h0M114.5 541.8h0M129.5 518.6h0M103.2 566.0h0M135.4 510.8h0M131.7 515.6h0M179.6 474.5h0M103.9 563.7h0M112.3 545.4h0M143.1 521.7h0M110.6 548.6h0M106.3 566.1h0M126.3 523.3h0M115.5 554.7h0M111.8 559.6h0M180.2 472.7h0M178.5 469.6h0M114.2 556.5h0"/>
<path stroke="#ceff29" d="M167.1 476.9h0M179.6 474.3h0M141.5 503.6h0M134.5 511.9h0M163.3 499.6h0M161.6 481.7h0M159.1 484.1h0M134.5 512.0h0M173.1 471.9h0M118.1 536.1h0M157.2 486.1h0M118.0 536.3h0M111.9 546.2h0M110.5 561.3h0M162.4 481.0h0M123.6 527.6h0M106.7 556.7h0M113.1 557.8h0M107.6 554.7h0M105.1 566.8h0M103.2 567.1h0M143.6 501.2h0M159.5 503.9h0M160.8 502.4h0M109.7 550.3h0M168.8 475.5h0M105.6 559.1h0M115.5 554.6h0M120.4 548.2h0"/>
<path stroke="#d1ff26" d="M128.0 520.9h0M138.2 507.5h0M141.8 503.3h0M107.9 554.1h0M152.0 491.9h0M178.8 469.8h0M103.5 565.3h0M174.0 471.3h0M177.8 479.0h0M142.2 522.6h0M163.3 499.5h0M110.0 549.8h0M138.2 527.1h0M146.0 518.5h0M107.3 564.9h0M165.1 478.7h0M112.2 558.9h0M136.7 509.3h0M134.8 511.6h0M180.4 470.8h0M179.0 476.0h0M155.2 488.4h0M169.8 474.7h0M179.7 470.3h0M179.5 474.4h0M105.6 566.4h0"/>
<path stroke="#d4ff23" d="M161.2 482.2h0M165.3 478.6h0M115.7 540.1h0M114.3 542.3h0M115.7 554.2h0M163.5 480.2h0M127.5 539.5h0M172.4 472.6h0M146.1 498.4h0M143.9 520.7h0M156.3 487.2h0M163.3 499.4h0M130.0 518.1h0M139.1 506.5h0M177.6 469.9h0M150.1 514.0h0M180.3 471.9h0M115.8 539.9h0M129.2 537.6h0M146.6 497.9h0M158.6 484.9h0M144.3 500.5h0M167.1 477.1h0M103.4 566.8h0M104.6 566.7h0M123.5 527.9h0M178.2 477.8h0M147.6 496.8h0M154.9 488.8h0M160.7 502.5h0M161.1 502.0h0M164.8 497.6h0M135.6 510.8h0M172.3 487.8h0M106.1 565.9h0M147.7 516.6h0"/>
<path stroke="#d7ff1f" d="M150.3 493.8h0M172.8 487.2h0M122.7 529.2h0M138.6 507.1h0M110.8 560.7h0M165.4 478.6h0M179.4 474.6h0M126.1 523.9h0M158.9 504.4h0M105.3 566.4h0M132.9 514.2h0M172.8 472.4h0M177.1 480.2h0M122.3 529.9h0M176.0 470.5h0M176.6 470.3h0M134.2 531.6h0M179.3 474.8h0M173.6 486.0h0M168.1 476.4h0M112.0 559.1h0M148.5 515.7h0"/>
<path stroke="#dbff1c" d="M162.9 480.8h0M113.1 557.6h0M179.2 474.9h0M178.5 476.9h0M177.3 470.1h0M115.6 540.3h0M172.7 487.2h0M124.9 542.5h0M115.1 541.2h0M174.9 484.0h0M105.2 566.3h0M105.0 561.1h0M168.7 475.9h0M180.2 471.2h0M120.9 532.0h0M113.0 557.7h0M116.9 538.2h0M152.4 491.6h0M118.4 550.5h0M103.6 566.5h0M178.0 470.1h0M109.6 562.0h0M125.1 542.2h0M113.8 556.6h0M176.0 470.6h0M155.5 488.3h0M111.2 560.0h0M111.3 547.7h0M171.5 488.7h0M106.5 557.5h0M179.3 470.5h0"/>
<path stroke="#deff19" d="M125.6 524.8h0M180.0 471.0h0M129.7 518.7h0M156.6 487.1h0M179.6 470.7h0M103.8 564.7h0M103.6 565.8h0M113.5 543.9h0M151.6 492.6h0M132.5 533.5h0M145.2 499.6h0M111.9 546.8h0M112.8 557.8h0M172.4 487.5h0M116.5 539.0h0M117.6 551.5h0M103.6 566.0h0M173.0 472.5h0M178.4 477.1h0M148.9 515.2h0M168.4 476.2h0M145.2 519.2h0M103.6 565.8h0M150.3 513.6h0M164.8 479.3h0M104.7 566.3h0M171.3 489.0h0M174.2 471.7h0M119.5 534.3h0M162.2 481.6h0M175.6 470.9h0M125.9 541.2h0M150.4 493.9h0"/>
<path stroke="#e1ff16" d="M116.5 552.8h0M114.9 541.6h0M176.1 470.7h0M116.7 538.8h0M171.4 473.7h0M160.5 502.5h0M119.2 549.3h0M139.4 506.5h0M109.9 550.6h0M180.0 471.6h0M132.1 515.5h0M156.9 506.4h0M148.0 516.1h0M132.5 514.9h0M124.5 526.6h0M138.0 527.1h0M133.4 532.4h0M129.5 537.0h0M146.9 497.9h0M179.5 470.8h0M139.6 506.3h0M155.2 508.2h0M104.5 566.3h0M117.1 538.1h0M161.8 482.1h0M160.4 502.6h0M137.3 509.0h0M108.1 554.3h0M127.9 521.5h0M115.6 540.7h0M132.0 515.6h0M178.2 477.3h0M179.6 473.4h0M159.2 484.6h0M148.4 515.6h0M162.7 481.2h0M173.1 486.3h0"/>
<path stroke="#e4ff13" d="M149.3 514.6h0M135.5 511.2h0M134.7 512.1h0M114.3 542.7h0M166.1 478.4h0M118.5 536.0h0M120.2 533.4h0M174.7 483.9h0M115.9 540.2h0M165.5 496.2h0M110.7 560.4h0M127.5 522.1h0M147.5 497.2h0M139.9 525.0h0M123.0 544.5h0M144.8 519.6h0M126.6 523.5h0M103.8 565.8h0M142.9 502.4h0M165.7 478.8h0M134.0 513.2h0M158.8 485.1h0M127.1 539.8h0M120.4 547.7h0M179.7 472.8h0M104.0 566.1h0M176.8 470.7h0M156.8 506.5h0M124.1 527.4h0M162.0 481.9h0M150.1 494.4h0M103.9 566.0h0M109.1 552.3h0M170.7 474.5h0M169.1 491.6h0M115.3 541.1h0M179.9 471.5h0M121.9 545.7h0M166.5 478.1h0M115.0 541.6h0M140.2 524.6h0"/>
<path stroke="#e7ff0f" d="M164.3 479.9h0M104.9 566.0h0M179.8 472.3h0M167.3 493.9h0M178.9 470.7h0M162.3 481.7h0M123.4 528.5h0M155.7 507.6h0M168.9 476.1h0M111.5 559.2h0M179.8 472.2h0M166.8 494.5h0M163.1 481.1h0M175.3 482.8h0M112.8 557.5h0M162.8 481.3h0M171.2 488.8h0M142.1 503.5h0M123.0 544.3h0M134.5 512.6h0M135.6 511.2h0M110.2 550.3h0M138.4 526.6h0M112.1 546.8h0"/>
<path stroke="#ebff0c" d="M124.8 526.4h0M104.0 565.9h0M147.7 516.3h0M128.3 538.3h0M151.6 512.1h0M172.6 486.8h0M105.5 565.5h0M164.9 479.5h0M119.3 535.0h0M115.4 554.0h0M114.2 555.6h0M125.4 525.5h0M120.0 533.9h0M179.2 474.1h0M156.9 506.3h0M177.1 479.4h0M176.2 481.2h0M173.1 486.2h0M168.7 476.4h0M111.2 559.5h0M167.9 477.1h0M155.6 488.5h0M168.9 491.7h0M170.5 489.7h0M143.5 501.9h0M177.4 478.8h0M127.9 538.6h0M124.0 543.1h0M173.1 472.9h0"/>
<path stroke="#eeff09" d="M177.4 478.6h0M159.5 484.5h0M109.8 561.2h0M165.2 479.4h0M122.4 545.0h0M179.4 471.3h0M119.4 548.7h0M179.2 474.2h0M115.4 553.9h0M164.9 496.9h0M179.1 474.3h0M116.1 540.2h0M104.2 564.2h0M177.0 479.5h0M137.1 527.9h0M132.6 533.2h0M141.6 522.9h0M164.8 496.9h0M124.2 527.4h0M159.4 503.4h0M163.2 499.0h0M170.6 474.9h0M173.6 472.7h0M175.9 481.6h0M144.1 501.3h0M173.3 472.8h0M169.8 490.4h0M178.4 470.9h0M116.2 540.1h0M107.7 555.4h0M160.9 483.2h0M161.4 501.2h0M129.7 519.1h0"/>
<path stroke="#f1fc06" d="M129.9 518.9h0M105.5 560.6h0M136.3 528.8h0M179.6 471.9h0M113.9 556.0h0M137.3 527.7h0M178.5 476.0h0M125.6 541.1h0M147.0 516.9h0M167.8 493.0h0M146.5 517.5h0M128.2 521.3h0M175.6 482.0h0M145.6 499.6h0M157.9 486.3h0M127.0 523.2h0M139.6 525.1h0M169.0 491.5h0M158.8 504.1h0M113.9 555.9h0M161.6 482.6h0M164.7 480.0h0M111.2 559.3h0M124.1 527.7h0M119.0 549.2h0M123.4 528.8h0M136.1 529.0h0M158.6 485.5h0M156.0 488.3h0M138.4 508.0h0M136.8 528.2h0M137.6 509.0h0M154.0 490.5h0M136.5 510.3h0M125.1 526.1h0"/>
<path stroke="#f4f802" d="M113.5 544.6h0M171.3 474.5h0M113.4 556.4h0M168.7 476.6h0M163.1 481.4h0M166.7 478.3h0M108.3 554.3h0M139.3 506.9h0M178.3 471.0h0M171.3 488.3h0M136.3 510.6h0M120.1 547.6h0M138.6 507.8h0M163.1 499.0h0M142.5 503.2h0M126.4 540.2h0M117.6 550.9h0M132.6 515.3h0M109.4 552.2h0M148.5 515.3h0M179.5 472.8h0M115.4 553.8h0M176.7 479.8h0M169.1 491.2h0M156.8 506.3h0M115.4 541.5h0M164.7 496.9h0M137.1 527.8h0M118.0 550.4h0M141.4 504.5h0M136.6 528.4h0M176.2 471.5h0M178.8 471.2h0"/>
<path stroke="#f8f500" d="M117.3 538.5h0M173.2 473.1h0M121.1 546.4h0M160.7 483.7h0M123.2 529.3h0M137.5 527.4h0M170.8 475.0h0M126.8 539.7h0M171.5 474.4h0M110.7 549.8h0M178.4 471.1h0M168.2 492.3h0M161.4 483.0h0M136.0 511.0h0M106.0 564.7h0M173.9 484.6h0M158.0 486.4h0M138.8 526.0h0M177.8 477.3h0M152.4 492.2h0M161.9 482.5h0M104.5 563.7h0M139.7 506.6h0M105.2 565.2h0M106.6 558.1h0M115.3 553.9h0M165.8 479.2h0M128.4 521.3h0M112.0 558.1h0M175.5 482.0h0M134.1 531.2h0M147.7 497.5h0M171.1 474.8h0M127.4 522.8h0M112.8 546.0h0M109.4 561.3h0"/>
<path stroke="#fbf100" d="M147.2 516.6h0M155.8 507.3h0M111.9 558.3h0M122.0 531.1h0M170.4 475.4h0M177.9 477.0h0M179.4 472.4h0M137.2 509.7h0M173.3 473.1h0M166.4 478.8h0M144.3 501.3h0M162.6 482.0h0M126.4 540.0h0M154.2 490.4h0M165.8 495.4h0M178.4 475.8h0M149.0 496.1h0M179.4 472.3h0M128.2 521.6h0M164.3 497.2h0M120.4 533.8h0M125.1 541.5h0M162.0 482.5h0M177.8 471.2h0M158.9 503.8h0M174.5 472.4h0M164.6 480.3h0M145.4 500.0h0M123.3 529.3h0M107.2 556.9h0M117.0 551.5h0M134.7 512.7h0M121.3 546.1h0M114.0 543.9h0M175.7 481.4h0M120.6 533.4h0M150.9 494.0h0M158.3 504.5h0M104.5 565.0h0M150.6 512.8h0M125.5 525.8h0M168.1 477.4h0M104.8 563.0h0M170.8 488.9h0M173.3 473.2h0M152.9 510.4h0M149.3 495.8h0M149.9 513.6h0M155.4 489.1h0M164.9 480.0h0M164.4 497.1h0M124.6 542.0h0"/>
<path stroke="#feed00" d="M148.0 497.3h0M161.2 483.3h0M163.7 498.0h0M126.5 524.2h0M116.3 540.3h0M167.9 492.5h0M132.7 515.4h0M147.9 497.3h0M155.6 489.0h0M154.3 508.8h0M179.2 473.1h0M109.8 551.7h0M146.9 516.9h0M141.4 523.0h0M122.2 544.9h0M112.4 546.8h0M111.0 549.5h0M155.9 488.6h0M165.7 479.4h0M162.6 482.1h0M113.1 556.5h0M150.4 494.6h0M175.2 472.2h0M108.0 555.2h0M121.3 546.0h0M170.4 489.3h0M178.5 475.4h0M148.5 515.2h0M113.3 545.3h0M106.0 564.5h0M108.5 562.1h0M173.9 472.9h0M150.9 494.1h0M116.1 552.6h0M108.4 554.4h0M169.6 476.2h0M108.5 562.1h0M152.6 510.6h0"/>
<path stroke="#ffea00" d="M166.1 479.2h0M162.5 482.3h0M120.6 546.7h0M109.3 561.1h0M171.2 488.1h0M121.1 532.9h0M135.4 529.6h0M170.6 475.4h0M112.8 556.9h0M116.3 552.3h0M177.2 471.6h0M173.4 485.0h0M104.6 564.5h0M108.5 554.4h0M137.7 527.0h0M169.3 476.6h0M140.2 506.3h0M161.9 482.8h0M116.1 540.7h0M176.6 471.8h0M136.5 510.7h0M174.4 483.5h0M170.2 489.4h0M113.4 556.1h0M126.1 525.0h0"/>
<path stroke="#ffe600" d="M104.7 564.6h0M120.3 534.1h0M120.9 533.2h0M139.1 525.4h0M175.3 481.9h0M138.9 525.6h0M110.3 550.8h0M159.8 502.6h0M126.0 540.3h0M117.3 551.0h0M178.4 471.6h0M162.0 482.7h0M170.6 488.9h0M174.7 472.7h0M121.8 531.9h0M111.4 548.9h0M155.6 507.2h0M149.5 513.9h0M112.1 557.6h0M175.7 472.2h0M128.1 522.1h0M115.6 541.6h0M173.9 473.1h0M122.1 544.8h0M143.5 520.5h0M129.6 519.8h0M164.3 480.9h0M108.2 562.2h0M174.0 483.9h0M173.1 485.3h0M118.9 548.7h0M169.3 476.7h0M106.8 563.5h0"/>
<path stroke="#ffe200" d="M133.3 514.8h0M127.0 539.1h0M114.0 544.3h0M114.6 543.3h0M126.9 524.0h0M157.1 505.6h0M117.8 550.2h0M113.5 555.8h0M134.2 530.8h0M157.2 487.6h0M113.9 555.3h0M153.6 509.4h0M160.6 484.1h0M152.6 510.5h0M156.4 506.4h0M136.6 510.6h0M154.2 508.8h0M152.9 492.1h0M106.6 558.8h0M168.8 477.2h0M177.0 471.9h0M111.1 558.8h0M149.7 513.7h0M136.1 511.3h0M171.5 475.0h0M165.5 495.4h0M171.5 487.5h0M158.4 486.4h0M112.4 557.2h0M165.3 495.6h0M166.6 479.1h0"/>
<path stroke="#ffde00" d="M108.7 561.5h0M159.2 503.2h0M106.0 560.2h0M173.3 473.7h0M113.2 556.1h0M125.6 540.6h0M124.1 542.4h0M106.8 563.3h0M151.5 493.7h0M110.1 551.5h0M170.1 476.2h0M174.5 482.9h0M119.5 547.9h0M113.7 555.4h0M152.0 511.1h0M177.4 471.9h0M159.3 485.5h0M130.4 535.1h0M134.2 530.8h0M177.1 478.1h0M169.4 476.8h0M165.7 495.0h0M156.0 488.9h0M108.3 555.1h0M131.0 518.0h0M129.1 520.7h0M120.7 546.4h0M162.0 499.8h0M128.0 522.4h0M179.0 472.8h0M157.2 505.4h0M169.9 489.5h0M152.6 492.6h0M117.1 551.0h0M161.6 500.2h0M160.4 501.7h0M144.8 519.0h0M116.3 551.9h0M177.3 477.6h0M167.8 478.1h0M113.0 546.1h0"/>
<path stroke="#ffdb00" d="M111.2 558.5h0M169.8 489.6h0M172.8 485.6h0M162.9 482.2h0M178.3 475.3h0M118.8 548.8h0M151.2 511.9h0M163.9 497.3h0M108.9 553.8h0M106.9 563.2h0M169.1 490.6h0M174.1 483.5h0M162.0 499.7h0M167.9 492.1h0M132.9 515.5h0M169.8 476.5h0M129.7 535.9h0M177.3 477.6h0M152.7 492.4h0M113.7 545.0h0M142.9 503.4h0M152.9 510.0h0M174.4 473.2h0M156.2 488.8h0M123.2 529.8h0M125.0 541.2h0M159.5 485.4h0M114.0 544.6h0M152.1 493.1h0M125.6 540.5h0M149.5 513.7h0M177.0 472.1h0M137.8 526.6h0M105.1 564.1h0M156.6 488.4h0"/>
<path stroke="#ffd700" d="M177.2 477.6h0M150.6 494.8h0M160.2 484.7h0M169.8 489.6h0M171.6 487.2h0M175.5 481.0h0M123.0 543.4h0M134.0 530.9h0M131.1 534.3h0M135.2 529.6h0M105.1 562.9h0M152.8 510.0h0M144.4 501.7h0M162.7 498.8h0M171.1 475.5h0M158.3 504.0h0M121.2 545.6h0M167.6 478.4h0M175.7 480.7h0M172.9 485.3h0M155.3 507.4h0M173.7 484.0h0M121.3 533.0h0M148.2 497.5h0M154.9 507.8h0M155.0 490.2h0M145.0 518.6h0M162.7 498.8h0M125.0 527.3h0M178.8 473.5h0"/>
<path stroke="#ffd300" d="M141.8 504.8h0M171.2 487.6h0M178.3 474.9h0M172.7 485.5h0M156.4 488.7h0M131.3 533.9h0M162.2 499.3h0M162.7 498.7h0M114.7 553.9h0M138.3 508.8h0M169.0 477.4h0M164.7 496.1h0M147.0 516.4h0M169.8 476.7h0M110.6 559.0h0M123.0 530.4h0M105.2 563.8h0M137.1 510.4h0M113.4 545.7h0M116.6 540.4h0M105.5 563.9h0M147.2 498.6h0M129.0 521.1h0M117.4 539.1h0M144.1 519.5h0M112.6 556.6h0M171.5 487.2h0M134.6 530.1h0M108.2 555.6h0M107.1 562.7h0M169.1 477.3h0M108.7 554.6h0M178.7 472.7h0M117.2 550.6h0M107.0 562.7h0M173.4 484.4h0M146.2 517.2h0M145.6 500.4h0"/>
<path stroke="#ffd000" d="M115.2 553.1h0M113.0 546.6h0M106.5 559.4h0M118.0 538.3h0M135.3 512.7h0M112.7 556.3h0M123.2 530.1h0M176.8 472.4h0M166.7 493.4h0M109.0 560.7h0M136.9 510.6h0M157.3 487.8h0M117.8 549.8h0M129.4 520.6h0M161.5 500.1h0M169.0 477.5h0M122.5 543.8h0M174.7 473.3h0M119.7 547.4h0M117.1 550.6h0M175.8 472.8h0M154.4 491.0h0M165.8 480.1h0M151.3 494.3h0M107.1 558.1h0M141.8 504.9h0M174.3 482.9h0M172.0 475.1h0M170.5 476.3h0"/>
<path stroke="#ffcc00" d="M141.1 505.7h0M176.3 472.6h0M113.7 555.0h0M166.5 493.6h0M115.6 552.6h0M175.7 472.9h0M176.9 472.5h0M123.1 530.4h0M129.8 535.5h0M111.0 558.3h0M109.0 560.5h0M170.6 476.3h0M137.2 510.4h0M106.6 562.9h0M131.7 517.4h0M107.7 556.9h0M176.1 472.8h0M143.3 503.1h0M165.1 480.8h0M131.7 517.4h0M151.6 494.0h0M128.7 521.7h0M160.4 501.3h0M162.5 498.8h0M155.5 506.9h0M168.3 478.2h0M148.5 497.3h0M140.8 506.1h0M127.2 538.4h0M143.3 503.3h0"/>
<path stroke="#ffc800" d="M127.4 523.7h0M147.5 515.7h0M178.0 472.5h0M121.3 533.3h0M175.7 480.3h0M159.2 502.8h0M151.3 511.5h0M112.7 547.2h0M170.8 487.9h0M140.0 507.0h0M176.0 472.9h0M146.8 499.3h0M127.3 538.3h0M162.6 498.6h0M135.2 529.2h0M151.0 494.7h0M175.9 472.9h0M109.4 560.0h0M173.9 473.9h0M152.3 510.4h0M169.8 477.0h0M125.7 526.4h0M169.8 489.2h0M105.7 563.3h0M122.0 532.2h0M137.0 527.2h0M127.6 523.5h0M136.8 527.4h0M138.0 526.0h0M135.3 512.8h0M146.9 516.3h0M163.8 497.0h0M144.2 502.2h0M144.5 501.9h0M105.5 562.6h0M147.6 515.5h0"/>
<path stroke="#ffc400" d="M163.7 497.2h0M133.0 515.8h0M138.7 508.7h0M118.0 538.5h0M166.6 479.7h0M158.1 487.3h0M112.0 548.6h0M127.1 524.3h0M146.7 516.5h0M146.6 499.6h0M107.2 558.2h0M123.0 530.7h0M172.4 475.1h0M157.2 504.9h0M177.0 472.7h0M125.7 526.5h0M110.1 552.1h0M141.3 505.7h0M145.9 517.4h0M125.5 540.1h0M149.2 513.7h0M107.6 561.7h0M138.7 525.2h0M122.2 532.0h0M133.7 515.0h0M115.7 552.2h0"/>
<path stroke="#ffc100" d="M175.3 473.4h0M128.1 522.8h0M170.6 476.5h0M177.5 476.3h0M166.9 479.5h0M135.1 529.3h0M161.2 500.2h0M143.7 519.7h0M137.2 526.9h0M169.6 477.4h0M128.8 521.7h0M174.8 473.6h0M162.4 483.3h0M147.3 498.9h0M174.7 473.7h0M127.7 537.6h0M169.9 488.9h0M131.4 518.1h0M170.9 487.5h0M135.3 529.0h0M121.2 533.6h0M126.2 525.8h0M135.0 529.4h0M116.5 551.1h0M114.7 544.1h0M177.8 472.8h0M172.2 475.4h0M169.4 489.5h0M121.0 534.0h0M106.5 559.9h0M116.4 551.1h0"/>
<path stroke="#ffbd00" d="M145.8 517.4h0M166.3 493.6h0M134.1 514.5h0M105.8 562.0h0M108.5 555.5h0M134.9 513.5h0M159.1 502.6h0M134.4 514.1h0M109.9 559.1h0M162.8 498.1h0M105.7 562.7h0M108.7 560.4h0M143.7 503.0h0M127.4 537.9h0M124.8 540.8h0M144.3 502.3h0M112.0 556.7h0M109.6 559.5h0M146.2 500.2h0M171.3 486.8h0M150.0 496.0h0M108.7 560.5h0M149.2 513.5h0M127.8 523.3h0M154.8 507.4h0M139.3 508.2h0M120.0 535.6h0M170.0 488.6h0M121.8 544.3h0M176.2 478.7h0M129.4 535.6h0M126.1 539.3h0M126.3 525.7h0M113.2 555.2h0M175.5 480.2h0M150.6 512.0h0M169.2 489.7h0M161.3 500.0h0M156.6 505.4h0"/>
<path stroke="#ffb900" d="M105.8 562.5h0M106.6 559.8h0M167.4 479.4h0M142.6 504.3h0M119.8 536.0h0M154.4 491.3h0M164.3 496.1h0M163.1 482.8h0M145.1 518.0h0M151.6 510.9h0M114.3 553.8h0M168.8 490.2h0M169.0 478.1h0M156.2 489.5h0M117.3 540.0h0M166.2 480.4h0M108.1 561.0h0M117.2 550.0h0M174.6 473.9h0M119.9 546.6h0M111.7 556.9h0M143.8 519.5h0M173.6 483.4h0M155.2 506.9h0M145.1 501.5h0M163.7 482.4h0M150.4 512.2h0M148.3 497.9h0M126.3 525.8h0M159.3 486.3h0M112.9 555.4h0M171.3 476.3h0M175.2 480.5h0M108.9 560.1h0M116.6 541.1h0M169.4 489.3h0"/>
<path stroke="#ffb600" d="M142.9 520.4h0M120.9 534.3h0M155.1 506.9h0M129.4 535.5h0M148.5 514.3h0M111.1 550.6h0M112.7 547.7h0M106.9 562.0h0M127.7 523.7h0M138.5 509.2h0M140.3 507.1h0M176.9 477.2h0M123.7 529.9h0M111.9 556.6h0M157.1 504.7h0M134.1 530.2h0M157.0 504.9h0M147.3 499.1h0M151.0 495.0h0M145.6 517.5h0M119.7 536.3h0M130.1 520.1h0M128.5 536.5h0M177.8 474.9h0M107.9 561.0h0M173.9 482.8h0M163.4 482.7h0M126.8 525.0h0M176.6 477.6h0M125.2 527.6h0M156.2 489.5h0M125.7 539.6h0M137.3 510.8h0M111.7 549.6h0M170.8 476.7h0M167.8 491.4h0M159.7 501.7h0M118.6 548.1h0M164.8 481.6h0M118.3 548.5h0M149.2 497.1h0M149.2 513.5h0"/>
<path stroke="#ffb200" d="M113.6 554.5h0M143.6 519.6h0M130.6 519.5h0M150.0 512.5h0M122.9 542.7h0M110.4 558.4h0M161.5 499.6h0M167.9 491.1h0M140.3 507.1h0M170.6 476.9h0M133.8 530.5h0M172.7 475.4h0M138.0 525.7h0M110.5 551.8h0M106.8 559.6h0M171.8 476.0h0M165.6 494.3h0M125.0 540.4h0M144.2 502.7h0M124.1 541.4h0M138.3 525.4h0M164.0 496.4h0M131.8 532.8h0M169.6 488.9h0M115.3 543.4h0M139.5 524.1h0M117.4 539.9h0M175.9 479.1h0M158.5 487.3h0M154.5 507.5h0M106.2 562.2h0M155.2 490.7h0M130.2 534.6h0M143.6 503.4h0M171.6 476.2h0M158.8 502.7h0M112.4 555.8h0M108.0 560.7h0M140.2 523.3h0M166.4 480.4h0M159.9 485.9h0M159.8 501.6h0M119.5 536.7h0M175.4 473.8h0M106.3 562.1h0M139.8 507.7h0M135.6 513.0h0"/>
<path stroke="#ffae00" d="M177.4 473.3h0M177.5 475.5h0M176.8 473.4h0M177.6 473.4h0M170.8 487.2h0M175.0 474.0h0M159.7 501.6h0M173.7 474.7h0M115.8 551.6h0M113.1 554.9h0M134.8 514.0h0M114.4 553.3h0M175.7 479.3h0M111.0 551.1h0M118.4 538.5h0M147.1 515.7h0M170.6 487.4h0M118.2 538.8h0M131.9 532.6h0M176.9 473.5h0M110.6 551.9h0M146.3 500.4h0M141.4 506.0h0M177.0 473.5h0M116.9 540.9h0M113.4 546.6h0M177.6 475.1h0M136.1 512.4h0M110.9 557.5h0M111.0 551.1h0"/>
<path stroke="#ffab00" d="M137.4 510.8h0M150.8 495.4h0M177.0 476.5h0M156.2 489.8h0M169.6 488.7h0M113.1 547.3h0M163.9 496.3h0M141.9 521.4h0M115.3 552.1h0M160.4 500.7h0M133.7 515.4h0M119.0 537.7h0M165.8 481.0h0M132.9 531.4h0M171.3 476.6h0M159.5 486.5h0M173.6 482.8h0M114.5 553.1h0M108.1 556.9h0M174.2 482.0h0M123.3 542.2h0M119.6 536.6h0M173.5 483.0h0M129.3 521.5h0M169.9 477.7h0M155.9 505.9h0M108.9 559.6h0M106.4 561.6h0M115.9 542.5h0M154.6 491.5h0M172.5 475.7h0M139.8 523.6h0M164.0 482.5h0M121.1 534.3h0M134.0 515.1h0M107.0 561.4h0M138.6 524.9h0M134.7 529.3h0"/>
<path stroke="#ffa700" d="M173.5 483.0h0M170.2 477.5h0M159.7 501.6h0M167.2 479.9h0M177.4 475.5h0M164.8 495.1h0M172.7 484.2h0M171.4 476.5h0M152.4 493.9h0M138.2 525.3h0M163.2 497.1h0M114.0 545.7h0M165.5 481.3h0M136.3 512.3h0M151.5 510.7h0M153.9 492.2h0M135.1 513.7h0M149.5 497.0h0M176.5 473.7h0M172.4 475.9h0M163.5 496.7h0M122.1 543.4h0M177.6 474.6h0M110.2 558.2h0M165.2 494.4h0M119.1 537.5h0M118.7 538.3h0M130.7 519.5h0M171.3 486.2h0M117.7 548.8h0M177.4 473.8h0"/>
<path stroke="#ffa300" d="M142.2 520.9h0M162.8 483.6h0M128.6 522.6h0M119.1 547.1h0M106.6 560.9h0M169.7 488.4h0M146.5 500.4h0M125.5 527.5h0M161.8 484.5h0M157.4 488.7h0M159.9 501.2h0M107.0 559.7h0M126.2 538.8h0M111.2 550.8h0M157.4 504.1h0M171.5 485.9h0M133.2 530.9h0M169.7 478.0h0M108.0 560.3h0M144.2 518.7h0M162.9 483.6h0M174.3 481.5h0M135.5 513.3h0M177.0 476.2h0M153.9 492.4h0M147.0 515.6h0M119.5 537.0h0M171.7 485.5h0M125.3 527.8h0M168.2 479.3h0M111.6 556.4h0M127.9 536.9h0M116.7 550.1h0M169.4 478.4h0M112.4 548.7h0M108.2 557.0h0M130.8 533.6h0M106.9 561.1h0M136.0 512.8h0"/>
<path stroke="#ff9f00" d="M106.9 561.1h0M162.8 483.6h0M129.6 521.3h0M131.1 519.1h0M170.0 477.9h0M152.1 494.3h0M167.0 480.3h0M173.8 475.1h0M160.3 485.9h0M177.2 475.6h0M110.4 557.8h0M110.5 557.7h0M120.0 536.3h0M129.6 535.0h0M123.4 530.8h0M163.2 497.1h0M154.7 491.6h0M143.7 519.1h0M114.8 552.5h0M146.8 500.1h0M163.3 496.9h0M150.5 496.1h0M140.5 522.7h0M118.8 547.4h0M107.1 559.4h0M113.0 547.7h0M119.1 547.0h0M121.9 533.3h0M176.8 473.9h0M137.9 525.5h0M145.1 517.6h0M134.1 515.2h0M153.8 492.5h0M154.6 491.7h0M171.0 486.5h0M171.6 485.5h0M122.6 532.2h0M168.5 489.9h0"/>
<path stroke="#ff9c00" d="M152.9 509.0h0M141.5 506.2h0M176.1 478.0h0M108.6 559.6h0M156.1 505.4h0M168.1 490.3h0M150.8 495.8h0M107.0 559.9h0M148.4 513.9h0M163.4 483.3h0M164.0 482.8h0M113.1 554.4h0M146.9 500.1h0M144.5 502.7h0M120.4 545.3h0M128.0 536.6h0M109.0 555.5h0M140.8 522.3h0M131.9 532.3h0M120.9 535.0h0M128.1 523.7h0M145.3 501.9h0M171.4 476.9h0M135.5 513.4h0M162.1 498.3h0M117.5 548.8h0M165.0 494.5h0M173.0 483.4h0M152.9 509.0h0M136.5 527.0h0"/>
<path stroke="#ff9800" d="M112.5 555.1h0M157.3 489.0h0M151.4 495.2h0M136.3 512.5h0M154.4 507.2h0M165.9 493.2h0M161.9 498.6h0M152.5 494.0h0M164.1 482.8h0M177.3 474.9h0M111.9 555.8h0M142.7 520.1h0M122.8 542.4h0M121.8 543.5h0M168.3 479.5h0M152.3 494.2h0M130.4 533.9h0M112.8 548.3h0M149.8 512.4h0M170.3 477.8h0M175.3 474.5h0M128.6 535.9h0M133.8 530.0h0M172.8 483.6h0M123.7 541.3h0M144.2 518.5h0M159.5 486.8h0M136.1 512.8h0M177.1 474.2h0M124.3 529.6h0M157.0 504.3h0M112.7 554.8h0M156.8 489.6h0M108.2 559.8h0M170.4 487.0h0M153.3 493.2h0M171.4 485.6h0M169.9 478.2h0M167.0 491.7h0M112.1 549.5h0M174.4 475.0h0M120.6 535.6h0M122.2 543.0h0M164.9 482.2h0M107.2 559.8h0M173.1 475.8h0M117.1 549.2h0"/>
<path stroke="#ff9400" d="M173.0 475.9h0M145.0 502.3h0M111.4 556.4h0M130.8 519.8h0M160.3 500.5h0M126.5 526.3h0M118.0 539.7h0M107.2 560.3h0M107.3 559.4h0M170.2 487.4h0M142.4 505.3h0M176.5 476.8h0M152.1 494.5h0M169.4 478.7h0M127.0 525.5h0M124.7 540.1h0M107.3 560.3h0M132.7 517.1h0M176.0 474.4h0M119.8 545.9h0M119.1 537.9h0M116.6 542.0h0M126.7 537.9h0M158.9 502.1h0M138.9 524.2h0M135.2 528.3h0M152.9 508.8h0M128.1 536.4h0M164.0 483.0h0M140.4 507.6h0M132.7 531.2h0M156.2 490.3h0M176.5 474.3h0M149.3 497.6h0M175.0 479.7h0M131.8 532.2h0M126.7 537.9h0M108.7 556.3h0M117.0 541.3h0M107.4 560.2h0M118.1 547.8h0M134.4 515.0h0M113.1 554.2h0M138.8 509.5h0"/>
<path stroke="#ff9100" d="M154.4 507.1h0M150.2 496.6h0M123.5 531.1h0M118.9 546.8h0M153.9 507.6h0M153.5 493.1h0M167.0 480.7h0M123.7 541.1h0M121.6 534.1h0M176.3 477.0h0M173.7 475.6h0M137.2 511.6h0M165.3 482.0h0M130.5 533.6h0M163.5 483.5h0M124.5 529.6h0M156.1 490.4h0M156.3 504.9h0M113.3 553.9h0M113.0 548.2h0M170.0 487.5h0M176.4 476.9h0M122.6 532.6h0M177.0 475.1h0"/>
<path stroke="#ff8d00" d="M156.4 504.8h0M130.5 520.4h0M167.7 480.2h0M172.5 476.4h0M135.1 514.2h0M107.5 559.3h0M153.7 507.8h0M160.0 486.6h0M160.9 485.7h0M129.0 522.6h0M161.4 485.3h0M118.9 546.7h0M112.5 554.8h0M109.4 555.0h0M112.2 555.1h0M128.0 524.1h0M155.7 490.9h0M120.0 545.4h0M166.4 492.4h0M175.0 479.6h0M112.2 555.1h0M168.6 479.5h0M129.0 522.6h0M169.5 488.0h0M119.6 537.4h0M124.7 539.9h0M128.1 536.2h0M165.1 494.0h0M148.9 498.2h0M167.8 480.2h0M146.8 515.4h0M134.8 514.7h0M175.9 474.7h0M162.6 497.4h0M176.5 476.4h0"/>
<path stroke="#ff8900" d="M170.0 487.3h0M139.9 508.4h0M119.3 546.3h0M163.7 495.9h0M148.3 498.9h0M113.9 553.0h0M114.4 552.4h0M116.9 549.1h0M111.7 550.6h0M110.8 552.2h0M172.8 476.3h0M143.3 519.2h0M163.0 496.8h0M113.8 553.1h0M107.8 558.6h0M112.5 549.2h0M176.4 476.5h0M136.1 527.1h0M163.4 496.3h0M108.0 558.3h0M126.7 526.2h0M168.2 479.9h0M119.9 545.4h0M110.9 552.1h0M130.3 520.8h0M116.2 550.0h0M135.5 527.7h0M110.1 557.4h0M171.5 485.1h0M158.4 488.3h0M157.4 489.2h0M116.0 550.3h0M151.1 495.9h0M116.2 550.1h0M114.6 545.6h0M113.3 547.8h0"/>
<path stroke="#ff8600" d="M150.0 511.7h0M121.3 543.7h0M115.7 543.7h0M117.0 541.6h0M151.1 495.9h0M123.8 540.8h0M132.7 517.5h0M141.1 507.1h0M131.9 518.6h0M124.2 530.2h0M174.9 475.2h0M161.4 498.8h0M122.0 542.9h0M172.1 476.9h0M129.1 535.0h0M164.6 494.6h0M117.8 540.4h0M165.7 482.0h0M168.9 488.7h0M129.8 521.6h0M159.5 501.1h0M169.6 487.6h0M161.9 485.0h0M112.7 548.9h0M159.7 487.0h0M120.2 536.6h0M129.0 522.8h0M162.9 496.9h0M147.2 500.2h0M143.4 504.4h0M108.5 557.2h0M114.3 552.3h0M142.4 505.7h0M119.6 537.5h0M127.4 525.2h0M118.2 539.8h0M147.9 499.5h0M118.2 539.8h0"/>
<path stroke="#ff8200" d="M158.2 488.6h0M148.1 499.2h0M153.4 493.5h0M150.3 496.9h0M171.8 484.4h0M118.2 539.8h0M122.3 533.2h0M116.1 550.0h0M125.5 538.9h0M150.6 511.1h0M162.2 484.8h0M116.7 542.2h0M140.3 508.1h0M154.0 492.9h0M176.6 475.1h0M136.0 513.3h0M169.6 487.6h0M164.4 494.8h0M125.3 528.5h0M133.3 516.8h0M158.9 501.8h0M113.3 553.5h0M150.8 496.3h0M112.8 554.1h0M172.2 483.9h0M128.3 523.9h0M139.7 508.9h0M162.3 497.5h0M136.3 513.0h0M129.6 534.4h0M116.7 542.3h0M115.0 545.0h0M113.0 553.9h0M155.9 505.2h0M126.6 537.6h0M141.4 521.2h0M172.8 476.6h0M164.8 482.8h0M120.8 544.2h0M111.8 555.3h0M158.5 502.1h0M128.9 523.1h0M111.1 556.1h0M130.5 533.3h0M109.9 554.2h0M168.5 479.9h0M146.8 500.7h0M167.7 490.2h0M114.6 551.8h0"/>
<path stroke="#ff7e00" d="M167.6 480.7h0M167.1 490.9h0M110.1 553.9h0M174.6 479.8h0M176.3 475.1h0M144.5 517.8h0M162.0 497.9h0M131.4 532.3h0M152.3 509.2h0M111.7 550.9h0M144.1 518.1h0M135.4 514.2h0M114.3 552.1h0M112.4 549.6h0M172.4 483.4h0M139.2 523.5h0M109.0 558.2h0M123.3 531.8h0M119.8 537.4h0M163.1 496.5h0M170.0 486.9h0M122.6 542.0h0M162.7 484.6h0M141.8 506.4h0M142.5 505.6h0M115.4 544.5h0M155.0 506.1h0M156.0 504.9h0M163.3 484.1h0M138.2 510.7h0M154.9 492.0h0M159.1 487.8h0M130.5 533.3h0M139.9 522.8h0M164.3 494.8h0M116.0 549.9h0M125.0 529.2h0M176.4 475.6h0M115.7 543.9h0M114.0 546.9h0"/>
<path stroke="#ff7a00" d="M159.0 487.9h0M134.6 515.3h0M109.6 557.5h0M174.7 479.6h0M160.6 486.4h0M147.3 500.3h0M136.1 526.9h0M119.9 537.2h0M131.1 519.9h0M174.9 479.2h0M164.0 483.6h0M137.8 511.2h0M144.4 517.8h0M109.5 557.7h0M114.8 545.5h0M166.3 481.8h0M111.9 555.0h0M126.0 527.5h0M173.7 481.3h0M114.4 546.3h0M160.4 486.6h0M108.4 558.4h0M117.0 548.6h0M135.3 514.4h0M169.0 488.2h0M168.9 479.7h0M120.4 536.5h0M127.6 536.4h0M136.1 513.4h0M119.5 538.0h0M115.2 544.8h0M166.2 492.0h0M175.3 475.4h0M110.3 556.7h0M125.4 538.8h0M112.0 550.5h0M117.1 548.5h0M118.2 540.0h0M130.4 533.4h0M148.6 513.1h0M117.0 548.6h0M157.8 489.2h0M138.7 524.0h0M173.9 480.9h0M176.3 475.7h0M122.4 533.3h0"/>
<path stroke="#ff7700" d="M167.5 490.2h0M111.2 555.7h0M169.6 487.3h0M145.0 517.1h0M146.2 501.5h0M170.3 478.6h0M144.0 504.0h0M118.8 546.3h0M175.7 475.4h0M129.3 534.5h0M123.1 541.2h0M118.3 539.8h0M151.9 509.4h0M162.3 497.4h0M161.9 485.4h0M171.8 484.1h0M164.3 494.6h0M141.9 506.4h0M111.5 555.3h0M156.9 490.1h0M141.0 507.5h0M114.1 552.2h0M166.4 491.8h0M172.3 477.2h0M175.2 478.4h0M113.3 553.2h0M126.1 527.6h0M148.7 513.0h0M150.2 511.3h0M128.8 523.3h0M142.3 506.0h0M122.9 541.4h0M175.7 475.5h0M110.1 556.8h0M156.2 504.6h0M128.9 523.3h0M133.0 530.3h0M173.4 476.5h0M176.0 476.6h0M120.7 536.1h0M176.1 476.5h0M111.1 555.7h0M164.1 494.9h0M112.5 554.1h0M144.8 503.2h0"/>
<path stroke="#ff7300" d="M127.8 536.1h0M132.3 531.1h0M143.3 518.8h0M129.3 522.6h0M121.3 535.3h0M167.4 481.1h0M174.3 476.0h0M174.0 480.6h0M159.4 487.7h0M117.2 548.3h0M169.7 487.0h0M133.7 516.5h0M115.7 544.1h0M172.3 477.3h0M175.6 475.6h0M123.8 540.3h0M135.7 527.2h0M142.7 519.5h0M111.1 552.3h0M164.5 483.4h0M124.6 539.5h0M156.2 504.5h0M170.3 478.8h0M159.0 488.2h0M111.8 551.0h0M171.6 484.3h0M170.2 478.9h0M111.1 552.3h0M123.7 540.4h0M138.2 524.3h0M166.7 491.3h0M122.8 541.4h0"/>
<path stroke="#ff6f00" d="M153.8 493.5h0M122.7 533.0h0M163.2 484.5h0M136.1 526.7h0M171.5 484.4h0M122.0 534.2h0M113.9 547.3h0M120.2 537.1h0M128.8 535.0h0M119.1 545.8h0M133.7 529.4h0M141.7 520.5h0M142.1 520.1h0M149.9 497.7h0M165.9 482.4h0M114.3 551.7h0M115.2 545.2h0M168.0 480.7h0M166.1 482.2h0M109.6 555.4h0M155.2 492.0h0M167.0 481.5h0M135.0 515.0h0M172.7 482.5h0M120.9 536.0h0M172.1 483.3h0M148.5 513.1h0M111.6 555.0h0"/>
<path stroke="#ff6c00" d="M114.0 552.0h0M165.9 492.2h0M173.9 480.5h0M162.0 497.5h0M174.9 476.0h0M136.0 513.7h0M111.1 555.4h0M123.4 540.6h0M159.6 487.6h0M159.3 488.0h0M172.7 482.5h0M124.4 530.5h0M173.7 480.8h0M129.5 522.6h0M147.2 514.4h0M135.1 515.0h0M132.9 530.2h0M135.4 514.6h0M115.1 545.4h0M127.2 536.6h0M124.0 531.1h0M146.4 515.3h0M122.5 541.7h0M130.9 532.5h0M170.8 478.6h0M127.7 536.0h0M112.3 554.1h0M135.3 514.7h0M168.0 489.2h0M155.4 492.0h0M139.0 510.1h0M153.8 493.6h0M139.1 509.9h0M154.5 492.9h0M152.3 495.2h0M142.5 506.0h0M174.8 476.1h0M111.7 551.5h0"/>
<path stroke="#ff6800" d="M165.7 482.6h0M157.2 503.2h0M158.8 501.4h0M166.9 490.6h0M129.6 522.4h0M138.2 511.1h0M158.2 489.1h0M109.3 557.0h0M121.3 535.4h0M136.3 526.3h0M125.1 538.7h0M118.0 546.9h0M145.5 502.6h0M160.0 487.4h0M173.2 481.6h0M111.2 555.3h0M154.2 506.6h0M109.5 556.9h0M125.1 538.7h0M126.7 537.1h0M112.8 549.5h0M154.1 506.7h0M109.5 556.9h0M145.0 503.2h0M155.1 505.5h0M124.9 538.9h0M152.3 495.2h0M115.5 544.8h0M175.0 478.2h0M166.8 490.8h0M146.3 501.7h0M170.5 485.6h0M117.9 547.0h0M146.3 515.4h0M118.2 546.6h0M173.4 481.2h0M128.5 524.2h0M122.3 534.0h0M126.5 527.2h0"/>
<path stroke="#ff6400" d="M169.5 479.8h0M152.4 508.6h0M154.7 506.0h0M172.5 482.5h0M170.0 479.4h0M144.0 504.4h0M136.4 513.4h0M155.8 491.7h0M167.4 481.5h0M115.1 550.4h0M155.2 492.2h0M174.8 476.3h0M122.3 534.1h0M122.3 534.0h0M163.2 484.8h0M161.3 498.2h0M145.0 516.7h0M157.3 503.0h0M159.2 488.3h0M174.7 476.3h0M127.9 525.2h0M114.4 546.7h0M147.6 513.8h0M111.0 553.0h0M173.2 481.4h0M113.6 552.3h0M129.0 523.4h0M141.9 506.9h0"/>
<path stroke="#ff6000" d="M141.8 520.1h0M162.2 485.6h0M139.6 509.6h0M167.9 481.1h0M167.1 481.7h0M153.9 493.7h0M129.6 533.8h0M112.1 554.0h0M144.4 504.0h0M147.4 500.7h0M114.5 546.7h0M121.5 542.5h0M174.4 479.2h0M114.6 551.0h0M111.7 551.7h0M113.6 552.2h0M114.2 551.4h0M172.7 482.0h0M110.7 555.5h0M158.6 501.5h0M127.8 525.4h0M126.5 537.1h0M163.0 496.0h0M122.5 541.4h0M171.6 478.3h0M114.3 551.3h0M162.6 496.4h0M132.1 519.1h0M144.1 504.4h0M109.9 556.1h0M123.4 532.4h0M144.7 516.9h0M119.7 544.6h0"/>
<path stroke="#ff5d00" d="M173.3 477.2h0M109.8 555.9h0M170.7 485.0h0M167.1 490.1h0M109.9 556.0h0M127.8 535.6h0M145.3 516.3h0M168.7 480.6h0M174.2 479.5h0M133.6 529.2h0M120.2 543.9h0M131.2 520.3h0M123.2 532.7h0M117.8 546.9h0M145.6 502.7h0M148.0 513.3h0M130.9 532.3h0M143.8 517.9h0M130.9 520.9h0M153.3 507.4h0M155.1 505.3h0M162.1 485.8h0M151.4 496.5h0M124.4 539.2h0M119.9 538.0h0M143.7 505.0h0M136.1 526.3h0M166.3 482.5h0M143.3 518.4h0M155.6 504.8h0M150.2 510.8h0M121.2 542.7h0M144.8 503.7h0M170.6 485.0h0M163.5 495.1h0M151.9 508.9h0M116.2 548.9h0M166.2 482.6h0M121.1 536.1h0M174.9 478.0h0M143.2 518.6h0M164.0 484.3h0"/>
<path stroke="#ff5900" d="M122.3 534.2h0M120.5 543.6h0M136.9 525.4h0M129.9 533.3h0M173.1 481.3h0M133.3 529.4h0M114.9 550.4h0M157.3 490.3h0M168.0 488.7h0M169.3 486.9h0M148.2 499.9h0M171.5 478.5h0M134.2 528.4h0M136.4 513.6h0M135.7 526.8h0M117.1 547.6h0M110.2 555.6h0M162.8 485.3h0M162.8 485.3h0M161.5 497.7h0M140.9 508.2h0M158.8 501.0h0M144.6 504.0h0M144.5 504.1h0M165.0 483.6h0M161.0 486.8h0M111.0 554.9h0M140.4 521.6h0M169.7 486.4h0M172.7 477.7h0M167.6 489.3h0M110.2 555.2h0M173.6 477.2h0M138.8 523.3h0M125.5 529.2h0M141.5 520.4h0M119.0 539.5h0M115.3 545.5h0M121.0 536.4h0M164.7 483.8h0M174.4 478.9h0M164.7 493.3h0M167.8 481.5h0M110.4 554.6h0M110.5 554.4h0M169.6 480.1h0M151.7 509.1h0"/>
<path stroke="#ff5500" d="M125.0 538.4h0M135.0 515.4h0M147.9 500.3h0M117.9 541.3h0M131.5 531.4h0M143.6 518.0h0M117.8 546.7h0M153.7 494.1h0M130.2 532.9h0M134.0 528.6h0M142.5 519.2h0M163.0 485.2h0M112.4 553.4h0M157.9 489.8h0M136.0 526.3h0M133.3 529.4h0M131.7 531.2h0M110.6 555.2h0M155.4 504.9h0M111.5 554.3h0M111.8 554.1h0M165.2 483.5h0M152.8 495.1h0M135.2 527.2h0M142.8 518.9h0M174.1 477.0h0M167.7 481.6h0M151.5 496.5h0M111.5 554.3h0M164.3 493.8h0M119.0 545.1h0M164.7 493.3h0M174.9 477.1h0M151.9 496.1h0M145.4 516.0h0M150.6 497.5h0M170.1 485.6h0M163.5 494.9h0M160.9 498.4h0"/>
<path stroke="#ff5200" d="M146.6 514.7h0M162.2 486.0h0M125.0 538.4h0M153.1 494.8h0M162.8 495.8h0M162.7 485.5h0M169.3 486.7h0M147.6 513.5h0M166.4 490.8h0M116.4 548.4h0M126.5 527.8h0M118.8 540.0h0M111.1 553.2h0M115.9 544.7h0M117.7 546.7h0M138.5 511.3h0M117.6 541.9h0M150.7 510.1h0M132.6 530.1h0M131.0 520.9h0M156.0 491.9h0M137.4 512.6h0M144.5 516.9h0M141.2 508.0h0M116.9 547.7h0M129.4 533.7h0M168.8 487.3h0M149.5 498.7h0M161.6 486.5h0M127.9 525.5h0M143.7 505.1h0"/>
<path stroke="#ff4e00" d="M119.6 538.7h0M155.8 492.1h0M166.9 490.1h0M112.9 552.5h0M163.5 494.8h0M127.8 535.3h0M166.7 482.5h0M145.0 503.7h0M172.8 477.9h0M149.8 511.1h0M156.8 503.1h0M126.6 536.6h0M172.3 478.2h0M136.7 525.4h0M112.5 553.0h0M112.0 551.6h0M167.1 482.2h0M159.1 488.8h0M111.2 554.4h0M137.3 524.7h0M125.5 537.7h0M161.2 486.9h0M129.7 533.3h0M122.2 541.2h0M171.7 478.7h0M157.8 502.0h0M126.4 536.7h0M123.3 532.8h0M162.9 485.5h0M133.0 518.2h0M131.3 531.5h0M148.3 512.7h0M167.3 482.1h0M137.3 524.7h0M134.1 516.8h0M141.5 520.2h0M134.5 527.8h0M158.7 489.3h0M170.1 485.4h0M113.6 548.6h0M110.9 554.1h0"/>
<path stroke="#ff4a00" d="M166.5 482.7h0M144.4 504.4h0M146.0 502.6h0M141.2 508.2h0M151.9 508.6h0M117.4 546.9h0M133.2 529.3h0M168.1 481.6h0M115.6 545.4h0M117.4 546.9h0M167.7 481.9h0M154.8 505.3h0M123.0 540.2h0M173.3 477.7h0M145.6 515.6h0M116.7 547.8h0M120.3 543.3h0M164.5 493.3h0M174.3 478.4h0M164.9 484.0h0M143.8 517.5h0M138.3 511.6h0M172.6 478.2h0M174.3 477.5h0M133.9 517.1h0M113.6 551.5h0"/>
<path stroke="#ff4700" d="M119.1 544.8h0M155.0 505.1h0M113.6 551.5h0M111.4 553.0h0M121.3 536.2h0M115.6 549.1h0M162.0 496.7h0M115.6 549.1h0M128.8 524.4h0M149.1 499.3h0M120.4 537.7h0M133.8 517.3h0M164.3 493.6h0M135.0 515.8h0M139.4 522.3h0M121.1 536.6h0M131.5 520.5h0M155.7 504.2h0M112.9 550.1h0M171.7 482.9h0M131.0 521.1h0M159.2 488.8h0M120.3 543.2h0M163.5 494.6h0M169.6 480.5h0M167.9 488.3h0M160.9 498.2h0M132.3 519.4h0M145.3 503.5h0M151.2 497.1h0M132.6 529.8h0M123.7 539.3h0M167.9 481.8h0M144.8 504.1h0M126.1 528.7h0M166.2 490.7h0M113.3 549.5h0"/>
<path stroke="#ff4300" d="M114.2 550.7h0M150.7 509.9h0M148.9 499.6h0M125.6 537.4h0M120.5 537.6h0M165.3 492.0h0M171.5 479.1h0M112.0 553.2h0M153.4 494.8h0M133.2 529.2h0M173.8 479.4h0M142.1 507.2h0M125.3 537.6h0M172.9 478.1h0M116.1 544.6h0M168.4 481.5h0M134.6 527.5h0M159.3 488.8h0M135.7 526.3h0M130.7 532.0h0M137.8 524.0h0M132.6 519.0h0M155.0 505.0h0M112.2 551.7h0M114.1 550.8h0M123.5 532.8h0M157.6 490.5h0M156.3 503.4h0M139.7 510.1h0M139.2 522.4h0M125.7 529.3h0M152.7 507.6h0M154.7 505.3h0M116.1 544.6h0M135.7 526.3h0M139.5 522.1h0M116.3 548.1h0M160.3 487.9h0M171.3 483.3h0M172.0 478.8h0M172.9 478.2h0"/>
<path stroke="#ff3f00" d="M122.2 540.9h0M135.4 515.4h0M123.2 533.3h0M128.7 524.7h0M135.6 515.1h0M125.3 530.0h0M128.3 534.5h0M138.9 522.8h0M128.8 534.0h0M128.0 525.7h0M150.1 498.3h0M166.8 489.7h0M137.8 512.4h0M136.2 525.7h0M114.3 550.4h0M136.4 514.2h0M156.1 492.2h0M134.7 516.3h0M161.6 497.1h0M172.0 478.9h0M168.6 487.2h0M160.2 498.9h0M140.4 509.4h0M156.4 491.9h0M158.2 501.2h0M139.3 522.3h0M142.9 518.4h0M167.7 482.2h0M120.3 537.9h0M112.3 551.7h0M173.0 480.6h0M141.9 507.6h0M119.2 539.8h0M122.7 534.1h0M121.8 535.7h0M120.9 537.1h0M142.8 518.4h0M167.3 489.0h0M161.2 497.6h0M144.7 516.4h0M167.2 489.1h0M170.9 483.7h0M160.3 498.7h0M170.7 484.1h0M163.1 495.0h0M135.7 515.0h0M120.4 537.8h0M162.5 495.7h0"/>
<path stroke="#ff3b00" d="M133.4 528.8h0M145.6 503.3h0M167.9 482.0h0M123.6 539.2h0M159.1 500.1h0M127.4 535.3h0M164.8 484.4h0M171.6 482.7h0M123.8 539.1h0M119.4 544.0h0M126.1 536.7h0M164.0 493.7h0M142.8 506.6h0M112.3 551.8h0M113.7 551.0h0M171.3 483.0h0M116.5 547.6h0M152.1 508.1h0M146.1 514.7h0M114.0 550.6h0M154.0 494.4h0M123.5 539.3h0M172.9 478.4h0M168.1 487.7h0M118.2 541.4h0M154.1 505.8h0M145.0 516.0h0M151.2 509.2h0M162.9 495.1h0M169.9 485.2h0M148.0 512.7h0M163.7 485.3h0M159.2 489.1h0M173.1 480.1h0M168.8 486.7h0M137.6 512.8h0"/>
<path stroke="#ff3800" d="M140.8 520.6h0M148.1 512.6h0M115.6 545.7h0M160.2 488.2h0M140.5 520.8h0M143.0 506.4h0M145.6 515.3h0M113.2 550.0h0M144.5 516.5h0M149.0 499.7h0M151.0 509.3h0M118.4 541.1h0M136.7 525.1h0M167.5 488.4h0M173.1 480.1h0M158.3 501.0h0M126.8 535.8h0M128.6 534.0h0M154.9 493.5h0M141.4 508.2h0M151.3 497.3h0M169.2 486.0h0M150.0 498.6h0M118.5 541.1h0M152.7 495.8h0M153.2 495.3h0M112.6 552.0h0M160.7 498.1h0M166.7 489.7h0M134.0 517.4h0M120.3 542.8h0M129.6 523.5h0M165.6 491.3h0M113.6 551.0h0M120.1 543.1h0M113.3 551.3h0M148.7 511.8h0M142.0 507.7h0"/>
<path stroke="#ff3400" d="M113.9 548.8h0M117.1 543.3h0M168.5 487.1h0M113.4 549.7h0M116.0 548.1h0M145.6 515.3h0M113.1 550.3h0M167.3 482.7h0M113.6 550.9h0M154.6 493.8h0M131.0 531.3h0M123.6 532.9h0M124.0 532.2h0M162.7 486.2h0M131.5 530.8h0M127.6 534.9h0M121.1 541.9h0M157.4 502.0h0M133.2 528.9h0M113.0 550.5h0M145.3 503.9h0M147.3 513.4h0M154.1 505.8h0M139.1 522.3h0M135.8 515.1h0M162.0 496.2h0M133.1 529.0h0M126.9 535.7h0M167.8 482.3h0M171.0 479.9h0M170.8 483.6h0M113.2 551.3h0M148.1 512.4h0M127.2 527.3h0M132.8 529.3h0M162.2 486.6h0M154.9 504.8h0M131.2 521.3h0M148.4 500.5h0"/>
<path stroke="#ff3000" d="M112.9 551.4h0M113.0 551.4h0M148.3 500.6h0M152.9 495.7h0M169.4 481.1h0M112.9 551.3h0M140.3 509.7h0M160.6 488.0h0M125.9 529.4h0M141.3 508.5h0M133.1 528.9h0M113.3 550.2h0M171.2 482.9h0M135.8 525.8h0M131.1 521.5h0M137.4 524.1h0M114.6 549.6h0M147.4 513.1h0M171.4 482.6h0M153.6 506.2h0M118.4 544.9h0M173.1 478.8h0M113.1 551.1h0M139.6 510.6h0M158.8 489.7h0M124.3 532.0h0M123.7 538.8h0M137.5 524.0h0M166.0 483.8h0M114.1 550.2h0M166.6 483.4h0M148.8 500.1h0"/>
<path stroke="#ff2d00" d="M115.8 548.2h0M121.4 536.5h0M150.3 509.8h0M114.0 548.9h0M140.1 521.1h0M114.3 548.2h0M127.5 526.8h0M118.8 544.5h0M113.2 550.7h0M140.5 520.7h0M151.7 497.0h0M152.2 507.7h0M149.0 511.3h0M141.6 519.5h0M122.9 534.2h0M131.3 530.9h0M124.3 538.2h0M128.6 533.7h0M116.0 545.3h0M162.7 486.3h0M162.6 495.2h0M160.4 488.3h0M172.5 480.7h0M161.5 487.3h0M172.9 479.0h0M171.8 479.5h0M154.3 505.4h0M153.2 495.5h0M148.8 511.6h0M125.8 529.6h0M122.0 540.6h0M117.7 542.6h0M162.5 486.5h0M127.2 527.3h0M158.4 490.2h0M171.3 482.6h0M144.2 505.3h0M171.1 483.0h0M130.7 531.5h0M117.5 546.0h0M113.9 550.2h0M131.4 530.7h0M160.6 488.2h0M115.7 548.1h0M118.0 542.1h0M146.9 513.6h0M114.3 548.3h0M162.4 495.4h0"/>
<path stroke="#ff2900" d="M162.3 486.7h0M136.6 514.3h0M165.0 484.7h0M151.1 508.9h0M114.7 549.3h0M164.3 492.7h0M115.3 548.6h0M127.7 526.7h0M129.6 532.6h0M165.9 490.4h0M115.6 546.1h0M133.6 518.2h0M136.2 525.3h0M166.2 490.1h0M165.8 490.6h0M166.9 488.9h0M172.9 479.5h0M164.9 484.7h0M147.1 513.3h0M125.0 531.0h0M171.3 480.0h0M168.0 487.3h0M120.9 537.5h0M157.4 501.7h0M169.1 481.6h0M158.6 500.3h0M164.0 493.2h0M164.0 485.5h0M166.2 490.0h0M114.0 549.9h0"/>
<path stroke="#ff2500" d="M117.6 542.9h0M143.6 517.2h0M113.9 549.9h0M164.7 484.9h0M124.4 532.0h0M145.2 515.5h0M168.9 486.1h0M169.9 484.5h0M114.3 549.5h0M131.1 521.6h0M140.6 520.4h0M163.1 486.2h0M132.5 519.7h0M138.7 522.4h0M133.3 528.4h0M163.0 494.5h0M136.2 525.2h0M168.1 482.5h0M114.8 548.9h0M126.0 529.4h0M151.7 497.2h0M153.4 506.2h0M118.6 541.3h0M142.7 507.2h0M169.0 481.8h0M161.2 487.8h0M147.3 513.0h0M155.6 493.2h0"/>
<path stroke="#ff2200" d="M119.7 539.6h0M156.2 502.9h0M134.7 526.8h0M170.8 480.5h0M117.8 545.3h0M119.1 540.6h0M141.5 508.5h0M126.1 529.4h0M130.5 531.5h0M131.3 530.7h0M169.5 481.5h0M140.9 509.3h0M149.4 510.6h0M124.0 538.1h0M133.4 518.6h0M114.4 549.1h0M151.1 508.8h0M114.4 548.7h0M161.9 487.2h0M172.3 480.5h0M118.3 541.9h0M167.8 487.4h0M135.1 516.5h0M167.1 488.4h0M124.6 531.8h0M167.8 487.4h0M128.0 534.1h0M130.9 531.0h0M148.2 512.0h0M117.3 543.6h0M116.7 546.6h0M119.2 540.5h0M172.2 479.9h0M138.5 522.6h0M134.2 517.6h0"/>
<path stroke="#ff1e00" d="M145.4 504.1h0M167.1 483.4h0M116.3 547.1h0M114.6 548.4h0M122.3 535.5h0M125.4 530.5h0M159.0 499.7h0M145.4 515.1h0M170.0 481.2h0M115.9 545.9h0M170.0 484.1h0M144.2 505.5h0M146.0 503.5h0M160.6 497.6h0M138.5 512.2h0M141.1 509.1h0M156.6 502.5h0M146.1 503.4h0M139.8 521.1h0M165.7 490.5h0M149.0 500.2h0M149.7 510.2h0M154.3 494.7h0M151.4 508.3h0M161.1 496.9h0M125.3 530.8h0M119.5 540.0h0M142.9 517.7h0M124.9 537.1h0M153.6 505.8h0M122.2 540.0h0"/>
<path stroke="#ff1a00" d="M144.1 505.7h0M143.6 517.0h0M162.7 486.7h0M121.8 540.5h0M159.7 498.7h0M118.6 544.2h0M136.0 525.2h0M115.1 548.2h0M147.4 512.8h0M121.6 540.6h0M137.5 523.6h0M148.4 500.9h0M150.6 498.5h0M130.5 522.7h0M172.0 480.3h0M168.6 486.1h0M131.4 521.4h0M118.4 544.4h0M172.0 480.3h0M132.5 520.0h0M154.3 494.7h0M144.5 516.0h0M171.8 481.1h0M136.6 514.6h0M171.0 480.6h0M170.7 480.8h0M116.6 546.6h0M123.3 538.7h0M169.5 481.7h0M164.5 492.1h0M142.9 517.6h0M165.4 484.8h0M121.9 540.2h0M138.6 522.4h0M143.6 516.9h0M117.3 543.7h0M115.9 546.2h0M154.2 494.9h0M171.3 480.5h0M128.7 525.4h0M126.8 535.1h0M147.6 501.8h0"/>
<path stroke="#ff1600" d="M143.8 506.1h0M115.5 547.0h0M155.1 493.9h0M137.4 513.7h0M118.1 544.6h0M124.0 532.9h0M116.9 544.5h0M136.5 514.8h0M126.8 535.1h0M116.1 545.9h0M140.0 510.6h0M136.1 515.4h0M167.2 488.1h0M125.5 530.5h0M127.0 534.8h0M121.3 540.9h0M158.1 500.5h0M126.9 535.0h0M170.9 482.5h0M125.0 536.9h0M148.4 501.0h0M170.5 481.0h0M171.3 480.6h0M115.6 547.4h0M135.1 516.7h0M128.5 533.3h0M164.2 485.7h0M123.7 533.5h0M134.2 517.8h0M124.2 532.7h0M115.6 547.1h0M159.3 489.8h0M147.1 502.5h0M118.2 542.4h0M132.1 529.5h0M154.3 504.9h0M146.7 502.9h0M139.7 511.0h0M143.9 516.5h0M165.8 490.1h0"/>
<path stroke="#ff1300" d="M136.7 514.6h0M157.6 491.5h0M116.1 546.8h0M171.6 480.7h0M135.0 516.8h0M126.6 535.2h0M138.4 512.6h0M168.5 482.5h0M140.5 510.0h0M149.1 510.7h0M165.5 484.8h0M148.2 511.8h0M156.8 492.3h0M117.3 543.9h0M126.9 528.3h0M169.7 484.3h0M131.3 530.4h0M152.9 506.4h0M116.0 546.8h0M129.4 532.3h0M125.7 530.3h0M150.1 499.3h0M148.6 500.9h0M140.2 520.5h0M153.5 505.7h0M165.5 484.8h0M150.9 508.7h0M116.8 544.8h0M160.0 489.2h0M137.5 513.7h0M140.4 510.2h0M171.0 481.0h0M156.3 492.9h0M142.8 507.3h0M117.0 544.5h0M165.5 490.5h0M164.5 492.0h0M134.7 526.4h0M171.3 480.9h0M147.1 512.9h0"/>
<path stroke="#fa0f00" d="M141.9 518.7h0M167.7 487.1h0M122.0 536.4h0M116.7 546.0h0M158.4 490.8h0M150.2 499.2h0M125.5 536.2h0M116.3 546.0h0M164.9 491.2h0M142.4 507.9h0M132.8 519.8h0M150.3 509.3h0M170.0 483.6h0M118.1 544.5h0M119.2 543.1h0M119.0 543.4h0M150.2 509.4h0M165.9 489.8h0M147.7 502.0h0M170.4 483.1h0M159.0 490.3h0M165.9 484.7h0M139.6 511.2h0M162.8 487.0h0M144.6 505.4h0M156.4 502.4h0M124.1 532.9h0M152.6 496.7h0M116.7 545.8h0M143.9 516.4h0M134.6 526.4h0M165.0 491.1h0"/>
<path stroke="#f60b00" d="M134.0 527.1h0M152.3 497.1h0M129.3 524.8h0M118.3 544.1h0M162.4 487.3h0M117.6 544.9h0M137.3 514.0h0M156.6 502.1h0M137.4 523.5h0M130.0 523.8h0M149.6 510.0h0M140.2 510.5h0M157.2 501.3h0M136.9 523.9h0M141.8 508.6h0M150.5 499.0h0M116.9 545.5h0M162.0 487.6h0M117.0 544.9h0M169.1 484.9h0M116.9 545.1h0M171.0 481.5h0M167.9 486.7h0M129.6 531.9h0M125.3 536.3h0M170.1 483.4h0M120.1 541.9h0M161.5 495.9h0M166.4 488.9h0M161.4 496.1h0"/>
<path stroke="#f10800" d="M120.3 539.3h0M142.4 508.0h0M156.4 502.2h0M165.8 489.8h0M126.2 535.3h0M148.9 500.8h0M134.4 517.8h0M168.0 486.5h0M117.8 543.4h0M170.2 481.8h0M166.0 484.7h0M164.2 492.0h0M164.2 492.1h0M151.5 507.7h0M155.6 493.7h0M124.4 537.1h0M170.7 481.9h0M128.4 533.1h0M133.8 527.3h0M119.8 540.0h0M150.8 498.8h0M141.6 509.0h0M158.8 499.3h0M127.3 534.2h0M163.2 486.8h0M150.2 509.2h0M162.5 494.5h0M162.8 487.1h0M119.3 540.9h0M152.2 497.3h0M170.4 481.8h0M164.9 491.0h0M162.9 487.1h0M137.9 513.5h0M163.5 493.1h0M124.4 532.6h0"/>
<path stroke="#ed0400" d="M124.5 532.6h0M124.5 532.5h0M160.0 497.8h0M142.6 507.8h0M165.5 490.0h0M131.8 521.2h0M131.6 521.6h0M151.6 507.7h0M124.9 536.6h0M158.9 490.5h0M159.6 489.8h0M169.8 482.1h0M134.8 526.1h0M123.1 538.4h0M167.6 483.6h0M168.3 483.1h0M161.0 496.5h0M167.9 483.4h0M168.9 485.1h0M124.0 537.4h0M168.3 485.8h0M141.0 519.3h0M149.9 499.8h0M144.6 515.4h0M158.9 499.1h0M151.5 507.7h0M159.1 499.0h0M162.6 487.4h0M148.3 501.5h0M143.9 516.2h0M162.4 487.5h0M163.5 492.9h0M121.0 538.2h0M131.5 529.7h0M118.4 543.5h0M120.5 541.2h0M165.2 490.4h0M163.4 486.7h0"/>
<path stroke="#e80000" d="M117.9 543.9h0M150.4 508.9h0M124.1 533.3h0M124.2 537.1h0M153.4 496.1h0M143.2 517.0h0M165.1 490.5h0M165.2 485.4h0M167.8 486.6h0M145.3 514.6h0M165.0 490.8h0M151.5 507.7h0M145.4 514.5h0M129.8 531.5h0M123.3 538.1h0M133.8 527.2h0M162.9 487.2h0M149.5 509.9h0M123.5 537.9h0M169.0 484.7h0M119.6 540.7h0M120.3 539.4h0M120.4 539.3h0M126.5 529.4h0M131.3 522.1h0M132.5 528.6h0M167.9 486.3h0M166.3 488.8h0M155.1 503.5h0M155.1 494.4h0M118.5 543.3h0M142.7 507.8h0"/>
<path stroke="#e40000" d="M121.2 540.4h0M120.7 540.9h0M118.4 543.1h0M164.9 490.8h0M158.4 491.1h0M129.1 525.4h0M155.8 502.7h0M159.5 498.3h0M132.2 520.9h0M142.8 517.2h0M169.8 483.3h0M128.2 526.7h0M139.2 521.2h0M151.7 498.0h0M170.0 482.8h0M152.1 497.6h0M162.4 494.3h0M137.3 514.4h0M127.5 527.9h0M159.2 498.6h0M139.5 511.7h0M125.5 535.7h0M161.9 495.0h0M139.4 511.8h0M159.5 498.2h0M167.6 483.9h0M134.6 526.2h0M161.6 495.4h0"/>
<path stroke="#df0000" d="M125.3 535.9h0M128.7 526.0h0M160.7 489.1h0M160.2 497.3h0M168.3 483.4h0M139.7 520.6h0M119.3 542.2h0M135.3 516.9h0M129.5 531.7h0M136.3 515.6h0M122.1 536.6h0M169.5 483.6h0M142.5 517.5h0M158.6 499.2h0M165.0 490.5h0M146.2 504.0h0M124.4 532.9h0M121.0 538.6h0M120.6 540.9h0M163.1 493.2h0M167.8 483.8h0M149.7 509.5h0M121.8 537.3h0M163.6 492.6h0M152.5 506.3h0M119.8 541.6h0M128.4 526.5h0M161.9 488.1h0M166.2 488.7h0M119.1 542.0h0M152.1 497.6h0M169.5 482.9h0M138.7 521.5h0"/>
<path stroke="#da0000" d="M136.5 515.4h0M154.9 503.6h0M122.7 535.8h0M131.4 522.2h0M142.6 508.1h0M147.9 511.5h0M121.9 539.3h0M147.4 512.1h0M153.5 505.1h0M119.4 541.7h0M137.9 522.4h0M143.7 506.9h0M142.0 508.9h0M157.6 492.1h0M152.1 497.7h0M130.1 524.0h0M137.8 522.5h0M144.4 515.3h0M162.6 487.7h0M145.6 504.8h0M124.1 533.5h0M145.2 514.5h0M132.2 528.7h0M138.6 521.7h0M122.0 539.1h0M158.3 491.5h0M167.6 484.1h0M165.3 485.7h0M152.0 506.9h0M148.7 501.4h0M119.8 540.9h0M150.5 508.6h0M149.9 500.1h0M140.7 519.4h0"/>
<path stroke="#d60000" d="M134.3 526.3h0M161.7 488.4h0M142.5 517.4h0M124.7 532.5h0M153.9 495.9h0M166.7 484.7h0M122.8 538.2h0M126.9 534.1h0M143.9 515.8h0M127.3 533.7h0M163.7 492.3h0M160.3 496.9h0M140.9 510.2h0M169.0 484.0h0M164.7 486.2h0M125.8 530.8h0M161.9 488.3h0M140.0 511.2h0M167.4 484.3h0M153.0 505.7h0M139.3 512.1h0M167.5 486.5h0M168.2 485.5h0M160.5 489.5h0M166.1 488.7h0M120.3 540.1h0M132.3 528.4h0M168.1 483.9h0M139.7 520.3h0M124.8 532.4h0"/>
<path stroke="#d10000" d="M150.9 508.0h0M140.7 510.4h0M141.7 518.2h0M124.8 536.1h0M123.9 534.0h0M163.9 491.9h0M150.8 508.1h0M162.1 494.4h0M155.4 502.8h0M120.2 540.6h0M147.2 512.1h0M128.4 526.7h0M120.9 540.1h0M120.3 540.2h0M167.5 484.3h0M166.1 488.5h0M125.7 531.1h0M127.6 528.1h0M156.0 502.1h0M128.2 532.7h0M120.6 539.7h0M147.2 512.1h0M136.7 523.6h0M130.5 523.6h0M167.8 484.2h0M128.0 527.4h0M166.0 485.3h0"/>
<path stroke="#cd0000" d="M121.3 539.6h0M165.8 489.0h0M120.6 540.2h0M164.5 490.9h0M127.0 533.8h0M158.7 498.8h0M131.8 528.9h0M130.9 529.9h0M144.5 515.0h0M160.6 496.4h0M148.9 501.4h0M146.9 503.5h0M168.2 484.1h0M157.3 492.7h0M122.4 536.5h0M129.0 531.8h0M127.0 533.8h0M164.7 486.3h0M163.2 487.5h0M155.1 503.1h0M124.2 536.6h0M165.8 485.6h0M136.8 515.3h0M131.3 522.6h0M128.4 532.4h0M142.3 508.7h0M133.1 527.4h0"/>
<path stroke="#c80000" d="M163.8 487.0h0M131.5 529.2h0M123.3 535.2h0M163.5 487.3h0M149.5 500.8h0M139.4 520.5h0M124.7 532.8h0M147.9 502.4h0M166.7 485.0h0M144.2 515.3h0M121.3 538.6h0M147.8 502.6h0M161.2 495.4h0M165.6 489.1h0M121.9 538.8h0M167.2 486.6h0M148.2 502.2h0M151.4 507.2h0M168.2 484.3h0M140.4 519.4h0M149.3 509.6h0M144.8 514.6h0M156.2 493.9h0M149.3 509.6h0M156.5 493.5h0"/>
<path stroke="#c40000" d="M164.8 490.3h0M163.6 492.1h0M128.2 532.5h0M122.7 536.3h0M164.2 491.2h0M136.2 516.2h0M150.6 499.6h0M121.3 539.1h0M159.4 497.8h0M141.0 518.7h0M121.3 539.1h0M160.6 489.7h0M140.0 519.8h0M129.3 525.7h0M148.9 501.5h0M139.5 512.1h0M154.6 503.5h0M145.3 514.0h0M167.5 486.1h0M164.5 486.6h0M166.3 487.9h0M167.7 484.6h0M159.3 497.9h0M130.0 524.5h0M161.9 488.6h0M127.0 533.7h0M130.8 523.4h0M158.0 499.5h0M144.4 506.5h0M129.5 531.1h0M148.0 511.0h0M168.1 484.8h0M161.2 495.4h0M141.6 509.7h0M143.5 507.5h0M153.4 496.8h0M146.6 504.0h0M131.4 522.5h0M140.5 519.2h0M135.1 517.6h0M157.0 493.1h0M155.9 501.9h0"/>
<path stroke="#bf0000" d="M134.8 518.0h0M127.7 528.1h0M142.9 516.6h0M137.8 514.3h0M122.3 537.1h0M129.7 530.9h0M141.1 510.3h0M141.0 518.7h0M167.7 485.4h0M149.0 501.4h0M161.4 495.1h0M167.1 485.0h0M163.7 487.4h0M135.6 517.0h0M150.2 500.2h0M136.5 523.4h0M167.6 485.6h0M155.3 494.9h0M166.0 488.2h0M122.0 538.2h0M150.8 507.7h0"/>
<path stroke="#bb0000" d="M162.5 488.2h0M146.8 512.2h0M122.1 537.7h0M149.6 500.8h0M148.3 510.5h0M162.1 494.1h0M159.2 497.9h0M124.4 533.5h0M137.7 514.4h0M122.1 537.9h0M122.2 537.6h0M138.3 513.7h0M122.4 537.0h0M129.2 526.0h0M162.5 488.3h0M123.2 535.6h0M123.0 537.4h0M147.5 503.1h0M166.2 487.9h0M151.9 506.4h0M129.4 525.7h0M159.7 490.6h0M141.1 518.4h0M124.3 536.1h0M124.6 535.8h0M129.2 531.2h0M125.3 532.1h0M157.3 492.9h0M152.9 497.4h0M164.4 490.6h0M165.2 486.4h0M148.6 502.0h0M155.0 502.8h0M131.4 522.8h0M129.3 525.8h0M161.7 489.0h0M125.4 532.0h0"/>
<path stroke="#b60000" d="M133.5 526.6h0M131.4 529.0h0M165.0 489.6h0M160.4 496.3h0M167.4 485.6h0M144.7 506.3h0M122.8 536.5h0M142.5 508.9h0M155.0 495.3h0M144.6 514.5h0M166.1 485.8h0M154.8 495.5h0M150.6 499.9h0M142.4 509.0h0M139.7 519.9h0M143.2 508.0h0M157.8 492.5h0M166.7 485.5h0M160.9 495.5h0M167.1 485.3h0M135.9 516.8h0M122.5 537.5h0M166.7 486.9h0M139.2 520.4h0M155.2 502.5h0M131.3 523.0h0M162.0 488.8h0M138.3 521.4h0M142.5 508.8h0M136.4 523.4h0"/>
<path stroke="#b20000" d="M162.2 493.8h0M130.4 529.9h0M144.4 506.7h0M126.6 530.0h0M162.6 488.3h0M158.8 491.6h0M139.2 512.8h0M144.3 506.8h0M138.9 520.7h0M143.6 515.5h0M159.0 491.4h0M143.4 515.8h0M152.3 498.1h0M150.3 508.1h0M126.5 530.2h0M167.0 486.2h0M133.3 526.8h0M166.6 487.0h0M157.4 499.8h0M154.4 503.4h0M127.6 532.7h0M132.9 520.8h0M139.5 512.5h0M129.8 525.2h0M144.0 515.1h0M131.4 528.8h0"/>
<path stroke="#ad0000" d="M134.4 518.8h0M141.3 518.0h0M143.9 507.3h0M125.8 534.5h0M123.1 536.8h0M159.7 490.8h0M136.0 516.8h0M166.9 486.0h0M129.5 530.8h0M141.1 510.6h0M143.7 515.4h0M128.5 527.1h0M136.6 523.0h0M164.8 486.9h0M144.0 507.3h0M159.3 491.2h0M134.8 518.3h0M131.7 528.4h0M162.3 493.4h0M139.0 520.4h0M127.5 532.7h0"/>
<path stroke="#a80000" d="M149.4 501.3h0M145.1 506.1h0M150.0 500.7h0M128.3 531.9h0M149.9 500.8h0M137.2 522.3h0M157.1 493.4h0M131.6 528.5h0M132.6 527.4h0M125.4 534.7h0M146.9 511.8h0M142.9 516.1h0M160.5 495.8h0M142.2 509.3h0M140.1 511.9h0M144.3 507.0h0M164.1 487.4h0M157.7 499.3h0M160.8 490.0h0M142.0 517.1h0M162.7 492.7h0M150.3 507.9h0M141.9 509.7h0M131.0 523.5h0M156.6 494.0h0M123.5 536.2h0M166.6 486.4h0M166.5 486.7h0M148.0 510.5h0M138.6 520.7h0M151.1 499.6h0M150.8 499.9h0"/>
<path stroke="#a40000" d="M161.1 495.0h0M150.7 500.0h0M146.1 505.0h0M128.1 532.0h0M139.9 519.4h0M154.8 495.8h0M146.6 504.4h0M137.0 515.6h0M132.7 521.2h0M133.7 526.0h0M150.4 507.8h0M161.0 489.8h0M152.4 505.4h0M124.1 534.6h0M158.4 498.5h0M165.9 486.4h0M132.2 527.7h0M150.6 507.5h0M123.9 535.1h0M127.4 529.0h0M144.6 506.7h0M146.2 504.9h0M165.0 489.2h0M133.8 519.8h0M166.1 487.3h0M150.5 507.6h0M129.5 525.9h0M154.9 495.7h0M152.5 498.2h0M146.4 504.7h0"/>
<path stroke="#9f0000" d="M127.7 532.3h0M164.3 490.2h0M149.9 508.3h0M150.3 500.5h0M129.6 525.7h0M165.7 486.6h0M144.2 514.6h0M127.7 532.3h0M137.1 515.6h0M131.8 522.5h0M127.3 529.3h0M165.0 489.2h0M135.0 524.6h0M130.3 524.6h0M136.3 516.6h0M156.5 494.2h0M159.2 497.3h0M129.1 530.9h0M164.1 487.6h0M147.1 511.3h0M158.2 492.5h0M157.3 499.6h0M141.5 510.4h0M165.4 486.8h0M165.8 487.7h0M162.7 492.5h0M136.2 516.8h0M139.2 513.1h0M148.9 502.1h0M156.4 500.7h0M129.0 526.7h0M130.6 529.3h0M146.3 504.9h0"/>
<path stroke="#9b0000" d="M163.6 488.0h0M142.6 509.1h0M144.8 506.6h0M138.9 513.5h0M124.5 535.1h0M148.9 509.3h0M140.3 511.8h0M152.7 505.0h0M150.3 507.7h0M138.3 520.9h0M124.1 535.3h0M165.8 487.7h0M140.8 518.2h0M124.8 534.9h0M132.5 527.2h0M157.6 499.2h0M140.7 518.3h0M159.1 497.4h0M161.5 494.2h0M165.6 486.9h0M157.2 493.5h0M160.9 495.0h0M126.1 533.7h0M151.0 506.9h0M143.3 515.5h0M165.9 487.0h0M134.1 525.4h0"/>
<path stroke="#960000" d="M133.6 520.2h0M134.9 518.6h0M161.5 494.1h0M138.6 513.9h0M147.1 504.1h0M142.5 509.4h0M152.4 505.2h0M151.0 506.8h0M149.6 508.4h0M161.3 494.4h0M160.4 490.6h0M161.5 489.7h0M159.8 496.3h0M142.2 516.6h0M138.8 513.7h0M153.0 504.5h0M134.5 524.9h0"/>
<path stroke="#920000" d="M125.5 534.2h0M153.1 497.8h0M164.7 489.4h0M146.7 504.6h0M147.9 503.3h0M160.6 495.3h0M161.9 489.4h0M131.4 523.3h0M135.3 524.0h0M131.3 523.5h0M126.3 531.3h0M136.8 516.1h0M164.3 489.9h0M136.9 522.2h0M141.7 517.1h0M139.9 519.0h0M155.3 501.8h0M142.4 516.4h0M128.6 527.5h0M135.0 524.3h0M124.7 534.5h0M130.1 529.6h0M155.2 501.9h0M160.3 495.6h0M155.6 495.3h0M151.4 506.3h0M160.7 490.5h0M153.8 503.5h0M162.7 488.9h0"/>
<path stroke="#8d0000" d="M146.3 512.0h0M146.3 512.0h0M159.8 496.3h0M125.0 533.6h0M125.0 533.6h0M144.5 514.0h0M154.0 497.0h0M125.2 534.2h0M143.9 514.7h0M132.5 521.8h0M164.3 489.8h0M157.5 493.4h0M148.7 509.3h0M128.1 531.5h0M165.3 487.5h0M127.8 528.8h0M125.2 534.2h0M141.7 510.4h0M135.8 523.4h0M147.6 503.7h0M133.1 521.0h0M164.0 488.1h0M127.4 532.2h0M143.8 507.9h0M129.6 526.0h0M144.1 507.7h0"/>
<path stroke="#890000" d="M162.0 493.2h0M162.7 492.2h0M159.7 491.4h0M162.7 489.0h0M149.0 508.9h0M134.3 519.5h0M144.6 513.8h0M144.9 513.5h0M127.7 531.9h0M132.4 527.0h0M154.4 502.6h0M134.0 519.9h0M153.8 497.3h0M149.2 508.6h0M129.3 530.3h0M140.0 518.7h0M154.6 502.4h0M141.5 517.1h0M142.4 516.2h0M132.9 521.4h0M164.6 487.9h0M127.2 532.3h0M156.9 499.7h0"/>
<path stroke="#840000" d="M155.6 501.2h0M164.6 487.9h0M150.6 507.0h0M163.8 490.4h0M126.7 530.8h0M164.8 488.7h0M126.0 531.9h0M152.6 504.7h0M137.3 515.8h0M143.4 508.5h0M153.4 497.8h0M132.4 522.1h0M148.5 509.4h0M158.2 498.1h0M128.6 527.7h0M162.1 492.9h0M151.3 499.9h0M164.7 488.7h0M144.1 514.3h0M162.9 491.7h0M140.4 512.1h0M149.8 507.8h0M164.8 488.1h0M152.4 498.8h0M147.5 504.0h0M154.9 502.0h0"/>
<path stroke="#800000" d="M161.4 493.8h0M138.3 520.5h0M152.9 498.3h0M162.1 489.6h0M145.5 512.7h0M147.0 504.5h0M154.5 496.7h0M133.3 521.0h0M155.9 495.3h0M138.0 520.8h0M152.5 504.7h0M163.0 489.0h0M129.2 530.2h0M127.3 529.9h0M133.2 526.0h0M149.3 508.4h0M126.3 531.7h0M151.0 500.3h0M126.7 532.6h0M146.0 512.1h0M137.2 521.6h0M159.9 491.5h0M158.7 492.5h0M144.8 513.4h0M150.7 506.7h0M159.4 491.9h0M137.5 521.2h0M144.9 513.2h0M161.1 494.1h0M125.8 532.7h0M140.6 517.9h0M161.8 489.9h0M139.9 518.6h0M133.1 521.4h0M138.9 519.7h0M130.3 525.2h0M161.3 493.8h0M131.1 524.2h0M149.0 502.5h0M153.7 503.2h0M133.4 521.0h0M152.4 498.9h0M154.5 496.7h0M152.6 504.5h0M128.1 531.1h0M131.6 527.6h0M151.6 499.7h0M157.3 494.0h0M162.7 491.9h0M163.5 488.8h0M143.5 508.6h0M156.8 499.5h0M135.9 517.8h0M152.0 499.4h0M144.9 507.0h0M143.5 508.6h0M145.1 512.9h0M163.3 490.8h0M154.9 496.4h0M158.6 492.7h0M162.0 492.8h0M143.7 508.3h0M138.9 514.0h0M133.6 525.4h0M164.0 489.7h0M164.3 488.8h0M157.6 493.8h0M130.8 524.7h0M133.1 525.9h0M153.8 503.0h0M126.5 531.5h0M152.7 498.7h0M131.7 523.3h0M126.7 532.3h0M163.3 489.0h0M129.9 526.0h0M149.6 501.9h0M153.4 503.5h0M161.0 494.1h0M146.8 511.0h0M164.1 488.7h0M163.0 489.3h0M164.0 489.5h0M141.5 516.8h0M149.7 507.7h0M164.1 489.0h0M155.4 501.0h0M126.8 531.0h0M156.6 499.6h0M148.6 508.9h0M151.3 505.8h0M136.6 517.0h0M163.8 488.9h0M163.9 489.0h0M134.5 524.2h0M157.5 498.5h0M136.8 521.8h0M137.9 520.6h0M135.6 523.1h0M140.0 512.8h0M151.5 505.6h0M162.5 491.9h0M163.6 490.1h0M128.7 528.0h0M163.7 489.1h0M132.2 522.7h0M127.9 531.1h0M141.9 516.3h0M130.3 528.8h0M142.5 515.7h0M141.2 511.5h0M146.9 510.7h0M142.8 509.6h0M162.2 492.2h0M159.1 496.6h0M149.9 501.7h0M145.7 512.1h0M144.3 507.9h0M130.6 528.5h0M137.2 516.3h0M132.5 526.4h0M153.3 498.2h0M156.2 495.3h0M126.8 531.4h0M137.2 521.3h0M145.7 506.3h0M155.1 501.3h0M160.9 491.0h0M150.8 506.4h0M153.0 503.8h0M142.5 510.0h0M163.0 489.4h0M128.0 531.0h0M153.7 502.9h0M159.2 492.4h0M137.9 520.5h0M134.4 524.3h0M143.4 514.6h0M152.2 504.6h0M163.6 489.6h0M131.3 527.6h0M134.5 519.8h0M152.2 504.6h0M143.7 508.6h0M152.3 504.5h0M130.3 528.6h0M137.9 515.4h0M145.2 512.6h0M131.6 527.3h0M132.3 522.8h0M156.0 500.1h0M150.3 506.8h0M162.8 491.1h0M143.8 514.0h0M128.1 529.2h0M163.2 489.5h0M158.6 497.0h0M131.5 523.9h0M160.3 491.6h0M163.2 489.6h0M136.8 521.6h0M142.4 510.2h0M151.2 505.8h0M144.1 513.7h0M129.1 529.8h0M162.9 489.7h0M162.3 490.0h0M145.0 512.7h0M136.6 521.8h0M133.5 525.2h0M146.1 506.0h0M155.5 500.7h0M151.9 504.9h0M163.3 489.7h0M139.3 513.9h0M163.2 489.7h0M151.0 500.8h0M148.3 509.0h0M156.4 499.6h0M148.0 509.4h0M162.9 490.9h0M131.6 527.2h0M137.0 521.3h0M154.4 497.3h0M132.9 522.0h0M154.4 502.0h0M138.6 519.6h0M147.7 504.2h0M127.9 530.8h0M142.1 515.8h0M158.1 493.6h0M129.8 526.5h0M152.7 503.9h0M151.1 505.8h0M139.5 518.6h0M144.1 513.7h0M135.9 522.4h0M147.4 504.6h0M147.3 510.0h0M129.1 529.6h0M131.9 523.4h0M162.4 491.7h0M138.1 520.0h0M149.3 502.6h0M153.3 498.5h0M158.5 497.0h0M162.4 491.7h0M152.0 504.7h0M132.4 526.3h0M157.6 498.0h0M130.5 528.2h0M150.0 501.9h0M129.1 529.6h0M148.7 508.5h0M144.1 508.4h0M162.9 490.1h0M145.2 512.4h0M147.4 509.8h0M143.2 514.6h0M131.1 524.7h0M153.6 498.2h0M151.0 505.8h0M145.9 511.5h0M156.4 495.3h0M156.9 498.8h0M132.0 526.6h0M136.7 521.4h0M162.8 490.3h0M129.9 528.8h0M161.0 493.6h0M162.0 492.1h0M135.0 523.3h0M129.4 529.2h0M152.5 499.4h0M162.5 490.2h0M153.2 503.2h0M136.4 521.7h0M127.8 530.2h0M135.7 518.5h0M143.7 513.9h0M145.7 511.8h0M148.7 503.3h0M139.7 513.5h0M132.1 526.5h0M153.6 502.7h0M130.5 525.6h0M156.7 499.0h0M132.0 523.4h0M141.4 511.5h0M144.1 508.4h0M136.2 522.0h0M155.2 496.6h0M137.6 520.5h0M150.1 501.9h0M144.3 508.1h0M136.1 518.0h0M152.5 499.4h0M139.9 513.3h0M128.2 530.2h0M136.8 521.4h0M137.2 520.9h0M132.7 525.8h0M159.9 495.0h0M162.6 490.4h0M157.3 498.3h0M143.6 509.0h0M128.0 530.0h0M152.9 503.4h0M162.6 490.6h0M159.4 492.6h0M159.2 496.0h0M159.0 496.2h0M159.0 496.1h0M145.3 507.1h0M161.9 490.7h0M152.6 499.3h0M150.0 506.8h0M129.6 527.1h0M142.9 514.8h0M146.3 506.0h0M132.3 523.1h0M150.1 506.7h0M130.9 525.1h0M135.4 522.8h0M151.5 500.4h0M140.0 517.8h0M148.1 508.9h0M144.4 513.0h0M148.7 503.4h0M142.4 510.5h0M151.5 505.0h0M151.2 505.3h0M135.2 519.3h0M159.3 492.8h0M132.6 525.8h0M146.9 505.4h0M160.3 491.9h0M143.9 508.8h0M134.3 523.9h0M130.1 526.3h0M150.9 501.1h0M133.3 521.7h0M160.0 492.2h0M143.5 514.0h0M132.9 525.4h0M135.9 522.1h0M135.9 522.1h0M131.6 524.2h0M137.3 516.6h0M149.0 507.9h0M161.4 492.7h0M138.5 515.1h0M144.4 508.2h0M159.6 495.3h0M146.5 505.8h0M141.8 511.2h0M151.3 505.2h0M162.2 491.3h0M157.5 494.5h0M133.5 524.7h0M134.1 520.8h0M142.8 514.8h0M151.0 505.6h0M155.3 500.4h0M151.0 505.5h0M144.0 513.4h0M146.3 506.2h0M128.5 529.4h0M136.2 521.7h0M129.0 529.2h0M150.4 506.2h0M129.6 528.8h0M155.5 496.6h0M147.6 509.4h0M144.0 508.7h0M133.4 521.7h0M156.8 495.3h0M147.1 509.9h0M162.0 491.6h0M149.9 502.3h0M142.7 514.7h0M156.5 495.6h0M128.7 529.1h0M157.5 497.7h0M162.0 491.5h0M147.1 509.9h0M152.0 504.3h0M144.9 512.3h0M161.9 491.6h0M130.5 527.8h0M157.9 497.3h0M160.7 493.6h0M142.1 515.3h0M148.3 504.1h0M134.6 523.4h0M149.5 507.1h0M138.5 519.3h0M148.6 508.2h0M155.6 500.0h0M153.2 502.8h0M161.5 491.4h0M160.7 491.9h0M132.0 526.3h0M132.5 523.0h0M134.0 521.0h0M142.1 515.3h0M130.3 526.3h0M147.9 508.9h0M154.9 497.2h0M153.0 503.0h0M132.9 522.5h0M131.2 527.0h0M130.0 526.8h0M160.5 492.1h0M142.3 510.8h0M136.5 521.2h0M155.4 500.2h0M155.6 499.9h0M154.4 497.8h0M135.8 518.7h0M158.2 494.0h0M148.8 507.9h0M135.1 519.6h0M129.6 527.5h0M158.2 494.1h0M139.1 514.6h0M129.3 528.6h0M134.5 523.3h0M137.6 520.0h0M138.2 519.4h0M159.5 495.1h0M147.3 505.2h0M133.9 521.2h0M151.6 504.6h0M158.3 494.0h0M142.3 515.0h0M158.9 495.9h0M157.2 497.9h0M141.1 516.3h0M130.0 526.9h0M131.7 524.2h0M133.1 524.9h0M158.4 493.9h0M155.0 500.6h0M132.0 526.1h0M142.3 510.8h0M161.3 492.1h0M156.8 495.5h0M146.0 510.9h0M160.8 493.2h0M130.1 527.9h0M138.0 516.1h0M155.6 499.8h0M154.7 497.6h0M131.3 526.7h0M147.2 505.3h0M134.1 523.7h0M158.8 495.9h0M157.9 494.5h0M141.8 511.5h0M130.2 526.7h0M155.9 496.4h0M161.0 492.5h0M142.1 511.2h0M160.5 492.4h0M154.7 500.8h0M154.5 501.0h0M155.9 499.4h0M157.9 494.6h0M148.1 508.5h0M160.0 492.8h0M130.2 526.8h0M129.9 527.6h0M160.6 493.3h0M130.9 527.0h0M132.7 525.2h0M153.7 502.0h0M156.2 499.0h0M141.0 516.2h0M147.6 505.1h0M156.0 499.2h0M138.1 519.3h0M138.0 519.4h0M140.3 517.0h0M133.2 524.6h0M144.7 512.2h0M155.3 500.0h0M160.8 492.5h0M146.1 506.7h0M134.7 523.0h0M142.0 511.4h0M141.2 512.4h0M154.6 500.8h0M130.5 527.3h0M158.8 495.8h0M130.2 526.9h0M135.6 519.2h0M146.3 510.4h0M138.0 519.4h0M130.7 527.0h0M130.5 526.5h0M133.1 522.6h0M132.6 525.1h0M132.5 523.3h0M141.3 515.9h0M130.3 527.3h0M157.6 497.1h0M156.4 498.6h0M139.7 517.5h0M145.3 507.6h0M143.1 510.1h0M156.6 498.4h0M135.5 521.9h0M160.3 492.9h0M142.8 514.2h0M137.1 517.4h0M153.8 498.7h0M148.9 507.4h0M135.5 522.0h0M144.2 508.9h0M132.2 525.5h0M150.3 505.8h0M155.3 499.9h0M159.6 494.5h0M130.8 526.1h0M146.1 506.9h0M155.3 499.9h0M140.0 513.8h0M130.9 526.6h0M151.9 503.9h0M144.2 509.0h0M131.7 524.8h0M155.8 499.2h0M138.8 515.4h0M153.9 498.7h0M132.4 523.7h0M139.0 518.2h0M134.1 521.4h0M140.7 513.1h0M141.9 515.1h0M130.8 526.4h0M159.0 495.2h0M131.1 526.4h0M131.3 526.2h0M150.4 502.3h0M151.6 504.1h0M146.3 510.2h0M149.1 503.7h0M156.5 498.3h0M138.3 516.0h0M159.8 493.6h0M155.4 497.3h0M158.1 494.8h0M158.9 495.2h0M157.7 496.9h0M156.1 496.7h0M140.5 513.4h0M143.0 513.8h0M136.6 520.7h0M131.2 526.1h0M134.7 522.7h0M138.3 516.1h0M143.8 512.9h0M145.7 507.4h0M135.5 521.7h0M142.0 511.6h0M155.0 497.7h0M150.2 505.7h0M138.7 515.7h0M132.8 523.3h0M155.6 499.3h0M135.6 519.6h0M141.5 515.3h0M134.5 521.0h0M157.9 495.1h0M138.9 515.3h0M140.8 513.1h0M159.1 494.0h0M159.2 494.6h0M148.9 504.0h0M156.3 498.4h0M144.1 512.5h0M158.3 495.8h0M136.9 520.3h0M131.7 525.5h0M151.8 503.8h0M141.2 515.7h0M155.7 497.1h0M159.2 494.2h0M155.6 497.3h0M137.6 517.0h0M148.8 504.2h0M157.3 497.1h0M157.8 495.3h0M158.7 494.5h0M152.0 500.9h0M147.9 505.2h0M146.4 509.9h0M136.0 519.1h0M158.5 495.5h0M141.5 515.3h0M142.5 514.2h0M138.8 515.6h0M133.1 524.1h0M132.9 523.4h0M157.2 495.8h0M153.0 502.3h0M158.7 495.1h0M142.3 514.4h0M135.2 520.2h0M153.2 502.0h0M138.4 516.1h0M135.1 520.4h0M134.7 520.9h0M133.0 524.1h0M158.5 495.2h0M157.8 495.4h0M158.5 495.0h0M141.7 514.9h0M151.3 504.2h0M138.6 515.9h0M153.8 499.1h0M148.7 504.4h0M137.9 519.0h0M132.8 523.7h0M137.4 519.5h0M152.2 500.8h0M139.1 517.8h0M149.8 503.2h0M154.9 499.9h0M156.1 498.4h0M133.4 523.6h0M136.6 518.5h0M157.6 496.4h0M134.9 522.1h0M139.8 517.0h0M157.5 495.7h0M149.2 506.6h0M133.3 523.6h0M139.1 515.4h0M148.7 504.4h0M139.5 517.3h0M150.6 502.4h0M134.1 521.9h0M156.6 496.5h0M140.1 516.6h0M155.4 499.2h0M156.6 496.6h0M153.8 501.1h0M157.3 496.0h0M135.2 520.4h0M150.4 502.6h0M155.2 499.5h0M136.3 520.5h0M150.9 504.5h0M144.1 512.2h0M150.4 502.7h0M139.3 515.2h0M141.7 514.8h0M152.4 502.8h0M136.1 520.7h0M137.4 519.4h0M146.0 510.1h0M145.9 507.5h0M142.1 514.4h0M135.5 520.1h0M133.6 523.1h0M135.3 521.5h0M142.1 514.4h0M144.1 509.5h0M135.2 521.6h0M145.3 510.8h0M134.3 522.4h0M155.0 498.1h0M156.3 497.0h0M134.0 522.7h0M134.3 521.7h0M155.8 498.6h0M138.5 518.2h0M156.8 496.6h0M138.7 517.9h0M134.8 522.0h0M155.7 497.6h0M136.3 520.4h0M143.8 509.9h0M157.1 496.7h0M146.1 507.3h0M151.6 503.6h0M138.9 515.7h0M151.0 502.2h0M136.3 519.1h0M143.7 512.7h0M135.5 520.1h0M154.1 499.1h0M136.6 518.7h0M150.7 502.4h0M154.6 498.7h0M134.3 522.0h0M147.1 508.8h0M144.5 511.7h0M154.5 500.1h0M155.7 497.6h0M156.6 497.0h0M149.3 503.9h0M150.3 502.9h0M137.9 518.7h0M156.1 497.4h0M153.7 499.5h0M134.6 521.7h0M156.4 497.3h0M146.8 506.7h0M136.8 519.8h0M143.8 510.0h0M149.7 503.5h0M142.4 511.6h0M155.8 498.3h0M146.5 507.0h0M136.5 518.9h0M153.5 499.7h0M134.9 521.4h0M141.6 512.6h0M143.2 510.8h0M151.6 503.5h0M145.7 510.3h0M149.2 506.4h0M140.9 515.5h0M136.0 520.5h0M135.3 520.7h0M154.2 500.4h0M145.4 508.3h0M155.2 498.3h0M151.9 501.3h0M149.5 506.0h0M135.8 520.6h0M135.4 520.9h0M149.8 503.5h0M148.6 504.8h0M155.6 498.3h0M146.1 509.8h0M155.0 499.2h0M147.8 507.8h0M139.1 517.3h0M138.9 516.0h0M141.2 513.2h0M144.4 511.7h0M135.7 520.6h0M151.3 503.7h0M135.7 520.5h0M145.1 510.8h0M137.8 518.6h0M153.5 501.1h0M149.3 504.1h0M136.5 519.2h0M141.4 514.8h0M155.0 498.9h0M141.6 514.6h0M136.3 519.5h0M154.8 498.9h0M141.7 512.6h0M143.1 513.0h0M145.8 510.1h0M136.5 519.7h0M140.3 516.0h0M137.3 518.1h0M136.6 519.6h0M151.1 503.9h0M142.9 513.2h0M140.3 516.0h0M148.0 505.6h0M148.6 506.8h0M153.3 500.2h0M140.6 515.6h0M142.3 513.8h0M147.8 507.8h0M153.4 501.1h0M153.7 500.6h0M136.7 519.1h0M142.9 513.2h0M138.3 517.9h0M152.6 500.9h0M147.7 507.8h0M137.4 518.1h0M137.6 517.9h0M149.7 505.5h0M148.7 506.7h0M143.7 512.3h0M154.2 499.7h0M144.5 511.3h0M151.1 502.4h0M151.5 503.3h0M153.8 500.4h0M150.4 503.1h0M140.5 515.6h0M137.1 519.0h0M143.7 512.2h0M144.3 509.7h0M148.6 506.8h0M151.3 503.5h0M149.3 504.3h0M140.9 515.2h0M146.8 507.0h0M140.9 515.2h0M137.5 518.2h0M152.3 501.3h0M137.7 518.3h0M149.3 504.3h0M147.3 506.4h0M144.6 511.2h0M151.2 502.4h0M153.4 500.6h0M142.0 514.0h0M137.7 518.1h0M152.6 501.2h0M138.0 517.5h0M148.3 505.4h0M141.1 514.9h0M140.0 514.9h0M151.3 503.4h0M137.8 517.9h0M137.9 517.8h0M140.2 514.7h0M145.7 508.2h0M141.9 512.6h0M152.7 501.5h0M152.8 501.3h0M141.1 513.6h0M139.9 516.0h0M148.5 506.8h0M150.5 503.2h0M150.7 504.1h0M141.1 513.7h0M145.2 510.4h0M151.7 502.8h0M149.5 505.5h0M139.4 515.8h0M140.5 514.4h0M148.3 505.5h0M150.0 504.9h0M147.9 506.0h0M149.3 504.5h0M148.6 505.2h0M139.2 516.6h0M140.3 514.7h0M140.8 514.0h0M150.5 503.3h0M142.4 512.1h0M147.3 508.0h0M150.2 504.6h0M144.0 510.2h0M144.1 510.2h0M148.3 505.6h0M149.6 504.3h0M141.7 514.1h0M140.3 514.8h0M149.9 504.9h0M144.7 510.8h0M149.8 505.0h0M148.8 505.1h0M141.2 514.5h0M147.3 507.9h0M141.6 513.2h0M149.5 504.4h0M141.9 512.9h0M150.7 503.4h0M142.9 511.7h0M150.0 504.7h0M145.7 508.4h0M140.5 515.1h0M149.4 504.6h0M150.4 503.7h0M150.4 503.8h0M148.3 506.6h0M140.7 514.7h0M141.4 514.2h0M146.4 507.7h0M141.4 513.6h0M143.0 511.6h0M143.8 510.6h0M145.2 509.1h0M143.8 511.7h0M148.0 506.1h0M141.3 514.0h0M149.7 504.6h0M143.2 511.4h0M149.4 504.8h0M148.6 505.6h0M148.2 505.9h0M141.7 513.4h0M148.5 506.3h0M143.1 512.3h0M143.6 511.8h0M143.3 511.4h0M145.4 508.9h0M144.6 509.9h0M142.2 512.8h0M142.2 512.9h0M146.9 508.1h0M147.8 507.0h0M148.8 505.6h0M148.5 505.8h0M142.3 512.8h0M147.9 506.9h0M142.5 512.7h0M146.9 507.4h0M146.3 508.1h0M146.0 509.0h0M145.4 509.1h0M145.6 509.0h0M146.7 508.1h0M145.3 509.4h0M146.6 508.1h0"/>
<path d="M94.7 589.0L539.0 145.0" stroke="#000" stroke-width="1.5" stroke-linecap="butt"/>
</g>
<!-- spines -->
<g fill="none" stroke="#111" stroke-width="1.1">
<rect x="94.7" y="145.0" width="444.3" height="444.0"/>
<rect x="94.7" y="0.5" width="444.3" height="137.0"/>
<rect x="547.5" y="144.5" width="137.0" height="444.0"/>
<path d="M94.70 589.00v4.3M94.70 589.00h-4.3M94.70 137.50v4.0M547.50 588.50h-4.3M158.17 589.00v4.3M94.70 525.57h-4.3M158.17 137.50v4.0M547.50 525.07h-4.3M221.64 589.00v4.3M94.70 462.14h-4.3M221.64 137.50v4.0M547.50 461.64h-4.3M285.11 589.00v4.3M94.70 398.71h-4.3M285.11 137.50v4.0M547.50 398.21h-4.3M348.59 589.00v4.3M94.70 335.29h-4.3M348.59 137.50v4.0M547.50 334.79h-4.3M412.06 589.00v4.3M94.70 271.86h-4.3M412.06 137.50v4.0M547.50 271.36h-4.3M475.53 589.00v4.3M94.70 208.43h-4.3M475.53 137.50v4.0M547.50 207.93h-4.3M539.00 589.00v4.3M94.70 145.00h-4.3M539.00 137.50v4.0M547.50 144.50h-4.3M94.70 137.50h-4.3M547.50 588.50v4.3M94.70 46.20h-4.3M638.80 588.50v4.3"/>
</g>
<!-- tick labels -->
<g font-size="23.5">
<text x="94.7" y="615.6" text-anchor="middle">0</text>
<text x="158.2" y="615.6" text-anchor="middle">2</text>
<text x="221.6" y="615.6" text-anchor="middle">4</text>
<text x="285.1" y="615.6" text-anchor="middle">6</text>
<text x="348.6" y="615.6" text-anchor="middle">8</text>
<text x="412.1" y="615.6" text-anchor="middle">10</text>
<text x="475.5" y="615.6" text-anchor="middle">12</text>
<text x="530.0" y="615.6" text-anchor="middle">14</text>
<text x="86.1" y="598.9" text-anchor="end">0</text>
<text x="86.1" y="535.5" text-anchor="end">2</text>
<text x="86.1" y="472.0" text-anchor="end">4</text>
<text x="86.1" y="408.6" text-anchor="end">6</text>
<text x="86.1" y="345.2" text-anchor="end">8</text>
<text x="86.1" y="281.8" text-anchor="end">10</text>
<text x="86.1" y="218.3" text-anchor="end">12</text>
<text x="86.1" y="157.3" text-anchor="end">14</text>
<text x="85.6" y="52.6" text-anchor="end">1000</text>
<text x="86.5" y="137.6" text-anchor="end">0</text>
<text x="553.7" y="615.6" text-anchor="middle">0</text>
<text x="639.4" y="615.6" text-anchor="middle">1000</text>
</g>
<!-- colorbar -->
<rect x="450.2" y="348.4" width="22.69999999999999" height="223.89999999999998" fill="url(#jet)" stroke="#222" stroke-width="1"/>
<g font-size="17.4">
<path d="M472.9 544.90h3.8" stroke="#222" stroke-width="1"/>
<text x="481.4" y="552.2" font-size="18">0.05</text>
<path d="M472.9 488.47h3.8" stroke="#222" stroke-width="1"/>
<text x="481.4" y="495.8" font-size="18">0.15</text>
<path d="M472.9 432.04h3.8" stroke="#222" stroke-width="1"/>
<text x="481.4" y="439.3" font-size="18">0.25</text>
<path d="M472.9 375.61h3.8" stroke="#222" stroke-width="1"/>
<text x="481.4" y="382.9" font-size="18">0.35</text>
<text x="447.6" y="340.4">Density</text>
</g>
<!-- axis labels -->
<g font-size="25">
<text transform="translate(278.5 645.4) scale(1.06 1)" font-style="italic">E</text>
<text transform="translate(298.2 631.6) scale(1.07 1)" font-size="14" letter-spacing="0.5">GGA</text>
<text transform="translate(333.2 645.4) scale(1.04 1)">(eV)</text>
<text x="295.4" y="654.6" font-size="14">g</text>
<g transform="translate(25.6 408.8) rotate(-90)">
<text transform="scale(1.08 1)" font-style="italic">E</text>
<text transform="translate(20.2 -13.9) scale(1.05 1)" font-size="14">HSE</text>
<text transform="translate(54.0 0) scale(1.05 1)">(eV)</text>
<text transform="translate(17.0 8.4)" font-size="14">g</text>
</g>
<text transform="translate(26.2 129.2) rotate(-90) scale(1.035 1)">Count</text>
<text transform="translate(563.6 640) scale(1.035 1)">Count</text>
</g>
</svg>
</body></html>
